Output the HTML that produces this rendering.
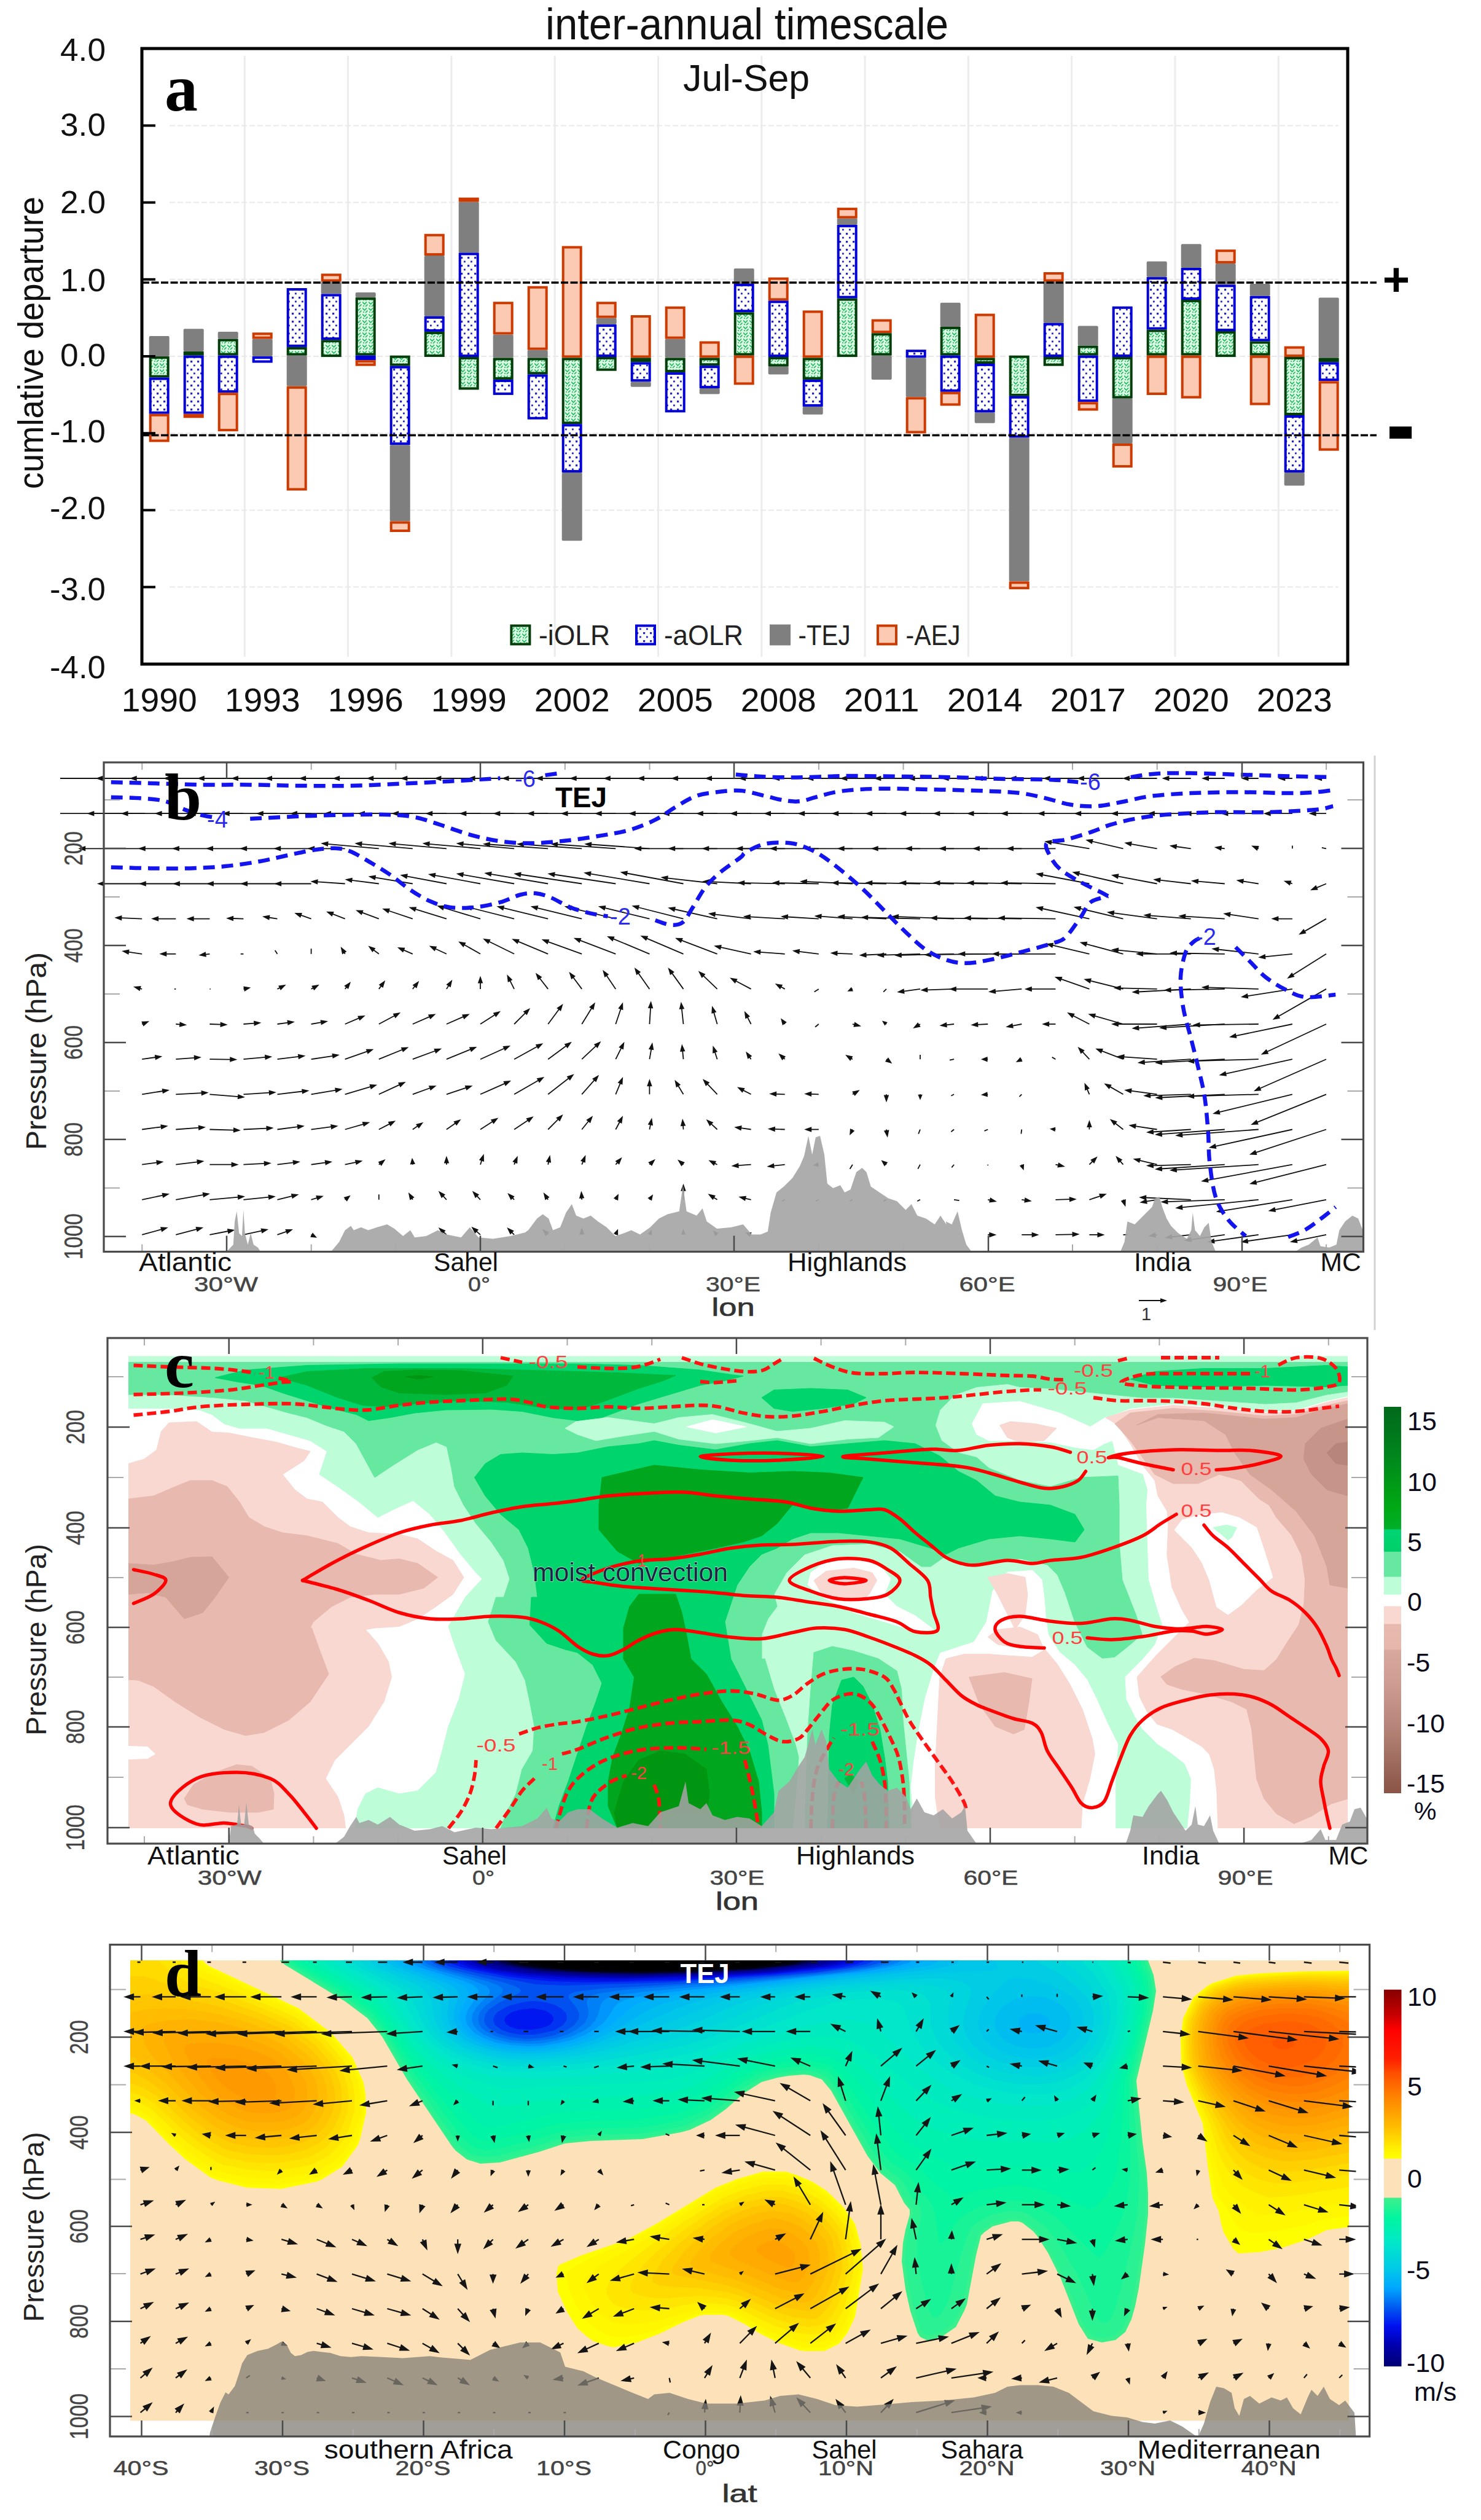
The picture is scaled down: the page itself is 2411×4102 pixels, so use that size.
<!DOCTYPE html>
<html><head><meta charset="utf-8"><title>figure</title>
<style>html,body{margin:0;padding:0;background:#fff}svg{display:block}text{font-family:"Liberation Sans",sans-serif}.pl{font-family:"Liberation Serif",serif;font-weight:bold}.cal{font-family:"Liberation Sans",sans-serif}</style>
</head><body>
<svg width="2411" height="4102" viewBox="0 0 2411 4102">
<defs><pattern id="pg" width="10" height="10" patternUnits="userSpaceOnUse"><rect width="10" height="10" fill="#dcf9e3"/><path d="M0 1.5L3.5 5L7 1.5M5 9L8.5 5.5" stroke="#1dbb5e" stroke-width="1.7" fill="none"/><circle cx="2" cy="8" r="1.1" fill="#1dbb5e"/></pattern>
<pattern id="pb" width="11" height="13" patternUnits="userSpaceOnUse"><rect width="11" height="13" fill="#fff"/><rect x="2" y="2" width="3.2" height="3.2" fill="#2626c8"/><rect x="7" y="8.5" width="2.8" height="2.8" fill="#2626c8"/></pattern>
<linearGradient id="cbc" x1="0" y1="0" x2="0" y2="1"><stop offset="0" stop-color="#006a1a"/><stop offset="0.06" stop-color="#00751c"/><stop offset="0.14" stop-color="#008a1c"/><stop offset="0.2" stop-color="#009a16"/><stop offset="0.26" stop-color="#00a814"/><stop offset="0.316" stop-color="#00b02a"/><stop offset="0.318" stop-color="#00d472"/><stop offset="0.374" stop-color="#00d06a"/><stop offset="0.376" stop-color="#66e8a0"/><stop offset="0.439" stop-color="#66e8a0"/><stop offset="0.441" stop-color="#bdfdd8"/><stop offset="0.485" stop-color="#bdfdd8"/><stop offset="0.487" stop-color="#ffffff"/><stop offset="0.515" stop-color="#ffffff"/><stop offset="0.517" stop-color="#f8d8d1"/><stop offset="0.561" stop-color="#f8d8d1"/><stop offset="0.563" stop-color="#e8b9ae"/><stop offset="0.627" stop-color="#e6b6ab"/><stop offset="0.63" stop-color="#d9a89c"/><stop offset="0.72" stop-color="#cd9b8f"/><stop offset="0.82" stop-color="#b8857a"/><stop offset="0.9" stop-color="#a37064"/><stop offset="1" stop-color="#8a5446"/></linearGradient>
<linearGradient id="cbd" x1="0" y1="0" x2="0" y2="1"><stop offset="0.0000" stop-color="#8a0000"/><stop offset="0.0049" stop-color="#8a0000"/><stop offset="0.0680" stop-color="#c80000"/><stop offset="0.1068" stop-color="#ff0000"/><stop offset="0.1845" stop-color="#ff2000"/><stop offset="0.2233" stop-color="#ff5000"/><stop offset="0.2913" stop-color="#ff8800"/><stop offset="0.3689" stop-color="#ffc000"/><stop offset="0.4223" stop-color="#fff000"/><stop offset="0.4476" stop-color="#ffff00"/><stop offset="0.4490" stop-color="#fde2b9"/><stop offset="0.5510" stop-color="#fde2b9"/><stop offset="0.5534" stop-color="#3df08c"/><stop offset="0.6068" stop-color="#00f5a0"/><stop offset="0.6699" stop-color="#00e8c8"/><stop offset="0.7427" stop-color="#00c8e8"/><stop offset="0.7913" stop-color="#00a8ff"/><stop offset="0.8398" stop-color="#0060f0"/><stop offset="0.8932" stop-color="#0010f0"/><stop offset="0.9417" stop-color="#0000b0"/><stop offset="0.9951" stop-color="#000078"/><stop offset="1.0000" stop-color="#000070"/></linearGradient></defs>
<rect width="2411" height="4102" fill="#fff"/>
<g id="pa"><rect x="396.8" y="91" width="3" height="978" fill="#ececec"/>
<rect x="565.1" y="91" width="3" height="978" fill="#ececec"/>
<rect x="733.4" y="91" width="3" height="978" fill="#ececec"/>
<rect x="901.7" y="91" width="3" height="978" fill="#ececec"/>
<rect x="1070" y="91" width="3" height="978" fill="#ececec"/>
<rect x="1238.3" y="91" width="3" height="978" fill="#ececec"/>
<rect x="1406.6" y="91" width="3" height="978" fill="#ececec"/>
<rect x="1574.9" y="91" width="3" height="978" fill="#ececec"/>
<rect x="1743.2" y="91" width="3" height="978" fill="#ececec"/>
<rect x="1911.5" y="91" width="3" height="978" fill="#ececec"/>
<rect x="2079.8" y="91" width="3" height="978" fill="#ececec"/>
<path d="M276 955.6H2179" stroke="#e9e9e9" stroke-width="2" stroke-dasharray="9 4"/>
<path d="M276 830.4H2179" stroke="#e9e9e9" stroke-width="2" stroke-dasharray="9 4"/>
<path d="M276 705.2H2179" stroke="#e9e9e9" stroke-width="2" stroke-dasharray="9 4"/>
<path d="M276 580H2179" stroke="#e9e9e9" stroke-width="2" stroke-dasharray="9 4"/>
<path d="M276 454.8H2179" stroke="#e9e9e9" stroke-width="2" stroke-dasharray="9 4"/>
<path d="M276 329.6H2179" stroke="#e9e9e9" stroke-width="2" stroke-dasharray="9 4"/>
<path d="M276 204.4H2179" stroke="#e9e9e9" stroke-width="2" stroke-dasharray="9 4"/>
<rect x="242.7" y="547" width="33" height="33.1" rx="2" fill="#7f7f7f"/>
<rect x="244.7" y="582.1" width="29" height="30.5" fill="url(#pg)" stroke="#033d0a" stroke-width="4"/>
<rect x="244.7" y="616.6" width="29" height="55.1" fill="url(#pb)" stroke="#0000d6" stroke-width="4"/>
<rect x="244.7" y="675.7" width="29" height="41.8" fill="#fcc9b3" stroke="#cc3a00" stroke-width="4"/>
<rect x="298.7" y="535.2" width="33" height="36.9" rx="2" fill="#7f7f7f"/>
<rect x="300.7" y="574.1" width="29" height="2.6" fill="url(#pg)" stroke="#033d0a" stroke-width="4"/>
<rect x="300.7" y="580.7" width="29" height="91" fill="url(#pb)" stroke="#0000d6" stroke-width="4"/>
<rect x="300.7" y="675.7" width="29" height="2.6" fill="#fcc9b3" stroke="#cc3a00" stroke-width="4"/>
<rect x="354.7" y="539.9" width="33" height="11.8" rx="2" fill="#7f7f7f"/>
<rect x="356.7" y="553.7" width="29" height="22.9" fill="url(#pg)" stroke="#033d0a" stroke-width="4"/>
<rect x="356.7" y="580.7" width="29" height="56.5" fill="url(#pb)" stroke="#0000d6" stroke-width="4"/>
<rect x="356.7" y="641.2" width="29" height="58.9" fill="#fcc9b3" stroke="#cc3a00" stroke-width="4"/>
<rect x="410.7" y="551.7" width="33" height="28.4" rx="2" fill="#7f7f7f"/>
<rect x="412.7" y="543.3" width="29" height="6.4" fill="#fcc9b3" stroke="#cc3a00" stroke-width="4"/>
<rect x="412.7" y="582.1" width="29" height="6.4" fill="url(#pb)" stroke="#0000d6" stroke-width="4"/>
<rect x="466.7" y="578.7" width="33" height="50.1" rx="2" fill="#7f7f7f"/>
<rect x="468.7" y="471" width="29" height="91.9" fill="url(#pb)" stroke="#0000d6" stroke-width="4"/>
<rect x="468.7" y="567" width="29" height="9.7" fill="url(#pg)" stroke="#033d0a" stroke-width="4"/>
<rect x="468.7" y="630.8" width="29" height="165.7" fill="#fcc9b3" stroke="#cc3a00" stroke-width="4"/>
<rect x="522.7" y="458.6" width="33" height="19.8" rx="2" fill="#7f7f7f"/>
<rect x="524.7" y="447.4" width="29" height="9.2" fill="#fcc9b3" stroke="#cc3a00" stroke-width="4"/>
<rect x="524.7" y="480.5" width="29" height="70.7" fill="url(#pb)" stroke="#0000d6" stroke-width="4"/>
<rect x="524.7" y="555.2" width="29" height="23.9" fill="url(#pg)" stroke="#033d0a" stroke-width="4"/>
<rect x="578.7" y="476.1" width="33" height="8" rx="2" fill="#7f7f7f"/>
<rect x="580.7" y="486.2" width="29" height="90.5" fill="url(#pg)" stroke="#033d0a" stroke-width="4"/>
<rect x="580.7" y="580.7" width="29" height="3.6" fill="url(#pb)" stroke="#0000d6" stroke-width="4"/>
<rect x="580.7" y="588.2" width="29" height="5.5" fill="#fcc9b3" stroke="#cc3a00" stroke-width="4"/>
<rect x="634.7" y="724.2" width="33" height="124.3" rx="2" fill="#7f7f7f"/>
<rect x="636.7" y="580.7" width="29" height="13" fill="url(#pg)" stroke="#033d0a" stroke-width="4"/>
<rect x="636.7" y="597.7" width="29" height="124.5" fill="url(#pb)" stroke="#0000d6" stroke-width="4"/>
<rect x="636.7" y="850.5" width="29" height="13.5" fill="#fcc9b3" stroke="#cc3a00" stroke-width="4"/>
<rect x="690.7" y="416.1" width="33" height="98.8" rx="2" fill="#7f7f7f"/>
<rect x="692.7" y="382.7" width="29" height="31.4" fill="#fcc9b3" stroke="#cc3a00" stroke-width="4"/>
<rect x="692.7" y="516.9" width="29" height="21" fill="url(#pb)" stroke="#0000d6" stroke-width="4"/>
<rect x="692.7" y="541.9" width="29" height="37.1" fill="url(#pg)" stroke="#033d0a" stroke-width="4"/>
<rect x="746.7" y="328.7" width="33" height="82.7" rx="2" fill="#7f7f7f"/>
<rect x="748.7" y="323.6" width="29" height="3.1" fill="#fcc9b3" stroke="#cc3a00" stroke-width="4"/>
<rect x="748.7" y="413.4" width="29" height="165.7" fill="url(#pb)" stroke="#0000d6" stroke-width="4"/>
<rect x="748.7" y="583" width="29" height="49.4" fill="url(#pg)" stroke="#033d0a" stroke-width="4"/>
<rect x="802.7" y="544.7" width="33" height="37.8" rx="2" fill="#7f7f7f"/>
<rect x="804.7" y="493.2" width="29" height="49.4" fill="#fcc9b3" stroke="#cc3a00" stroke-width="4"/>
<rect x="804.7" y="584.5" width="29" height="31.4" fill="url(#pg)" stroke="#033d0a" stroke-width="4"/>
<rect x="804.7" y="619.9" width="29" height="21" fill="url(#pb)" stroke="#0000d6" stroke-width="4"/>
<rect x="858.7" y="569.7" width="33" height="12.8" rx="2" fill="#7f7f7f"/>
<rect x="860.7" y="467.7" width="29" height="100" fill="#fcc9b3" stroke="#cc3a00" stroke-width="4"/>
<rect x="860.7" y="584.5" width="29" height="22.9" fill="url(#pg)" stroke="#033d0a" stroke-width="4"/>
<rect x="860.7" y="611.4" width="29" height="69.3" fill="url(#pb)" stroke="#0000d6" stroke-width="4"/>
<rect x="914.7" y="769.1" width="33" height="111.1" rx="2" fill="#7f7f7f"/>
<rect x="916.7" y="402.5" width="29" height="177.9" fill="#fcc9b3" stroke="#cc3a00" stroke-width="4"/>
<rect x="916.7" y="584.5" width="29" height="103.8" fill="url(#pg)" stroke="#033d0a" stroke-width="4"/>
<rect x="916.7" y="692.2" width="29" height="74.9" fill="url(#pb)" stroke="#0000d6" stroke-width="4"/>
<rect x="970.7" y="517.7" width="33" height="10.4" rx="2" fill="#7f7f7f"/>
<rect x="972.7" y="493.2" width="29" height="22.5" fill="#fcc9b3" stroke="#cc3a00" stroke-width="4"/>
<rect x="972.7" y="530.1" width="29" height="48.9" fill="url(#pb)" stroke="#0000d6" stroke-width="4"/>
<rect x="972.7" y="583" width="29" height="18.7" fill="url(#pg)" stroke="#033d0a" stroke-width="4"/>
<rect x="1026.7" y="621.2" width="33" height="8.5" rx="2" fill="#7f7f7f"/>
<rect x="1028.7" y="515" width="29" height="65.5" fill="#fcc9b3" stroke="#cc3a00" stroke-width="4"/>
<rect x="1028.7" y="584.5" width="29" height="3.1" fill="url(#pg)" stroke="#033d0a" stroke-width="4"/>
<rect x="1028.7" y="591.5" width="29" height="27.7" fill="url(#pb)" stroke="#0000d6" stroke-width="4"/>
<rect x="1082.7" y="551.7" width="33" height="30.7" rx="2" fill="#7f7f7f"/>
<rect x="1084.7" y="500.8" width="29" height="48.9" fill="#fcc9b3" stroke="#cc3a00" stroke-width="4"/>
<rect x="1084.7" y="584.5" width="29" height="19.6" fill="url(#pg)" stroke="#033d0a" stroke-width="4"/>
<rect x="1084.7" y="608.1" width="29" height="61.2" fill="url(#pb)" stroke="#0000d6" stroke-width="4"/>
<rect x="1138.7" y="632.1" width="33" height="9.5" rx="2" fill="#7f7f7f"/>
<rect x="1140.7" y="557.5" width="29" height="22.9" fill="#fcc9b3" stroke="#cc3a00" stroke-width="4"/>
<rect x="1140.7" y="584.5" width="29" height="8.8" fill="url(#pg)" stroke="#033d0a" stroke-width="4"/>
<rect x="1140.7" y="597.2" width="29" height="32.9" fill="url(#pb)" stroke="#0000d6" stroke-width="4"/>
<rect x="1194.7" y="436.9" width="33" height="25" rx="2" fill="#7f7f7f"/>
<rect x="1196.7" y="463.9" width="29" height="42.3" fill="url(#pb)" stroke="#0000d6" stroke-width="4"/>
<rect x="1196.7" y="510.3" width="29" height="66.4" fill="url(#pg)" stroke="#033d0a" stroke-width="4"/>
<rect x="1196.7" y="580.7" width="29" height="43.7" fill="#fcc9b3" stroke="#cc3a00" stroke-width="4"/>
<rect x="1250.7" y="596.6" width="33" height="12.8" rx="2" fill="#7f7f7f"/>
<rect x="1252.7" y="453.6" width="29" height="33.8" fill="#fcc9b3" stroke="#cc3a00" stroke-width="4"/>
<rect x="1252.7" y="491.4" width="29" height="87.7" fill="url(#pb)" stroke="#0000d6" stroke-width="4"/>
<rect x="1252.7" y="583" width="29" height="11.6" fill="url(#pg)" stroke="#033d0a" stroke-width="4"/>
<rect x="1306.7" y="661.9" width="33" height="12.8" rx="2" fill="#7f7f7f"/>
<rect x="1308.7" y="507.4" width="29" height="73" fill="#fcc9b3" stroke="#cc3a00" stroke-width="4"/>
<rect x="1308.7" y="584.5" width="29" height="31.4" fill="url(#pg)" stroke="#033d0a" stroke-width="4"/>
<rect x="1308.7" y="619.9" width="29" height="40" fill="url(#pb)" stroke="#0000d6" stroke-width="4"/>
<rect x="1362.7" y="355.6" width="33" height="10.4" rx="2" fill="#7f7f7f"/>
<rect x="1364.7" y="340.1" width="29" height="13.5" fill="#fcc9b3" stroke="#cc3a00" stroke-width="4"/>
<rect x="1364.7" y="368" width="29" height="115.6" fill="url(#pb)" stroke="#0000d6" stroke-width="4"/>
<rect x="1364.7" y="487.6" width="29" height="91.5" fill="url(#pg)" stroke="#033d0a" stroke-width="4"/>
<rect x="1418.7" y="578.7" width="33" height="39.2" rx="2" fill="#7f7f7f"/>
<rect x="1420.7" y="521.6" width="29" height="18.7" fill="#fcc9b3" stroke="#cc3a00" stroke-width="4"/>
<rect x="1420.7" y="544.3" width="29" height="32.4" fill="url(#pg)" stroke="#033d0a" stroke-width="4"/>
<rect x="1474.7" y="582.5" width="33" height="63.8" rx="2" fill="#7f7f7f"/>
<rect x="1476.7" y="571.2" width="29" height="9.2" fill="url(#pb)" stroke="#0000d6" stroke-width="4"/>
<rect x="1476.7" y="648.3" width="29" height="55.1" fill="#fcc9b3" stroke="#cc3a00" stroke-width="4"/>
<rect x="1530.7" y="492.7" width="33" height="39.2" rx="2" fill="#7f7f7f"/>
<rect x="1532.7" y="533.9" width="29" height="42.8" fill="url(#pg)" stroke="#033d0a" stroke-width="4"/>
<rect x="1532.7" y="580.7" width="29" height="55.1" fill="url(#pb)" stroke="#0000d6" stroke-width="4"/>
<rect x="1532.7" y="639.8" width="29" height="18.7" fill="#fcc9b3" stroke="#cc3a00" stroke-width="4"/>
<rect x="1586.7" y="671.3" width="33" height="17.5" rx="2" fill="#7f7f7f"/>
<rect x="1588.7" y="512.6" width="29" height="67.8" fill="#fcc9b3" stroke="#cc3a00" stroke-width="4"/>
<rect x="1588.7" y="584.5" width="29" height="5.5" fill="url(#pg)" stroke="#033d0a" stroke-width="4"/>
<rect x="1588.7" y="593.9" width="29" height="75.4" fill="url(#pb)" stroke="#0000d6" stroke-width="4"/>
<rect x="1642.7" y="712.4" width="33" height="233.9" rx="2" fill="#7f7f7f"/>
<rect x="1644.7" y="580.7" width="29" height="62.2" fill="url(#pg)" stroke="#033d0a" stroke-width="4"/>
<rect x="1644.7" y="646.8" width="29" height="63.6" fill="url(#pb)" stroke="#0000d6" stroke-width="4"/>
<rect x="1644.7" y="948.4" width="29" height="8.8" fill="#fcc9b3" stroke="#cc3a00" stroke-width="4"/>
<rect x="1698.7" y="458.6" width="33" height="67.1" rx="2" fill="#7f7f7f"/>
<rect x="1700.7" y="445" width="29" height="11.6" fill="#fcc9b3" stroke="#cc3a00" stroke-width="4"/>
<rect x="1700.7" y="527.7" width="29" height="51.3" fill="url(#pb)" stroke="#0000d6" stroke-width="4"/>
<rect x="1700.7" y="583" width="29" height="10.7" fill="url(#pg)" stroke="#033d0a" stroke-width="4"/>
<rect x="1754.7" y="530.5" width="33" height="32.1" rx="2" fill="#7f7f7f"/>
<rect x="1756.7" y="564.6" width="29" height="12.1" fill="url(#pg)" stroke="#033d0a" stroke-width="4"/>
<rect x="1756.7" y="580.7" width="29" height="71.6" fill="url(#pb)" stroke="#0000d6" stroke-width="4"/>
<rect x="1756.7" y="656.3" width="29" height="10.2" fill="#fcc9b3" stroke="#cc3a00" stroke-width="4"/>
<rect x="1810.7" y="648.6" width="33" height="73.3" rx="2" fill="#7f7f7f"/>
<rect x="1812.7" y="500.8" width="29" height="78.2" fill="url(#pb)" stroke="#0000d6" stroke-width="4"/>
<rect x="1812.7" y="583" width="29" height="63.6" fill="url(#pg)" stroke="#033d0a" stroke-width="4"/>
<rect x="1812.7" y="723.9" width="29" height="35.2" fill="#fcc9b3" stroke="#cc3a00" stroke-width="4"/>
<rect x="1866.7" y="425.6" width="33" height="25.5" rx="2" fill="#7f7f7f"/>
<rect x="1868.7" y="453.1" width="29" height="81.5" fill="url(#pb)" stroke="#0000d6" stroke-width="4"/>
<rect x="1868.7" y="538.6" width="29" height="38.1" fill="url(#pg)" stroke="#033d0a" stroke-width="4"/>
<rect x="1868.7" y="580.7" width="29" height="60.3" fill="#fcc9b3" stroke="#cc3a00" stroke-width="4"/>
<rect x="1922.7" y="397.2" width="33" height="38.8" rx="2" fill="#7f7f7f"/>
<rect x="1924.7" y="438" width="29" height="48" fill="url(#pb)" stroke="#0000d6" stroke-width="4"/>
<rect x="1924.7" y="489.9" width="29" height="86.7" fill="url(#pg)" stroke="#033d0a" stroke-width="4"/>
<rect x="1924.7" y="580.7" width="29" height="65.9" fill="#fcc9b3" stroke="#cc3a00" stroke-width="4"/>
<rect x="1978.7" y="428.9" width="33" height="34.5" rx="2" fill="#7f7f7f"/>
<rect x="1980.7" y="408.2" width="29" height="18.7" fill="#fcc9b3" stroke="#cc3a00" stroke-width="4"/>
<rect x="1980.7" y="465.4" width="29" height="71.6" fill="url(#pb)" stroke="#0000d6" stroke-width="4"/>
<rect x="1980.7" y="541" width="29" height="38.1" fill="url(#pg)" stroke="#033d0a" stroke-width="4"/>
<rect x="2034.7" y="461.9" width="33" height="19.8" rx="2" fill="#7f7f7f"/>
<rect x="2036.7" y="483.8" width="29" height="69.7" fill="url(#pb)" stroke="#0000d6" stroke-width="4"/>
<rect x="2036.7" y="557.5" width="29" height="19.2" fill="url(#pg)" stroke="#033d0a" stroke-width="4"/>
<rect x="2036.7" y="580.7" width="29" height="76.8" fill="#fcc9b3" stroke="#cc3a00" stroke-width="4"/>
<rect x="2090.7" y="769.1" width="33" height="21.3" rx="2" fill="#7f7f7f"/>
<rect x="2092.7" y="565.6" width="29" height="13.5" fill="#fcc9b3" stroke="#cc3a00" stroke-width="4"/>
<rect x="2092.7" y="583" width="29" height="91" fill="url(#pg)" stroke="#033d0a" stroke-width="4"/>
<rect x="2092.7" y="678" width="29" height="89.1" fill="url(#pb)" stroke="#0000d6" stroke-width="4"/>
<rect x="2146.7" y="484.6" width="33" height="97.8" rx="2" fill="#7f7f7f"/>
<rect x="2148.7" y="584.5" width="29" height="3.1" fill="url(#pg)" stroke="#033d0a" stroke-width="4"/>
<rect x="2148.7" y="591.5" width="29" height="26.7" fill="url(#pb)" stroke="#0000d6" stroke-width="4"/>
<rect x="2148.7" y="622.3" width="29" height="109.4" fill="#fcc9b3" stroke="#cc3a00" stroke-width="4"/>
<path d="M231 460H2241" stroke="#000" stroke-width="3.4" stroke-dasharray="12 3.5"/>
<path d="M231 708.5H2241" stroke="#000" stroke-width="3.4" stroke-dasharray="12 3.5"/>
<rect x="231" y="79" width="1963" height="1002" fill="none" stroke="#000" stroke-width="5"/>
<path d="M231 955.6H253" stroke="#000" stroke-width="4"/>
<path d="M231 830.4H253" stroke="#000" stroke-width="4"/>
<path d="M231 705.2H253" stroke="#000" stroke-width="4"/>
<path d="M231 580H253" stroke="#000" stroke-width="4"/>
<path d="M231 454.8H253" stroke="#000" stroke-width="4"/>
<path d="M231 329.6H253" stroke="#000" stroke-width="4"/>
<path d="M231 204.4H253" stroke="#000" stroke-width="4"/>
<text x="172" y="98.7" font-size="51" text-anchor="end" textLength="74" lengthAdjust="spacingAndGlyphs" fill="#111">4.0</text>
<text x="172" y="221" font-size="51" text-anchor="end" textLength="74" lengthAdjust="spacingAndGlyphs" fill="#111">3.0</text>
<text x="172" y="347" font-size="51" text-anchor="end" textLength="74" lengthAdjust="spacingAndGlyphs" fill="#111">2.0</text>
<text x="172" y="473.8" font-size="51" text-anchor="end" textLength="74" lengthAdjust="spacingAndGlyphs" fill="#111">1.0</text>
<text x="172" y="596" font-size="51" text-anchor="end" textLength="74" lengthAdjust="spacingAndGlyphs" fill="#111">0.0</text>
<text x="172" y="720" font-size="51" text-anchor="end" textLength="91" lengthAdjust="spacingAndGlyphs" fill="#111">-1.0</text>
<text x="172" y="844.5" font-size="51" text-anchor="end" textLength="91" lengthAdjust="spacingAndGlyphs" fill="#111">-2.0</text>
<text x="172" y="977" font-size="51" text-anchor="end" textLength="91" lengthAdjust="spacingAndGlyphs" fill="#111">-3.0</text>
<text x="172" y="1104" font-size="51" text-anchor="end" textLength="91" lengthAdjust="spacingAndGlyphs" fill="#111">-4.0</text>
<text x="259.2" y="1157.5" font-size="54" text-anchor="middle" textLength="123" lengthAdjust="spacingAndGlyphs" fill="#111">1990</text>
<text x="427.2" y="1157.5" font-size="54" text-anchor="middle" textLength="123" lengthAdjust="spacingAndGlyphs" fill="#111">1993</text>
<text x="595.2" y="1157.5" font-size="54" text-anchor="middle" textLength="123" lengthAdjust="spacingAndGlyphs" fill="#111">1996</text>
<text x="763.2" y="1157.5" font-size="54" text-anchor="middle" textLength="123" lengthAdjust="spacingAndGlyphs" fill="#111">1999</text>
<text x="931.2" y="1157.5" font-size="54" text-anchor="middle" textLength="123" lengthAdjust="spacingAndGlyphs" fill="#111">2002</text>
<text x="1099.2" y="1157.5" font-size="54" text-anchor="middle" textLength="123" lengthAdjust="spacingAndGlyphs" fill="#111">2005</text>
<text x="1267.2" y="1157.5" font-size="54" text-anchor="middle" textLength="123" lengthAdjust="spacingAndGlyphs" fill="#111">2008</text>
<text x="1435.2" y="1157.5" font-size="54" text-anchor="middle" textLength="123" lengthAdjust="spacingAndGlyphs" fill="#111">2011</text>
<text x="1603.2" y="1157.5" font-size="54" text-anchor="middle" textLength="123" lengthAdjust="spacingAndGlyphs" fill="#111">2014</text>
<text x="1771.2" y="1157.5" font-size="54" text-anchor="middle" textLength="123" lengthAdjust="spacingAndGlyphs" fill="#111">2017</text>
<text x="1939.2" y="1157.5" font-size="54" text-anchor="middle" textLength="123" lengthAdjust="spacingAndGlyphs" fill="#111">2020</text>
<text x="2107.2" y="1157.5" font-size="54" text-anchor="middle" textLength="123" lengthAdjust="spacingAndGlyphs" fill="#111">2023</text>
<text x="888" y="64" font-size="72" textLength="656" lengthAdjust="spacingAndGlyphs" fill="#111">inter-annual timescale</text>
<text x="1112" y="148" font-size="62" textLength="206" lengthAdjust="spacingAndGlyphs" fill="#111">Jul-Sep</text>
<text transform="translate(70 796) rotate(-90)" font-size="57" textLength="476" lengthAdjust="spacingAndGlyphs" fill="#111">cumlative departure</text>
<rect x="832.4" y="1018.5" width="30" height="30" fill="url(#pg)" stroke="#033d0a" stroke-width="4"/>
<text x="877" y="1050" font-size="46" textLength="116" lengthAdjust="spacingAndGlyphs" fill="#222">-iOLR</text>
<rect x="1036" y="1018.5" width="30" height="30" fill="url(#pb)" stroke="#0000d6" stroke-width="4"/>
<text x="1081" y="1050" font-size="46" textLength="129" lengthAdjust="spacingAndGlyphs" fill="#222">-aOLR</text>
<rect x="1253" y="1016.5" width="34" height="34" fill="#7f7f7f"/>
<text x="1299.6" y="1050" font-size="46" textLength="85" lengthAdjust="spacingAndGlyphs" fill="#222">-TEJ</text>
<rect x="1429" y="1018.5" width="30" height="30" fill="#fcc9b3" stroke="#cc3a00" stroke-width="4"/>
<text x="1474.6" y="1050" font-size="46" textLength="89" lengthAdjust="spacingAndGlyphs" fill="#222">-AEJ</text>
<text x="2273" y="481" font-size="76" font-weight="bold" text-anchor="middle" fill="#000">+</text>
<text transform="translate(2280 763.5) scale(1 2.5)" font-size="72" font-weight="bold" text-anchor="middle" fill="#000">−</text>
<text x="268" y="180" class="pl" font-size="108" fill="#000">a</text></g>
<g id="panel_b"><path d="M2238 1230V2165" stroke="#d2d2d2" stroke-width="3"/>
<clipPath id="cb"><rect x="98" y="1236" width="2121.5" height="801.5"/></clipPath>
<g clip-path="url(#cb)"><path d="M98 1267H236.2" stroke="#111" stroke-width="1.8"/><path d="M98 1324.2H236.2" stroke="#111" stroke-width="1.8"/><path d="M231.2 1267L166.6 1267" stroke="#111" stroke-width="1.8"/><path d="M155.6 1267L167.6 1262.8L167.6 1271.2Z" fill="#111"/><path d="M286.3 1267L221.7 1267" stroke="#111" stroke-width="1.8"/><path d="M210.7 1267L222.7 1262.8L222.7 1271.2Z" fill="#111"/><path d="M341.4 1267L276.7 1267" stroke="#111" stroke-width="1.8"/><path d="M265.7 1267L277.7 1262.8L277.7 1271.2Z" fill="#111"/><path d="M396.4 1267L331.8 1267" stroke="#111" stroke-width="1.8"/><path d="M320.8 1267L332.8 1262.8L332.8 1271.2Z" fill="#111"/><path d="M451.5 1267L386.9 1267" stroke="#111" stroke-width="1.8"/><path d="M375.9 1267L387.9 1262.8L387.9 1271.2Z" fill="#111"/><path d="M506.6 1267L442 1267" stroke="#111" stroke-width="1.8"/><path d="M431 1267L443 1262.8L443 1271.2Z" fill="#111"/><path d="M561.7 1267L497.1 1267" stroke="#111" stroke-width="1.8"/><path d="M486.1 1267L498.1 1262.8L498.1 1271.2Z" fill="#111"/><path d="M616.8 1267L552.1 1267" stroke="#111" stroke-width="1.8"/><path d="M541.1 1267L553.1 1262.8L553.1 1271.2Z" fill="#111"/><path d="M671.8 1267L607.2 1267" stroke="#111" stroke-width="1.8"/><path d="M596.2 1267L608.2 1262.8L608.2 1271.2Z" fill="#111"/><path d="M726.9 1267L662.3 1267" stroke="#111" stroke-width="1.8"/><path d="M651.3 1267L663.3 1262.8L663.3 1271.2Z" fill="#111"/><path d="M782 1267L717.4 1267" stroke="#111" stroke-width="1.8"/><path d="M706.4 1267L718.4 1262.8L718.4 1271.2Z" fill="#111"/><path d="M837.1 1267L772.5 1267" stroke="#111" stroke-width="1.8"/><path d="M761.5 1267L773.5 1262.8L773.5 1271.2Z" fill="#111"/><path d="M892.2 1267L827.5 1267" stroke="#111" stroke-width="1.8"/><path d="M816.5 1267L828.5 1262.8L828.5 1271.2Z" fill="#111"/><path d="M947.2 1267L882.6 1267" stroke="#111" stroke-width="1.8"/><path d="M871.6 1267L883.6 1262.8L883.6 1271.2Z" fill="#111"/><path d="M1002.3 1267L937.7 1267" stroke="#111" stroke-width="1.8"/><path d="M926.7 1267L938.7 1262.8L938.7 1271.2Z" fill="#111"/><path d="M1057.4 1267L992.8 1267" stroke="#111" stroke-width="1.8"/><path d="M981.8 1267L993.8 1262.8L993.8 1271.2Z" fill="#111"/><path d="M1112.5 1267L1047.9 1267" stroke="#111" stroke-width="1.8"/><path d="M1036.9 1267L1048.9 1262.8L1048.9 1271.2Z" fill="#111"/><path d="M1167.6 1267L1102.9 1267" stroke="#111" stroke-width="1.8"/><path d="M1091.9 1267L1103.9 1262.8L1103.9 1271.2Z" fill="#111"/><path d="M1222.6 1267L1158 1267" stroke="#111" stroke-width="1.8"/><path d="M1147 1267L1159 1262.8L1159 1271.2Z" fill="#111"/><path d="M1277.7 1267L1213.1 1267" stroke="#111" stroke-width="1.8"/><path d="M1202.1 1267L1214.1 1262.8L1214.1 1271.2Z" fill="#111"/><path d="M1332.8 1267L1268.2 1267" stroke="#111" stroke-width="1.8"/><path d="M1257.2 1267L1269.2 1262.8L1269.2 1271.2Z" fill="#111"/><path d="M1387.9 1267L1323.3 1267" stroke="#111" stroke-width="1.8"/><path d="M1312.3 1267L1324.3 1262.8L1324.3 1271.2Z" fill="#111"/><path d="M1443 1267L1378.3 1267" stroke="#111" stroke-width="1.8"/><path d="M1367.3 1267L1379.3 1262.8L1379.3 1271.2Z" fill="#111"/><path d="M1498 1267L1433.4 1267" stroke="#111" stroke-width="1.8"/><path d="M1422.4 1267L1434.4 1262.8L1434.4 1271.2Z" fill="#111"/><path d="M1553.1 1267L1488.5 1267" stroke="#111" stroke-width="1.8"/><path d="M1477.5 1267L1489.5 1262.8L1489.5 1271.2Z" fill="#111"/><path d="M1608.2 1267L1543.6 1267" stroke="#111" stroke-width="1.8"/><path d="M1532.6 1267L1544.6 1262.8L1544.6 1271.2Z" fill="#111"/><path d="M1663.3 1267L1598.7 1267" stroke="#111" stroke-width="1.8"/><path d="M1587.7 1267L1599.7 1262.8L1599.7 1271.2Z" fill="#111"/><path d="M1718.4 1267L1653.7 1267" stroke="#111" stroke-width="1.8"/><path d="M1642.7 1267L1654.7 1262.8L1654.7 1271.2Z" fill="#111"/><path d="M1773.4 1267L1708.8 1267" stroke="#111" stroke-width="1.8"/><path d="M1697.8 1267L1709.8 1262.8L1709.8 1271.2Z" fill="#111"/><path d="M1828.5 1267L1763.9 1267" stroke="#111" stroke-width="1.8"/><path d="M1752.9 1267L1764.9 1262.8L1764.9 1271.2Z" fill="#111"/><path d="M1883.6 1267L1837.9 1267" stroke="#111" stroke-width="1.8"/><path d="M1826.9 1267L1838.9 1262.8L1838.9 1271.2Z" fill="#111"/><path d="M1938.7 1267L1902.4 1267" stroke="#111" stroke-width="1.8"/><path d="M1891.4 1267L1903.4 1262.8L1903.4 1271.2Z" fill="#111"/><path d="M1993.8 1267L1967 1267" stroke="#111" stroke-width="1.8"/><path d="M1956 1267L1968 1262.8L1968 1271.2Z" fill="#111"/><path d="M2048.8 1267L2031.5 1267" stroke="#111" stroke-width="1.8"/><path d="M2020.5 1267L2032.5 1262.8L2032.5 1271.2Z" fill="#111"/><path d="M2103.9 1267L2091.3 1267" stroke="#111" stroke-width="1.8"/><path d="M2080.3 1267L2092.3 1262.8L2092.3 1271.2Z" fill="#111"/><path d="M2159 1267L2151.1 1267" stroke="#111" stroke-width="1.8"/><path d="M2140.1 1267L2152.1 1262.8L2152.1 1271.2Z" fill="#111"/><path d="M231.2 1324.2L152.4 1324.2" stroke="#111" stroke-width="1.8"/><path d="M141.4 1324.2L153.4 1319.9L153.4 1328.4Z" fill="#111"/><path d="M286.3 1324.2L207.5 1324.2" stroke="#111" stroke-width="1.8"/><path d="M196.5 1324.2L208.5 1319.9L208.5 1328.4Z" fill="#111"/><path d="M341.4 1324.2L262.6 1324.2" stroke="#111" stroke-width="1.8"/><path d="M251.6 1324.2L263.6 1319.9L263.6 1328.4Z" fill="#111"/><path d="M396.4 1324.2L317.6 1324.2" stroke="#111" stroke-width="1.8"/><path d="M306.6 1324.2L318.6 1319.9L318.6 1328.4Z" fill="#111"/><path d="M451.5 1324.2L372.7 1324.2" stroke="#111" stroke-width="1.8"/><path d="M361.7 1324.2L373.7 1319.9L373.7 1328.4Z" fill="#111"/><path d="M506.6 1324.2L427.8 1324.2" stroke="#111" stroke-width="1.8"/><path d="M416.8 1324.2L428.8 1319.9L428.8 1328.4Z" fill="#111"/><path d="M561.7 1324.2L482.9 1324.2" stroke="#111" stroke-width="1.8"/><path d="M471.9 1324.2L483.9 1319.9L483.9 1328.4Z" fill="#111"/><path d="M616.8 1324.2L538 1324.2" stroke="#111" stroke-width="1.8"/><path d="M527 1324.2L539 1319.9L539 1328.4Z" fill="#111"/><path d="M671.8 1324.2L593 1324.2" stroke="#111" stroke-width="1.8"/><path d="M582 1324.2L594 1319.9L594 1328.4Z" fill="#111"/><path d="M726.9 1324.2L648.1 1324.2" stroke="#111" stroke-width="1.8"/><path d="M637.1 1324.2L649.1 1319.9L649.1 1328.4Z" fill="#111"/><path d="M782 1324.2L703.2 1324.2" stroke="#111" stroke-width="1.8"/><path d="M692.2 1324.2L704.2 1319.9L704.2 1328.4Z" fill="#111"/><path d="M837.1 1324.2L758.3 1324.2" stroke="#111" stroke-width="1.8"/><path d="M747.3 1324.2L759.3 1319.9L759.3 1328.4Z" fill="#111"/><path d="M892.2 1324.2L813.4 1324.2" stroke="#111" stroke-width="1.8"/><path d="M802.4 1324.2L814.4 1319.9L814.4 1328.4Z" fill="#111"/><path d="M947.2 1324.2L868.4 1324.2" stroke="#111" stroke-width="1.8"/><path d="M857.4 1324.2L869.4 1319.9L869.4 1328.4Z" fill="#111"/><path d="M1002.3 1324.2L923.5 1324.2" stroke="#111" stroke-width="1.8"/><path d="M912.5 1324.2L924.5 1319.9L924.5 1328.4Z" fill="#111"/><path d="M1057.4 1324.2L978.6 1324.2" stroke="#111" stroke-width="1.8"/><path d="M967.6 1324.2L979.6 1319.9L979.6 1328.4Z" fill="#111"/><path d="M1112.5 1324.2L1033.7 1324.2" stroke="#111" stroke-width="1.8"/><path d="M1022.7 1324.2L1034.7 1319.9L1034.7 1328.4Z" fill="#111"/><path d="M1167.6 1324.2L1088.8 1324.2" stroke="#111" stroke-width="1.8"/><path d="M1077.8 1324.2L1089.8 1319.9L1089.8 1328.4Z" fill="#111"/><path d="M1222.6 1324.2L1143.8 1324.2" stroke="#111" stroke-width="1.8"/><path d="M1132.8 1324.2L1144.8 1319.9L1144.8 1328.4Z" fill="#111"/><path d="M1277.7 1324.2L1198.9 1324.2" stroke="#111" stroke-width="1.8"/><path d="M1187.9 1324.2L1199.9 1319.9L1199.9 1328.4Z" fill="#111"/><path d="M1332.8 1324.2L1254 1324.2" stroke="#111" stroke-width="1.8"/><path d="M1243 1324.2L1255 1319.9L1255 1328.4Z" fill="#111"/><path d="M1387.9 1324.2L1309.1 1324.2" stroke="#111" stroke-width="1.8"/><path d="M1298.1 1324.2L1310.1 1319.9L1310.1 1328.4Z" fill="#111"/><path d="M1443 1324.2L1364.2 1324.2" stroke="#111" stroke-width="1.8"/><path d="M1353.2 1324.2L1365.2 1319.9L1365.2 1328.4Z" fill="#111"/><path d="M1498 1324.2L1419.2 1324.2" stroke="#111" stroke-width="1.8"/><path d="M1408.2 1324.2L1420.2 1319.9L1420.2 1328.4Z" fill="#111"/><path d="M1553.1 1324.2L1474.3 1324.2" stroke="#111" stroke-width="1.8"/><path d="M1463.3 1324.2L1475.3 1319.9L1475.3 1328.4Z" fill="#111"/><path d="M1608.2 1324.2L1529.4 1324.2" stroke="#111" stroke-width="1.8"/><path d="M1518.4 1324.2L1530.4 1319.9L1530.4 1328.4Z" fill="#111"/><path d="M1663.3 1324.2L1584.5 1324.2" stroke="#111" stroke-width="1.8"/><path d="M1573.5 1324.2L1585.5 1319.9L1585.5 1328.4Z" fill="#111"/><path d="M1718.4 1324.2L1639.6 1324.2" stroke="#111" stroke-width="1.8"/><path d="M1628.6 1324.2L1640.6 1319.9L1640.6 1328.4Z" fill="#111"/><path d="M1773.4 1324.2L1699.4 1324.2" stroke="#111" stroke-width="1.8"/><path d="M1688.4 1324.2L1700.4 1319.9L1700.4 1328.4Z" fill="#111"/><path d="M1828.5 1324.2L1759.2 1324.2" stroke="#111" stroke-width="1.8"/><path d="M1748.2 1324.2L1760.2 1319.9L1760.2 1328.4Z" fill="#111"/><path d="M1883.6 1324.2L1819 1324.2" stroke="#111" stroke-width="1.8"/><path d="M1808 1324.2L1820 1319.9L1820 1328.4Z" fill="#111"/><path d="M1938.7 1324.2L1878.8 1324.2" stroke="#111" stroke-width="1.8"/><path d="M1867.8 1324.2L1879.8 1319.9L1879.8 1328.4Z" fill="#111"/><path d="M1993.8 1324.2L1938.6 1324.2" stroke="#111" stroke-width="1.8"/><path d="M1927.6 1324.2L1939.6 1319.9L1939.6 1328.4Z" fill="#111"/><path d="M2048.8 1324.2L1998.4 1324.2" stroke="#111" stroke-width="1.8"/><path d="M1987.4 1324.2L1999.4 1319.9L1999.4 1328.4Z" fill="#111"/><path d="M2103.9 1324.2L2067.7 1324.2" stroke="#111" stroke-width="1.8"/><path d="M2056.7 1324.2L2068.7 1319.9L2068.7 1328.4Z" fill="#111"/><path d="M2159 1324.2L2141.6 1324.2" stroke="#111" stroke-width="1.8"/><path d="M2130.6 1324.2L2142.6 1319.9L2142.6 1328.4Z" fill="#111"/><path d="M231.2 1381.3L138.2 1381.3" stroke="#111" stroke-width="1.8"/><path d="M127.2 1381.3L139.2 1377L139.2 1385.5Z" fill="#111"/><path d="M286.3 1381.3L235.8 1381.3" stroke="#111" stroke-width="1.8"/><path d="M224.8 1381.3L236.8 1377L236.8 1385.5Z" fill="#111"/><path d="M341.4 1381.3L290.9 1381.3" stroke="#111" stroke-width="1.8"/><path d="M279.9 1381.3L291.9 1377L291.9 1385.5Z" fill="#111"/><path d="M396.4 1381.3L346 1381.3" stroke="#111" stroke-width="1.8"/><path d="M335 1381.3L347 1377L347 1385.5Z" fill="#111"/><path d="M451.5 1381.3L401.1 1381.3" stroke="#111" stroke-width="1.8"/><path d="M390.1 1381.3L402.1 1377L402.1 1385.5Z" fill="#111"/><path d="M506.6 1381.3L456.2 1381.3" stroke="#111" stroke-width="1.8"/><path d="M445.2 1381.3L457.2 1377L457.2 1385.5Z" fill="#111"/><path d="M561.7 1381.3L511.2 1381.3" stroke="#111" stroke-width="1.8"/><path d="M500.2 1381.3L512.2 1377L512.2 1385.5Z" fill="#111"/><path d="M616.8 1381.3L533.2 1373.8" stroke="#111" stroke-width="1.8"/><path d="M522.2 1372.8L534.6 1369.6L533.8 1378.1Z" fill="#111"/><path d="M671.8 1381.3L588.3 1373.8" stroke="#111" stroke-width="1.8"/><path d="M577.3 1372.8L589.7 1369.6L588.9 1378.1Z" fill="#111"/><path d="M726.9 1381.3L643.4 1373.8" stroke="#111" stroke-width="1.8"/><path d="M632.4 1372.8L644.7 1369.6L644 1378.1Z" fill="#111"/><path d="M782 1381.3L698.4 1373.8" stroke="#111" stroke-width="1.8"/><path d="M687.5 1372.8L699.8 1369.6L699.1 1378.1Z" fill="#111"/><path d="M837.1 1381.3L753.5 1373.8" stroke="#111" stroke-width="1.8"/><path d="M742.6 1372.8L754.9 1369.6L754.1 1378.1Z" fill="#111"/><path d="M892.2 1381.3L796.8 1374.5" stroke="#111" stroke-width="1.8"/><path d="M785.8 1373.7L798.1 1370.4L797.5 1378.8Z" fill="#111"/><path d="M947.2 1381.3L851.9 1374.5" stroke="#111" stroke-width="1.8"/><path d="M840.9 1373.7L853.2 1370.4L852.6 1378.8Z" fill="#111"/><path d="M1002.3 1381.3L907 1374.5" stroke="#111" stroke-width="1.8"/><path d="M896 1373.7L908.3 1370.4L907.7 1378.8Z" fill="#111"/><path d="M1057.4 1381.3L962 1374.5" stroke="#111" stroke-width="1.8"/><path d="M951.1 1373.7L963.3 1370.4L962.7 1378.8Z" fill="#111"/><path d="M1112.5 1381.3L1043.1 1381.3" stroke="#111" stroke-width="1.8"/><path d="M1032.1 1381.3L1044.1 1377L1044.1 1385.5Z" fill="#111"/><path d="M1167.6 1381.3L1098.2 1381.3" stroke="#111" stroke-width="1.8"/><path d="M1087.2 1381.3L1099.2 1377L1099.2 1385.5Z" fill="#111"/><path d="M1222.6 1381.3L1153.3 1381.3" stroke="#111" stroke-width="1.8"/><path d="M1142.3 1381.3L1154.3 1377L1154.3 1385.5Z" fill="#111"/><path d="M1277.7 1381.3L1208.4 1381.3" stroke="#111" stroke-width="1.8"/><path d="M1197.4 1381.3L1209.4 1377L1209.4 1385.5Z" fill="#111"/><path d="M1332.8 1381.3L1263.5 1381.3" stroke="#111" stroke-width="1.8"/><path d="M1252.5 1381.3L1264.5 1377L1264.5 1385.5Z" fill="#111"/><path d="M1387.9 1381.3L1318.5 1381.3" stroke="#111" stroke-width="1.8"/><path d="M1307.5 1381.3L1319.5 1377L1319.5 1385.5Z" fill="#111"/><path d="M1443 1381.3L1373.6 1381.3" stroke="#111" stroke-width="1.8"/><path d="M1362.6 1381.3L1374.6 1377L1374.6 1385.5Z" fill="#111"/><path d="M1498 1381.3L1428.7 1381.3" stroke="#111" stroke-width="1.8"/><path d="M1417.7 1381.3L1429.7 1377L1429.7 1385.5Z" fill="#111"/><path d="M1553.1 1381.3L1483.8 1381.3" stroke="#111" stroke-width="1.8"/><path d="M1472.8 1381.3L1484.8 1377L1484.8 1385.5Z" fill="#111"/><path d="M1608.2 1381.3L1538.9 1381.3" stroke="#111" stroke-width="1.8"/><path d="M1527.9 1381.3L1539.9 1377L1539.9 1385.5Z" fill="#111"/><path d="M1663.3 1381.3L1593.9 1381.3" stroke="#111" stroke-width="1.8"/><path d="M1582.9 1381.3L1594.9 1377L1594.9 1385.5Z" fill="#111"/><path d="M1718.4 1381.3L1649 1381.3" stroke="#111" stroke-width="1.8"/><path d="M1638 1381.3L1650 1377L1650 1385.5Z" fill="#111"/><path d="M1773.4 1381.3L1711 1371.2" stroke="#111" stroke-width="1.8"/><path d="M1700.2 1369.5L1712.7 1367.2L1711.4 1375.6Z" fill="#111"/><path d="M1828.5 1381.3L1777.8 1369.6" stroke="#111" stroke-width="1.8"/><path d="M1767.1 1367.1L1779.7 1365.7L1777.8 1374Z" fill="#111"/><path d="M1883.6 1381.3L1841 1373.8" stroke="#111" stroke-width="1.8"/><path d="M1830.2 1371.8L1842.8 1369.8L1841.3 1378.1Z" fill="#111"/><path d="M1938.7 1381.3L1914.6 1378" stroke="#111" stroke-width="1.8"/><path d="M1903.7 1376.6L1916.2 1374L1915 1382.4Z" fill="#111"/><path d="M1993.8 1381.3L1987.6 1380.5" stroke="#111" stroke-width="1.8"/><path d="M1976.7 1378.9L1989.2 1376.4L1988 1384.8Z" fill="#111"/><path d="M2048.8 1381.3L2047.2 1380.7" stroke="#111" stroke-width="1.8"/><path d="M2037 1376.6L2049.7 1377.1L2046.6 1385Z" fill="#111"/><path d="M2103.9 1381.3L2103.9 1376.6" stroke="#111" stroke-width="1.8"/><path d="M2159 1381.3L2151.9 1379.9" stroke="#111" stroke-width="1.8"/><path d="M231.2 1438.5L168.9 1438.5" stroke="#111" stroke-width="1.8"/><path d="M157.9 1438.5L169.9 1434.2L169.9 1442.7Z" fill="#111"/><path d="M286.3 1438.5L236.8 1438.5" stroke="#111" stroke-width="1.8"/><path d="M225.8 1438.5L237.8 1434.2L237.8 1442.7Z" fill="#111"/><path d="M341.4 1438.5L291.9 1438.5" stroke="#111" stroke-width="1.8"/><path d="M280.9 1438.5L292.9 1434.2L292.9 1442.7Z" fill="#111"/><path d="M396.4 1438.5L346.9 1438.5" stroke="#111" stroke-width="1.8"/><path d="M335.9 1438.5L347.9 1434.2L347.9 1442.7Z" fill="#111"/><path d="M451.5 1438.5L402 1438.5" stroke="#111" stroke-width="1.8"/><path d="M391 1438.5L403 1434.2L403 1442.7Z" fill="#111"/><path d="M506.6 1438.5L457.1 1438.5" stroke="#111" stroke-width="1.8"/><path d="M446.1 1438.5L458.1 1434.2L458.1 1442.7Z" fill="#111"/><path d="M561.7 1438.5L516.4 1435.4" stroke="#111" stroke-width="1.8"/><path d="M505.4 1434.7L517.7 1431.2L517.1 1439.7Z" fill="#111"/><path d="M616.8 1438.5L572.4 1432.8" stroke="#111" stroke-width="1.8"/><path d="M561.5 1431.4L573.9 1428.7L572.8 1437.1Z" fill="#111"/><path d="M671.8 1438.5L610.4 1428.4" stroke="#111" stroke-width="1.8"/><path d="M599.5 1426.6L612.1 1424.4L610.7 1432.8Z" fill="#111"/><path d="M726.9 1438.5L662.1 1426.3" stroke="#111" stroke-width="1.8"/><path d="M651.3 1424.3L663.9 1422.3L662.3 1430.7Z" fill="#111"/><path d="M782 1438.5L707.8 1424.8" stroke="#111" stroke-width="1.8"/><path d="M696.9 1422.9L709.5 1420.8L708 1429.2Z" fill="#111"/><path d="M837.1 1438.5L753.4 1423.8" stroke="#111" stroke-width="1.8"/><path d="M742.6 1421.9L755.1 1419.8L753.6 1428.2Z" fill="#111"/><path d="M892.2 1438.5L799 1422.8" stroke="#111" stroke-width="1.8"/><path d="M788.2 1421L800.7 1418.8L799.3 1427.1Z" fill="#111"/><path d="M947.2 1438.5L847.1 1423.5" stroke="#111" stroke-width="1.8"/><path d="M836.2 1421.9L848.7 1419.5L847.4 1427.9Z" fill="#111"/><path d="M1002.3 1438.5L902.1 1423.5" stroke="#111" stroke-width="1.8"/><path d="M891.3 1421.9L903.8 1419.5L902.5 1427.9Z" fill="#111"/><path d="M1057.4 1438.5L961 1422.3" stroke="#111" stroke-width="1.8"/><path d="M950.1 1420.5L962.7 1418.3L961.3 1426.7Z" fill="#111"/><path d="M1112.5 1438.5L1020.3 1421.5" stroke="#111" stroke-width="1.8"/><path d="M1009.5 1419.5L1022 1417.5L1020.5 1425.9Z" fill="#111"/><path d="M1167.6 1438.5L1086.3 1429.3" stroke="#111" stroke-width="1.8"/><path d="M1075.4 1428.1L1087.8 1425.2L1086.9 1433.6Z" fill="#111"/><path d="M1222.6 1438.5L1154.2 1435.2" stroke="#111" stroke-width="1.8"/><path d="M1143.2 1434.7L1155.4 1431L1155 1439.5Z" fill="#111"/><path d="M1277.7 1438.5L1211.2 1437.2" stroke="#111" stroke-width="1.8"/><path d="M1200.2 1437L1212.3 1433L1212.1 1441.5Z" fill="#111"/><path d="M1332.8 1438.5L1267.7 1437.2" stroke="#111" stroke-width="1.8"/><path d="M1256.7 1437L1268.8 1433L1268.6 1441.5Z" fill="#111"/><path d="M1387.9 1438.5L1312.9 1435.2" stroke="#111" stroke-width="1.8"/><path d="M1301.9 1434.7L1314 1431L1313.7 1439.4Z" fill="#111"/><path d="M1443 1438.5L1364.2 1437.2" stroke="#111" stroke-width="1.8"/><path d="M1353.2 1437L1365.2 1433L1365.1 1441.5Z" fill="#111"/><path d="M1498 1438.5L1419.2 1437.2" stroke="#111" stroke-width="1.8"/><path d="M1408.2 1437L1420.3 1433L1420.2 1441.5Z" fill="#111"/><path d="M1553.1 1438.5L1474.3 1437.2" stroke="#111" stroke-width="1.8"/><path d="M1463.3 1437L1475.4 1433L1475.3 1441.5Z" fill="#111"/><path d="M1608.2 1438.5L1529.4 1437.2" stroke="#111" stroke-width="1.8"/><path d="M1518.4 1437L1530.5 1433L1530.3 1441.5Z" fill="#111"/><path d="M1663.3 1438.5L1584.5 1437.2" stroke="#111" stroke-width="1.8"/><path d="M1573.5 1437L1585.6 1433L1585.4 1441.5Z" fill="#111"/><path d="M1718.4 1438.5L1639.6 1437.2" stroke="#111" stroke-width="1.8"/><path d="M1628.6 1437L1640.6 1433L1640.5 1441.5Z" fill="#111"/><path d="M1773.4 1438.5L1696.8 1424" stroke="#111" stroke-width="1.8"/><path d="M1686 1421.9L1698.6 1420L1697 1428.3Z" fill="#111"/><path d="M1828.5 1438.5L1756.1 1422" stroke="#111" stroke-width="1.8"/><path d="M1745.3 1419.5L1758 1418.1L1756.1 1426.4Z" fill="#111"/><path d="M1883.6 1438.5L1819.7 1426.3" stroke="#111" stroke-width="1.8"/><path d="M1808.9 1424.3L1821.5 1422.3L1819.9 1430.7Z" fill="#111"/><path d="M1938.7 1438.5L1888.2 1432.6" stroke="#111" stroke-width="1.8"/><path d="M1877.2 1431.4L1889.7 1428.5L1888.7 1437Z" fill="#111"/><path d="M1993.8 1438.5L1949.9 1434.7" stroke="#111" stroke-width="1.8"/><path d="M1938.9 1433.7L1951.3 1430.5L1950.5 1439Z" fill="#111"/><path d="M2048.8 1438.5L2023.3 1434.5" stroke="#111" stroke-width="1.8"/><path d="M2012.5 1432.8L2025 1430.4L2023.7 1438.8Z" fill="#111"/><path d="M2103.9 1438.5L2100.2 1437.2" stroke="#111" stroke-width="1.8"/><path d="M2089.7 1433.7L2102.5 1433.5L2099.8 1441.6Z" fill="#111"/><path d="M2159 1438.5L2143.2 1445.1" stroke="#111" stroke-width="1.8"/><path d="M2133 1449.3L2142.4 1440.8L2145.7 1448.6Z" fill="#111"/><path d="M231.2 1495.6L197.3 1494.2" stroke="#111" stroke-width="1.8"/><path d="M186.3 1493.7L198.5 1490L198.1 1498.5Z" fill="#111"/><path d="M286.3 1495.6L257.1 1495.6" stroke="#111" stroke-width="1.8"/><path d="M246.1 1495.6L258.1 1491.3L258.1 1499.8Z" fill="#111"/><path d="M341.4 1495.6L314.6 1495.6" stroke="#111" stroke-width="1.8"/><path d="M303.6 1495.6L315.6 1491.3L315.6 1499.8Z" fill="#111"/><path d="M396.4 1495.6L379.1 1495" stroke="#111" stroke-width="1.8"/><path d="M368.1 1494.7L380.2 1490.8L379.9 1499.3Z" fill="#111"/><path d="M451.5 1495.6L437.8 1493.5" stroke="#111" stroke-width="1.8"/><path d="M426.9 1491.8L439.5 1489.4L438.2 1497.8Z" fill="#111"/><path d="M506.6 1495.6L489.6 1489.7" stroke="#111" stroke-width="1.8"/><path d="M479.2 1486.1L491.9 1486L489.1 1494.1Z" fill="#111"/><path d="M561.7 1495.6L541.2 1487.7" stroke="#111" stroke-width="1.8"/><path d="M531 1483.8L543.7 1484.1L540.6 1492.1Z" fill="#111"/><path d="M616.8 1495.6L589.3 1485.3" stroke="#111" stroke-width="1.8"/><path d="M579 1481.4L591.7 1481.7L588.7 1489.6Z" fill="#111"/><path d="M671.8 1495.6L632.7 1482.5" stroke="#111" stroke-width="1.8"/><path d="M622.2 1479.1L634.9 1478.8L632.3 1486.9Z" fill="#111"/><path d="M726.9 1495.6L676 1479.9" stroke="#111" stroke-width="1.8"/><path d="M665.5 1476.7L678.2 1476.2L675.7 1484.3Z" fill="#111"/><path d="M782 1495.6L721.6 1477.5" stroke="#111" stroke-width="1.8"/><path d="M711.1 1474.3L723.8 1473.7L721.4 1481.9Z" fill="#111"/><path d="M837.1 1495.6L767.4 1478" stroke="#111" stroke-width="1.8"/><path d="M756.7 1475.3L769.4 1474.1L767.3 1482.3Z" fill="#111"/><path d="M892.2 1495.6L819.2 1477.9" stroke="#111" stroke-width="1.8"/><path d="M808.5 1475.3L821.2 1474L819.2 1482.2Z" fill="#111"/><path d="M947.2 1495.6L874.3 1477.9" stroke="#111" stroke-width="1.8"/><path d="M863.6 1475.3L876.3 1474L874.2 1482.2Z" fill="#111"/><path d="M1002.3 1495.6L929.4 1477.9" stroke="#111" stroke-width="1.8"/><path d="M918.7 1475.3L931.3 1474L929.3 1482.2Z" fill="#111"/><path d="M1057.4 1495.6L984.4 1477.9" stroke="#111" stroke-width="1.8"/><path d="M973.8 1475.3L986.4 1474L984.4 1482.2Z" fill="#111"/><path d="M1112.5 1495.6L1039 1477" stroke="#111" stroke-width="1.8"/><path d="M1028.4 1474.3L1041 1473.2L1039 1481.4Z" fill="#111"/><path d="M1167.6 1495.6L1098 1480" stroke="#111" stroke-width="1.8"/><path d="M1087.2 1477.6L1099.9 1476.1L1098 1484.4Z" fill="#111"/><path d="M1222.6 1495.6L1163.6 1488.4" stroke="#111" stroke-width="1.8"/><path d="M1152.7 1487.1L1165.1 1484.3L1164.1 1492.8Z" fill="#111"/><path d="M1277.7 1495.6L1220.7 1492.4" stroke="#111" stroke-width="1.8"/><path d="M1209.7 1491.8L1221.9 1488.2L1221.4 1496.7Z" fill="#111"/><path d="M1332.8 1495.6L1281.9 1492.5" stroke="#111" stroke-width="1.8"/><path d="M1270.9 1491.8L1283.1 1488.3L1282.6 1496.8Z" fill="#111"/><path d="M1387.9 1495.6L1336.5 1491.7" stroke="#111" stroke-width="1.8"/><path d="M1325.5 1490.9L1337.8 1487.5L1337.1 1496Z" fill="#111"/><path d="M1443 1495.6L1374.1 1492.3" stroke="#111" stroke-width="1.8"/><path d="M1363.1 1491.8L1375.3 1488.1L1374.9 1496.6Z" fill="#111"/><path d="M1498 1495.6L1412.2 1493.5" stroke="#111" stroke-width="1.8"/><path d="M1401.2 1493.2L1413.3 1489.3L1413.1 1497.8Z" fill="#111"/><path d="M1553.1 1495.6L1462 1492.2" stroke="#111" stroke-width="1.8"/><path d="M1451 1491.8L1463.2 1488L1462.9 1496.5Z" fill="#111"/><path d="M1608.2 1495.6L1524.7 1494.3" stroke="#111" stroke-width="1.8"/><path d="M1513.7 1494.2L1525.7 1490.1L1525.6 1498.6Z" fill="#111"/><path d="M1663.3 1495.6L1579.8 1494.3" stroke="#111" stroke-width="1.8"/><path d="M1568.8 1494.2L1580.8 1490.1L1580.7 1498.6Z" fill="#111"/><path d="M1718.4 1495.6L1634.8 1494.3" stroke="#111" stroke-width="1.8"/><path d="M1623.8 1494.2L1635.9 1490.1L1635.8 1498.6Z" fill="#111"/><path d="M1773.4 1495.6L1696.8 1479" stroke="#111" stroke-width="1.8"/><path d="M1686 1476.7L1698.6 1475.1L1696.8 1483.4Z" fill="#111"/><path d="M1828.5 1495.6L1758.4 1478.8" stroke="#111" stroke-width="1.8"/><path d="M1747.7 1476.2L1760.4 1474.9L1758.4 1483.2Z" fill="#111"/><path d="M1883.6 1495.6L1812.7 1486.2" stroke="#111" stroke-width="1.8"/><path d="M1801.8 1484.7L1814.3 1482.1L1813.2 1490.5Z" fill="#111"/><path d="M1938.7 1495.6L1872.1 1490.3" stroke="#111" stroke-width="1.8"/><path d="M1861.2 1489.5L1873.5 1486.2L1872.8 1494.6Z" fill="#111"/><path d="M1993.8 1495.6L1929.1 1491.6" stroke="#111" stroke-width="1.8"/><path d="M1918.1 1490.9L1930.4 1487.4L1929.9 1495.9Z" fill="#111"/><path d="M2048.8 1495.6L2002.1 1488.7" stroke="#111" stroke-width="1.8"/><path d="M1991.2 1487.1L2003.7 1484.6L2002.4 1493Z" fill="#111"/><path d="M2103.9 1495.6L2080.4 1495.6" stroke="#111" stroke-width="1.8"/><path d="M2069.4 1495.6L2081.4 1491.3L2081.4 1499.8Z" fill="#111"/><path d="M2159 1495.6L2123.6 1516.1" stroke="#111" stroke-width="1.8"/><path d="M2114.1 1521.6L2122.4 1511.9L2126.6 1519.3Z" fill="#111"/><path d="M231.2 1552.8L209 1549.6" stroke="#111" stroke-width="1.8"/><path d="M198.1 1548L210.6 1545.5L209.4 1553.9Z" fill="#111"/><path d="M286.3 1552.8L270.3 1552.8" stroke="#111" stroke-width="1.8"/><path d="M259.3 1552.8L271.3 1548.5L271.3 1557Z" fill="#111"/><path d="M341.4 1552.8L334.3 1553.7" stroke="#111" stroke-width="1.8"/><path d="M323.4 1555.1L334.7 1549.3L335.9 1557.8Z" fill="#111"/><path d="M396.4 1552.8L391.7 1552.8" stroke="#111" stroke-width="1.8"/><path d="M451.5 1552.8L447.7 1547.1" stroke="#111" stroke-width="1.8"/><path d="M506.6 1552.8L506.6 1544.2" stroke="#111" stroke-width="1.8"/><path d="M561.7 1552.8L560.3 1550.4" stroke="#111" stroke-width="1.8"/><path d="M554.6 1540.9L564.4 1549L557.1 1553.4Z" fill="#111"/><path d="M616.8 1552.8L608 1546.2" stroke="#111" stroke-width="1.8"/><path d="M599.3 1539.5L611.4 1543.4L606.3 1550.1Z" fill="#111"/><path d="M671.8 1552.8L656.9 1546.3" stroke="#111" stroke-width="1.8"/><path d="M646.8 1541.9L659.5 1542.8L656.1 1550.6Z" fill="#111"/><path d="M726.9 1552.8L708.5 1544.2" stroke="#111" stroke-width="1.8"/><path d="M698.6 1539.5L711.2 1540.7L707.6 1548.4Z" fill="#111"/><path d="M782 1552.8L755.7 1537.8" stroke="#111" stroke-width="1.8"/><path d="M746.1 1532.4L758.6 1534.6L754.4 1542Z" fill="#111"/><path d="M837.1 1552.8L795.9 1532.5" stroke="#111" stroke-width="1.8"/><path d="M786 1527.7L798.7 1529.2L794.9 1536.8Z" fill="#111"/><path d="M892.2 1552.8L843.2 1532.4" stroke="#111" stroke-width="1.8"/><path d="M833.1 1528.2L845.8 1528.9L842.5 1536.7Z" fill="#111"/><path d="M947.2 1552.8L891.9 1532.8" stroke="#111" stroke-width="1.8"/><path d="M881.6 1529.1L894.3 1529.2L891.4 1537.2Z" fill="#111"/><path d="M1002.3 1552.8L944.1 1530.7" stroke="#111" stroke-width="1.8"/><path d="M933.8 1526.8L946.5 1527L943.5 1535Z" fill="#111"/><path d="M1057.4 1552.8L998.1 1528.1" stroke="#111" stroke-width="1.8"/><path d="M987.9 1523.9L1000.6 1524.6L997.4 1532.4Z" fill="#111"/><path d="M1112.5 1552.8L1052.7 1527.3" stroke="#111" stroke-width="1.8"/><path d="M1042.5 1523L1055.2 1523.8L1051.9 1531.6Z" fill="#111"/><path d="M1167.6 1552.8L1109.3 1530.7" stroke="#111" stroke-width="1.8"/><path d="M1099 1526.8L1111.8 1527L1108.7 1535Z" fill="#111"/><path d="M1222.6 1552.8L1172.9 1541.9" stroke="#111" stroke-width="1.8"/><path d="M1162.1 1539.5L1174.8 1537.9L1173 1546.2Z" fill="#111"/><path d="M1277.7 1552.8L1237.2 1549.8" stroke="#111" stroke-width="1.8"/><path d="M1226.2 1549L1238.5 1545.6L1237.9 1554.1Z" fill="#111"/><path d="M1332.8 1552.8L1300.7 1548.9" stroke="#111" stroke-width="1.8"/><path d="M1289.8 1547.6L1302.2 1544.8L1301.2 1553.2Z" fill="#111"/><path d="M1387.9 1552.8L1362.5 1551.8" stroke="#111" stroke-width="1.8"/><path d="M1351.5 1551.3L1363.6 1547.6L1363.3 1556Z" fill="#111"/><path d="M1443 1552.8L1409.5 1554.5" stroke="#111" stroke-width="1.8"/><path d="M1398.5 1555.1L1410.3 1550.2L1410.7 1558.7Z" fill="#111"/><path d="M1498 1552.8L1438.1 1554.7" stroke="#111" stroke-width="1.8"/><path d="M1427.2 1555.1L1439 1550.5L1439.3 1559Z" fill="#111"/><path d="M1553.1 1552.8L1466.8 1554.8" stroke="#111" stroke-width="1.8"/><path d="M1455.8 1555.1L1467.7 1550.6L1467.9 1559.1Z" fill="#111"/><path d="M1608.2 1552.8L1515.2 1554" stroke="#111" stroke-width="1.8"/><path d="M1504.2 1554.2L1516.2 1549.8L1516.3 1558.3Z" fill="#111"/><path d="M1663.3 1552.8L1570.3 1552.8" stroke="#111" stroke-width="1.8"/><path d="M1559.3 1552.8L1571.3 1548.5L1571.3 1557Z" fill="#111"/><path d="M1718.4 1552.8L1625.4 1552.8" stroke="#111" stroke-width="1.8"/><path d="M1614.4 1552.8L1626.4 1548.5L1626.4 1557Z" fill="#111"/><path d="M1773.4 1552.8L1713.3 1538.7" stroke="#111" stroke-width="1.8"/><path d="M1702.6 1536.2L1715.2 1534.8L1713.3 1543.1Z" fill="#111"/><path d="M1828.5 1552.8L1768.3 1536.7" stroke="#111" stroke-width="1.8"/><path d="M1757.6 1533.8L1770.3 1532.8L1768.1 1541Z" fill="#111"/><path d="M1883.6 1552.8L1819.9 1546.7" stroke="#111" stroke-width="1.8"/><path d="M1808.9 1545.7L1821.3 1542.6L1820.5 1551Z" fill="#111"/><path d="M1938.7 1552.8L1859.9 1552.8" stroke="#111" stroke-width="1.8"/><path d="M1848.9 1552.8L1860.9 1548.5L1860.9 1557Z" fill="#111"/><path d="M1993.8 1552.8L1915 1551.5" stroke="#111" stroke-width="1.8"/><path d="M1904 1551.3L1916 1547.3L1915.9 1555.8Z" fill="#111"/><path d="M2048.8 1552.8L1983.2 1545.5" stroke="#111" stroke-width="1.8"/><path d="M1972.3 1544.2L1984.7 1541.3L1983.7 1549.8Z" fill="#111"/><path d="M2103.9 1552.8L2059.1 1557.3" stroke="#111" stroke-width="1.8"/><path d="M2048.2 1558.4L2059.7 1553L2060.5 1561.4Z" fill="#111"/><path d="M2159 1552.8L2104.5 1587.1" stroke="#111" stroke-width="1.8"/><path d="M2095.2 1592.9L2103.1 1582.9L2107.6 1590.1Z" fill="#111"/><path d="M231.2 1609.9L227.7 1609" stroke="#111" stroke-width="1.8"/><path d="M217 1606.1L229.7 1605.1L227.5 1613.3Z" fill="#111"/><path d="M286.3 1609.9L283.9 1609.9" stroke="#111" stroke-width="1.8"/><path d="M341.4 1609.9L342.8 1609.9" stroke="#111" stroke-width="1.8"/><path d="M396.4 1609.9L398 1609.6" stroke="#111" stroke-width="1.8"/><path d="M408.3 1607.5L397.9 1613.9L396.2 1605.6Z" fill="#111"/><path d="M451.5 1609.9L455.9 1607.7" stroke="#111" stroke-width="1.8"/><path d="M465.7 1602.8L456.9 1612L453.1 1604.4Z" fill="#111"/><path d="M506.6 1609.9L510.1 1608" stroke="#111" stroke-width="1.8"/><path d="M519.8 1602.8L511.3 1612.2L507.2 1604.7Z" fill="#111"/><path d="M561.7 1609.9L564.3 1606.7" stroke="#111" stroke-width="1.8"/><path d="M571.1 1598.1L567 1610.1L560.3 1604.8Z" fill="#111"/><path d="M616.8 1609.9L620.7 1604.6" stroke="#111" stroke-width="1.8"/><path d="M627.2 1595.7L623.5 1607.9L616.6 1602.9Z" fill="#111"/><path d="M671.8 1609.9L675.4 1605.3" stroke="#111" stroke-width="1.8"/><path d="M682.2 1596.7L678.2 1608.7L671.5 1603.5Z" fill="#111"/><path d="M726.9 1609.9L730.5 1604.1" stroke="#111" stroke-width="1.8"/><path d="M736.4 1594.8L733.6 1607.2L726.4 1602.7Z" fill="#111"/><path d="M782 1609.9L782 1599.6" stroke="#111" stroke-width="1.8"/><path d="M782 1588.6L786.2 1600.6L777.8 1600.6Z" fill="#111"/><path d="M837.1 1609.9L830.2 1596.1" stroke="#111" stroke-width="1.8"/><path d="M825.3 1586.3L834.4 1595.1L826.8 1598.9Z" fill="#111"/><path d="M892.2 1609.9L878.5 1592.2" stroke="#111" stroke-width="1.8"/><path d="M871.8 1583.4L882.5 1590.4L875.8 1595.5Z" fill="#111"/><path d="M947.2 1609.9L933 1590.8" stroke="#111" stroke-width="1.8"/><path d="M926.4 1582L937 1589.1L930.2 1594.2Z" fill="#111"/><path d="M1002.3 1609.9L987.3 1587.8" stroke="#111" stroke-width="1.8"/><path d="M981.1 1578.7L991.3 1586.2L984.3 1591Z" fill="#111"/><path d="M1057.4 1609.9L1039.1 1583.9" stroke="#111" stroke-width="1.8"/><path d="M1032.8 1574.9L1043.2 1582.3L1036.2 1587.2Z" fill="#111"/><path d="M1112.5 1609.9L1093.8 1583.9" stroke="#111" stroke-width="1.8"/><path d="M1087.4 1574.9L1097.9 1582.2L1091 1587.2Z" fill="#111"/><path d="M1167.6 1609.9L1144.8 1588.2" stroke="#111" stroke-width="1.8"/><path d="M1136.8 1580.6L1148.5 1585.8L1142.6 1592Z" fill="#111"/><path d="M1222.6 1609.9L1197.8 1596.7" stroke="#111" stroke-width="1.8"/><path d="M1188.1 1591.5L1200.7 1593.4L1196.7 1600.9Z" fill="#111"/><path d="M1277.7 1609.9L1271.3 1606.3" stroke="#111" stroke-width="1.8"/><path d="M1261.7 1600.9L1274.2 1603.1L1270.1 1610.5Z" fill="#111"/><path d="M1332.8 1609.9L1325.7 1614.6" stroke="#111" stroke-width="1.8"/><path d="M1387.9 1609.9L1386.5 1610.5" stroke="#111" stroke-width="1.8"/><path d="M1379.4 1613.7L1386 1606.8L1388.9 1613.4Z" fill="#111"/><path d="M1443 1609.9L1438.2 1614.6" stroke="#111" stroke-width="1.8"/><path d="M1498 1609.9L1471.1 1613.6" stroke="#111" stroke-width="1.8"/><path d="M1460.2 1615.1L1471.5 1609.3L1472.7 1617.7Z" fill="#111"/><path d="M1553.1 1609.9L1509.3 1611.4" stroke="#111" stroke-width="1.8"/><path d="M1498.3 1611.8L1510.1 1607.1L1510.4 1615.6Z" fill="#111"/><path d="M1608.2 1609.9L1555.9 1609.9" stroke="#111" stroke-width="1.8"/><path d="M1544.9 1609.9L1556.9 1605.7L1556.9 1614.2Z" fill="#111"/><path d="M1663.3 1609.9L1619.9 1613.7" stroke="#111" stroke-width="1.8"/><path d="M1608.9 1614.6L1620.5 1609.4L1621.3 1617.8Z" fill="#111"/><path d="M1718.4 1609.9L1678.8 1609.9" stroke="#111" stroke-width="1.8"/><path d="M1667.8 1609.9L1679.8 1605.7L1679.8 1614.2Z" fill="#111"/><path d="M1773.4 1609.9L1727.1 1593.7" stroke="#111" stroke-width="1.8"/><path d="M1716.7 1590.1L1729.5 1590L1726.7 1598Z" fill="#111"/><path d="M1828.5 1609.9L1774.9 1596.5" stroke="#111" stroke-width="1.8"/><path d="M1764.2 1593.8L1776.9 1592.6L1774.9 1600.9Z" fill="#111"/><path d="M1883.6 1609.9L1823.7 1608.3" stroke="#111" stroke-width="1.8"/><path d="M1812.7 1608L1824.8 1604.1L1824.6 1612.6Z" fill="#111"/><path d="M1938.7 1609.9L1853.3 1614.5" stroke="#111" stroke-width="1.8"/><path d="M1842.3 1615.1L1854 1610.2L1854.5 1618.7Z" fill="#111"/><path d="M1993.8 1609.9L1905.5 1611.6" stroke="#111" stroke-width="1.8"/><path d="M1894.5 1611.8L1906.4 1607.3L1906.6 1615.8Z" fill="#111"/><path d="M2048.8 1609.9L1966.7 1607.4" stroke="#111" stroke-width="1.8"/><path d="M1955.7 1607.1L1967.9 1603.2L1967.6 1611.7Z" fill="#111"/><path d="M2103.9 1609.9L2030.7 1621.4" stroke="#111" stroke-width="1.8"/><path d="M2019.8 1623.1L2031 1617.1L2032.3 1625.5Z" fill="#111"/><path d="M2159 1609.9L2081.1 1654.5" stroke="#111" stroke-width="1.8"/><path d="M2071.6 1660L2079.9 1650.3L2084.1 1657.7Z" fill="#111"/><path d="M231.2 1667L232.8 1666.4" stroke="#111" stroke-width="1.8"/><path d="M243 1662.3L233.5 1670.7L230.3 1662.8Z" fill="#111"/><path d="M286.3 1667L293.3 1667.6" stroke="#111" stroke-width="1.8"/><path d="M304.2 1668.5L291.9 1671.8L292.6 1663.3Z" fill="#111"/><path d="M341.4 1667L359.7 1667.6" stroke="#111" stroke-width="1.8"/><path d="M370.7 1668L358.5 1671.9L358.8 1663.4Z" fill="#111"/><path d="M396.4 1667L414.3 1665.6" stroke="#111" stroke-width="1.8"/><path d="M425.3 1664.7L413.7 1669.9L413 1661.4Z" fill="#111"/><path d="M451.5 1667L469 1664.7" stroke="#111" stroke-width="1.8"/><path d="M479.9 1663.3L468.5 1669.1L467.4 1660.6Z" fill="#111"/><path d="M506.6 1667L523.2 1664.2" stroke="#111" stroke-width="1.8"/><path d="M534 1662.3L522.9 1668.6L521.5 1660.2Z" fill="#111"/><path d="M561.7 1667L584.7 1657.2" stroke="#111" stroke-width="1.8"/><path d="M594.8 1652.9L585.4 1661.5L582.1 1653.7Z" fill="#111"/><path d="M616.8 1667L642.5 1653.3" stroke="#111" stroke-width="1.8"/><path d="M652.2 1648.1L643.6 1657.5L639.6 1650Z" fill="#111"/><path d="M671.8 1667L699.6 1654.9" stroke="#111" stroke-width="1.8"/><path d="M709.6 1650.5L700.4 1659.2L696.9 1651.4Z" fill="#111"/><path d="M726.9 1667L754.6 1654.9" stroke="#111" stroke-width="1.8"/><path d="M764.7 1650.5L755.4 1659.2L752 1651.4Z" fill="#111"/><path d="M782 1667L805.8 1651.7" stroke="#111" stroke-width="1.8"/><path d="M815.1 1645.8L807.3 1655.8L802.7 1648.7Z" fill="#111"/><path d="M837.1 1667L855.3 1648.8" stroke="#111" stroke-width="1.8"/><path d="M863.1 1641.1L857.6 1652.5L851.6 1646.5Z" fill="#111"/><path d="M892.2 1667L910.2 1642.8" stroke="#111" stroke-width="1.8"/><path d="M916.7 1634L913 1646.1L906.2 1641.1Z" fill="#111"/><path d="M947.2 1667L963.2 1641" stroke="#111" stroke-width="1.8"/><path d="M969 1631.6L966.3 1644.1L959.1 1639.6Z" fill="#111"/><path d="M1002.3 1667L1010.7 1642" stroke="#111" stroke-width="1.8"/><path d="M1014.1 1631.6L1014.4 1644.3L1006.3 1641.6Z" fill="#111"/><path d="M1057.4 1667L1059.1 1640.2" stroke="#111" stroke-width="1.8"/><path d="M1059.8 1629.2L1063.3 1641.5L1054.8 1641Z" fill="#111"/><path d="M1112.5 1667L1109.8 1641.6" stroke="#111" stroke-width="1.8"/><path d="M1108.7 1630.7L1114.2 1642.2L1105.7 1643Z" fill="#111"/><path d="M1167.6 1667L1162.1 1647.9" stroke="#111" stroke-width="1.8"/><path d="M1159.1 1637.3L1166.4 1647.6L1158.3 1650Z" fill="#111"/><path d="M1222.6 1667L1216.8 1655.6" stroke="#111" stroke-width="1.8"/><path d="M1211.8 1645.8L1221 1654.5L1213.4 1658.4Z" fill="#111"/><path d="M1277.7 1667L1276.8 1665.8" stroke="#111" stroke-width="1.8"/><path d="M1271.1 1657.6L1280.9 1664.1L1273.9 1669Z" fill="#111"/><path d="M1332.8 1667L1327.1 1671.8" stroke="#111" stroke-width="1.8"/><path d="M1387.9 1667L1391.3 1667.9" stroke="#111" stroke-width="1.8"/><path d="M1402.1 1670.4L1389.4 1671.8L1391.3 1663.5Z" fill="#111"/><path d="M1443 1667L1441.8 1666.1" stroke="#111" stroke-width="1.8"/><path d="M1435.9 1661.4L1444.8 1664L1440.4 1669.5Z" fill="#111"/><path d="M1498 1667L1495.7 1668.5" stroke="#111" stroke-width="1.8"/><path d="M1486.2 1674.1L1494.3 1664.3L1498.7 1671.6Z" fill="#111"/><path d="M1553.1 1667L1540.4 1668.3" stroke="#111" stroke-width="1.8"/><path d="M1529.5 1669.4L1541 1664L1541.9 1672.4Z" fill="#111"/><path d="M1608.2 1667L1591.3 1667.9" stroke="#111" stroke-width="1.8"/><path d="M1580.3 1668.5L1592.1 1663.6L1592.5 1672.1Z" fill="#111"/><path d="M1663.3 1667L1648.1 1669.8" stroke="#111" stroke-width="1.8"/><path d="M1637.3 1671.8L1648.3 1665.4L1649.9 1673.8Z" fill="#111"/><path d="M1718.4 1667L1707.1 1667" stroke="#111" stroke-width="1.8"/><path d="M1696.1 1667L1708.1 1662.8L1708.1 1671.3Z" fill="#111"/><path d="M1773.4 1667L1746.8 1653.2" stroke="#111" stroke-width="1.8"/><path d="M1737.1 1648.1L1749.7 1649.9L1745.7 1657.4Z" fill="#111"/><path d="M1828.5 1667L1781.9 1653.6" stroke="#111" stroke-width="1.8"/><path d="M1771.3 1650.5L1784 1649.8L1781.7 1657.9Z" fill="#111"/><path d="M1883.6 1667L1819.9 1667" stroke="#111" stroke-width="1.8"/><path d="M1808.9 1667L1820.9 1662.8L1820.9 1671.3Z" fill="#111"/><path d="M1938.7 1667L1853.2 1673.3" stroke="#111" stroke-width="1.8"/><path d="M1842.3 1674.1L1853.9 1669L1854.6 1677.5Z" fill="#111"/><path d="M1993.8 1667L1897.9 1672.6" stroke="#111" stroke-width="1.8"/><path d="M1887 1673.2L1898.7 1668.3L1899.2 1676.7Z" fill="#111"/><path d="M2048.8 1667L1952.6 1668.3" stroke="#111" stroke-width="1.8"/><path d="M1941.6 1668.5L1953.5 1664.1L1953.6 1672.6Z" fill="#111"/><path d="M2103.9 1667L2011.7 1686.1" stroke="#111" stroke-width="1.8"/><path d="M2000.9 1688.3L2011.8 1681.7L2013.5 1690.1Z" fill="#111"/><path d="M2159 1667L2062.6 1712" stroke="#111" stroke-width="1.8"/><path d="M2052.7 1716.7L2061.7 1707.7L2065.3 1715.4Z" fill="#111"/><path d="M231.2 1724.2L253.4 1721" stroke="#111" stroke-width="1.8"/><path d="M264.3 1719.5L253 1725.4L251.8 1717Z" fill="#111"/><path d="M286.3 1724.2L316.9 1721.8" stroke="#111" stroke-width="1.8"/><path d="M327.9 1720.9L316.2 1726.1L315.6 1717.6Z" fill="#111"/><path d="M341.4 1724.2L375.3 1724.6" stroke="#111" stroke-width="1.8"/><path d="M386.3 1724.7L374.2 1728.8L374.3 1720.3Z" fill="#111"/><path d="M396.4 1724.2L432.3 1720.9" stroke="#111" stroke-width="1.8"/><path d="M443.2 1719.9L431.7 1725.3L430.9 1716.8Z" fill="#111"/><path d="M451.5 1724.2L486.4 1719.9" stroke="#111" stroke-width="1.8"/><path d="M497.4 1718.5L486 1724.2L484.9 1715.8Z" fill="#111"/><path d="M506.6 1724.2L542 1718.8" stroke="#111" stroke-width="1.8"/><path d="M552.9 1717.1L541.7 1723.1L540.4 1714.7Z" fill="#111"/><path d="M561.7 1724.2L598.1 1711.3" stroke="#111" stroke-width="1.8"/><path d="M608.5 1707.7L598.6 1715.7L595.7 1707.7Z" fill="#111"/><path d="M616.8 1724.2L655.3 1708.5" stroke="#111" stroke-width="1.8"/><path d="M665.4 1704.4L655.9 1712.8L652.7 1704.9Z" fill="#111"/><path d="M671.8 1724.2L708.8 1710.5" stroke="#111" stroke-width="1.8"/><path d="M719.1 1706.7L709.3 1714.9L706.4 1706.9Z" fill="#111"/><path d="M726.9 1724.2L766.4 1708" stroke="#111" stroke-width="1.8"/><path d="M776.5 1703.9L767 1712.4L763.8 1704.5Z" fill="#111"/><path d="M782 1724.2L821.1 1706.5" stroke="#111" stroke-width="1.8"/><path d="M831.1 1702L822 1710.8L818.5 1703.1Z" fill="#111"/><path d="M837.1 1724.2L874.7 1703.5" stroke="#111" stroke-width="1.8"/><path d="M884.3 1698.2L875.9 1707.7L871.8 1700.3Z" fill="#111"/><path d="M892.2 1724.2L922 1702.3" stroke="#111" stroke-width="1.8"/><path d="M930.9 1695.8L923.7 1706.4L918.7 1699.5Z" fill="#111"/><path d="M947.2 1724.2L970.4 1702.4" stroke="#111" stroke-width="1.8"/><path d="M978.4 1694.9L972.6 1706.2L966.8 1700Z" fill="#111"/><path d="M1002.3 1724.2L1011.6 1705.7" stroke="#111" stroke-width="1.8"/><path d="M1016.5 1695.8L1014.9 1708.5L1007.3 1704.7Z" fill="#111"/><path d="M1057.4 1724.2L1060.3 1707.6" stroke="#111" stroke-width="1.8"/><path d="M1062.1 1696.8L1064.3 1709.3L1055.9 1707.9Z" fill="#111"/><path d="M1112.5 1724.2L1111.2 1710.6" stroke="#111" stroke-width="1.8"/><path d="M1110.1 1699.6L1115.5 1711.2L1107 1712Z" fill="#111"/><path d="M1167.6 1724.2L1163.8 1712.5" stroke="#111" stroke-width="1.8"/><path d="M1160.5 1702L1168.2 1712.1L1160.1 1714.7Z" fill="#111"/><path d="M1222.6 1724.2L1220.2 1720.6" stroke="#111" stroke-width="1.8"/><path d="M1214.1 1711.4L1224.3 1719.1L1217.3 1723.8Z" fill="#111"/><path d="M1277.7 1724.2L1275.5 1722.1" stroke="#111" stroke-width="1.8"/><path d="M1267.3 1714.7L1279.1 1719.7L1273.3 1726Z" fill="#111"/><path d="M1387.9 1724.2L1385.5 1722.8" stroke="#111" stroke-width="1.8"/><path d="M1376.1 1717.1L1388.5 1719.6L1384.2 1726.9Z" fill="#111"/><path d="M1443 1724.2L1444.2 1725.2" stroke="#111" stroke-width="1.8"/><path d="M1452.4 1731.3L1440.9 1728L1446 1721.2Z" fill="#111"/><path d="M1498 1724.2L1498 1717.1" stroke="#111" stroke-width="1.8"/><path d="M1553.1 1724.2L1546 1725.6" stroke="#111" stroke-width="1.8"/><path d="M1608.2 1724.2L1606.6 1724.2" stroke="#111" stroke-width="1.8"/><path d="M1596.9 1724.2L1607.6 1720L1607.6 1728.5Z" fill="#111"/><path d="M1663.3 1724.2L1661.9 1724.9" stroke="#111" stroke-width="1.8"/><path d="M1653.8 1728.9L1661 1720.8L1664.6 1728.1Z" fill="#111"/><path d="M1718.4 1724.2L1712.7 1720.9" stroke="#111" stroke-width="1.8"/><path d="M1773.4 1724.2L1762 1711.9" stroke="#111" stroke-width="1.8"/><path d="M1754.5 1703.9L1765.8 1709.8L1759.6 1715.6Z" fill="#111"/><path d="M1828.5 1724.2L1793.4 1710.7" stroke="#111" stroke-width="1.8"/><path d="M1783.2 1706.7L1795.9 1707.1L1792.8 1715Z" fill="#111"/><path d="M1883.6 1724.2L1829.4 1720.3" stroke="#111" stroke-width="1.8"/><path d="M1818.4 1719.5L1830.7 1716.1L1830 1724.6Z" fill="#111"/><path d="M1938.7 1724.2L1862.7 1729.2" stroke="#111" stroke-width="1.8"/><path d="M1851.7 1729.9L1863.4 1724.8L1864 1733.3Z" fill="#111"/><path d="M1993.8 1724.2L1890.9 1729.3" stroke="#111" stroke-width="1.8"/><path d="M1879.9 1729.9L1891.6 1725L1892.1 1733.5Z" fill="#111"/><path d="M2048.8 1724.2L1943.1 1727.2" stroke="#111" stroke-width="1.8"/><path d="M1932.1 1727.5L1944 1722.9L1944.2 1731.4Z" fill="#111"/><path d="M2103.9 1724.2L1995.1 1747.9" stroke="#111" stroke-width="1.8"/><path d="M1984.4 1750.2L1995.2 1743.5L1997 1751.8Z" fill="#111"/><path d="M2159 1724.2L2050.9 1771.8" stroke="#111" stroke-width="1.8"/><path d="M2040.9 1776.2L2050.1 1767.5L2053.5 1775.2Z" fill="#111"/><path d="M231.2 1781.3L265.2 1776" stroke="#111" stroke-width="1.8"/><path d="M276.1 1774.3L264.9 1780.3L263.6 1771.9Z" fill="#111"/><path d="M286.3 1781.3L328.7 1779.1" stroke="#111" stroke-width="1.8"/><path d="M339.7 1778.5L327.9 1783.4L327.5 1774.9Z" fill="#111"/><path d="M341.4 1781.3L388.1 1785.2" stroke="#111" stroke-width="1.8"/><path d="M399 1786.1L386.7 1789.3L387.4 1780.9Z" fill="#111"/><path d="M396.4 1781.3L438.9 1778.7" stroke="#111" stroke-width="1.8"/><path d="M449.8 1778L438.1 1783L437.6 1774.5Z" fill="#111"/><path d="M451.5 1781.3L492.6 1776.5" stroke="#111" stroke-width="1.8"/><path d="M503.5 1775.2L492.1 1780.8L491.1 1772.4Z" fill="#111"/><path d="M506.6 1781.3L546.8 1774.7" stroke="#111" stroke-width="1.8"/><path d="M557.6 1772.8L546.5 1779L545.1 1770.6Z" fill="#111"/><path d="M561.7 1781.3L603.6 1768.9" stroke="#111" stroke-width="1.8"/><path d="M614.1 1765.8L603.8 1773.2L601.4 1765.1Z" fill="#111"/><path d="M616.8 1781.3L650.7 1765.6" stroke="#111" stroke-width="1.8"/><path d="M660.7 1761L651.6 1769.9L648 1762.2Z" fill="#111"/><path d="M671.8 1781.3L700.3 1771" stroke="#111" stroke-width="1.8"/><path d="M710.6 1767.2L700.8 1775.3L697.9 1767.3Z" fill="#111"/><path d="M726.9 1781.3L759 1770.7" stroke="#111" stroke-width="1.8"/><path d="M769.5 1767.2L759.4 1775L756.7 1766.9Z" fill="#111"/><path d="M782 1781.3L822 1763.6" stroke="#111" stroke-width="1.8"/><path d="M832.1 1759.1L822.8 1767.9L819.4 1760.1Z" fill="#111"/><path d="M837.1 1781.3L876.7 1758.5" stroke="#111" stroke-width="1.8"/><path d="M886.2 1753L878 1762.7L873.7 1755.3Z" fill="#111"/><path d="M892.2 1781.3L926 1755" stroke="#111" stroke-width="1.8"/><path d="M934.7 1748.3L927.8 1759L922.6 1752.3Z" fill="#111"/><path d="M947.2 1781.3L967.9 1757.9" stroke="#111" stroke-width="1.8"/><path d="M975.1 1749.7L970.4 1761.5L964 1755.9Z" fill="#111"/><path d="M1002.3 1781.3L1009.9 1763.1" stroke="#111" stroke-width="1.8"/><path d="M1014.1 1753L1013.4 1765.7L1005.6 1762.4Z" fill="#111"/><path d="M1057.4 1781.3L1057.4 1767.3" stroke="#111" stroke-width="1.8"/><path d="M1057.4 1756.3L1061.7 1768.3L1053.2 1768.3Z" fill="#111"/><path d="M1112.5 1781.3L1104 1767.2" stroke="#111" stroke-width="1.8"/><path d="M1098.3 1757.7L1108.1 1765.8L1100.8 1770.2Z" fill="#111"/><path d="M1167.6 1781.3L1151.5 1764.3" stroke="#111" stroke-width="1.8"/><path d="M1143.9 1756.3L1155.3 1762.1L1149.1 1767.9Z" fill="#111"/><path d="M1222.6 1781.3L1209.7 1774.6" stroke="#111" stroke-width="1.8"/><path d="M1200 1769.5L1212.6 1771.3L1208.6 1778.8Z" fill="#111"/><path d="M1277.7 1781.3L1263.2 1780.8" stroke="#111" stroke-width="1.8"/><path d="M1252.2 1780.4L1264.3 1776.6L1264 1785.1Z" fill="#111"/><path d="M1332.8 1781.3L1320.2 1780.8" stroke="#111" stroke-width="1.8"/><path d="M1309.2 1780.4L1321.3 1776.6L1321 1785.1Z" fill="#111"/><path d="M1387.9 1781.3L1390.3 1779.9" stroke="#111" stroke-width="1.8"/><path d="M1399.7 1774.3L1391.6 1784.1L1387.2 1776.8Z" fill="#111"/><path d="M1443 1781.3L1443 1783.6" stroke="#111" stroke-width="1.8"/><path d="M1443 1794.6L1438.7 1782.6L1447.2 1782.6Z" fill="#111"/><path d="M1498 1781.3L1498 1782.8" stroke="#111" stroke-width="1.8"/><path d="M1498 1790.8L1494.4 1781.8L1501.7 1781.8Z" fill="#111"/><path d="M1553.1 1781.3L1548.4 1783.7" stroke="#111" stroke-width="1.8"/><path d="M1608.2 1781.3L1606.6 1781.5" stroke="#111" stroke-width="1.8"/><path d="M1596.9 1782.3L1607.3 1777.2L1608 1785.6Z" fill="#111"/><path d="M1663.3 1781.3L1659.5 1785.1" stroke="#111" stroke-width="1.8"/><path d="M1773.4 1781.3L1769.7 1772.6" stroke="#111" stroke-width="1.8"/><path d="M1765.4 1762.4L1774 1771.8L1766.2 1775.2Z" fill="#111"/><path d="M1828.5 1781.3L1806.9 1768.9" stroke="#111" stroke-width="1.8"/><path d="M1797.3 1763.4L1809.8 1765.7L1805.6 1773.1Z" fill="#111"/><path d="M1883.6 1781.3L1841.1 1775.7" stroke="#111" stroke-width="1.8"/><path d="M1830.2 1774.3L1842.7 1771.6L1841.5 1780.1Z" fill="#111"/><path d="M1938.7 1781.3L1872.2 1783.4" stroke="#111" stroke-width="1.8"/><path d="M1861.2 1783.7L1873 1779.1L1873.3 1787.6Z" fill="#111"/><path d="M1993.8 1781.3L1891.3 1786.5" stroke="#111" stroke-width="1.8"/><path d="M1880.3 1787L1892.1 1782.2L1892.5 1790.7Z" fill="#111"/><path d="M2048.8 1781.3L1943.1 1784.3" stroke="#111" stroke-width="1.8"/><path d="M1932.1 1784.7L1944 1780.1L1944.2 1788.6Z" fill="#111"/><path d="M2103.9 1781.3L1984.6 1810.4" stroke="#111" stroke-width="1.8"/><path d="M1974 1813L1984.6 1806L1986.6 1814.3Z" fill="#111"/><path d="M2159 1781.3L2046.3 1826.9" stroke="#111" stroke-width="1.8"/><path d="M2036.1 1831L2045.7 1822.5L2048.8 1830.4Z" fill="#111"/><path d="M231.2 1838.5L262.8 1834.3" stroke="#111" stroke-width="1.8"/><path d="M273.7 1832.8L262.4 1838.6L261.3 1830.2Z" fill="#111"/><path d="M286.3 1838.5L324 1835.6" stroke="#111" stroke-width="1.8"/><path d="M335 1834.7L323.3 1839.9L322.7 1831.4Z" fill="#111"/><path d="M341.4 1838.5L380.9 1839.6" stroke="#111" stroke-width="1.8"/><path d="M391.9 1839.9L379.8 1843.8L380.1 1835.3Z" fill="#111"/><path d="M396.4 1838.5L434.6 1836.7" stroke="#111" stroke-width="1.8"/><path d="M445.6 1836.1L433.8 1841L433.4 1832.5Z" fill="#111"/><path d="M451.5 1838.5L485 1834.2" stroke="#111" stroke-width="1.8"/><path d="M495.9 1832.8L484.6 1838.6L483.5 1830.1Z" fill="#111"/><path d="M506.6 1838.5L539.6 1834.2" stroke="#111" stroke-width="1.8"/><path d="M550.6 1832.8L539.2 1838.6L538.1 1830.1Z" fill="#111"/><path d="M561.7 1838.5L591.8 1829.8" stroke="#111" stroke-width="1.8"/><path d="M602.3 1826.7L592 1834.1L589.6 1826Z" fill="#111"/><path d="M616.8 1838.5L634.4 1829.4" stroke="#111" stroke-width="1.8"/><path d="M644.2 1824.3L635.5 1833.6L631.6 1826.1Z" fill="#111"/><path d="M671.8 1838.5L680.2 1832.8" stroke="#111" stroke-width="1.8"/><path d="M689.3 1826.7L681.8 1836.9L677 1829.9Z" fill="#111"/><path d="M726.9 1838.5L741.5 1828.3" stroke="#111" stroke-width="1.8"/><path d="M750.5 1822L743.2 1832.3L738.3 1825.4Z" fill="#111"/><path d="M782 1838.5L802.1 1825.6" stroke="#111" stroke-width="1.8"/><path d="M811.3 1819.6L803.5 1829.7L798.9 1822.5Z" fill="#111"/><path d="M837.1 1838.5L859.6 1823.4" stroke="#111" stroke-width="1.8"/><path d="M868.7 1817.2L861.2 1827.5L856.4 1820.4Z" fill="#111"/><path d="M892.2 1838.5L909 1821.7" stroke="#111" stroke-width="1.8"/><path d="M916.7 1813.9L911.3 1825.4L905.2 1819.4Z" fill="#111"/><path d="M947.2 1838.5L958.3 1824.8" stroke="#111" stroke-width="1.8"/><path d="M965.2 1816.3L961 1828.3L954.3 1822.9Z" fill="#111"/><path d="M1002.3 1838.5L1009 1826" stroke="#111" stroke-width="1.8"/><path d="M1014.1 1816.3L1012.3 1828.9L1004.7 1824.9Z" fill="#111"/><path d="M1057.4 1838.5L1059 1830.4" stroke="#111" stroke-width="1.8"/><path d="M1061.2 1819.6L1063 1832.2L1054.7 1830.5Z" fill="#111"/><path d="M1112.5 1838.5L1112 1832" stroke="#111" stroke-width="1.8"/><path d="M1111.1 1821L1116.3 1832.6L1107.8 1833.3Z" fill="#111"/><path d="M1167.6 1838.5L1157.7 1829.4" stroke="#111" stroke-width="1.8"/><path d="M1149.6 1822L1161.3 1827L1155.5 1833.2Z" fill="#111"/><path d="M1222.6 1838.5L1206.1 1836.2" stroke="#111" stroke-width="1.8"/><path d="M1195.2 1834.7L1207.7 1832.1L1206.5 1840.6Z" fill="#111"/><path d="M1277.7 1838.5L1260.8 1837.9" stroke="#111" stroke-width="1.8"/><path d="M1249.8 1837.6L1262 1833.7L1261.7 1842.2Z" fill="#111"/><path d="M1332.8 1838.5L1320.2 1838.5" stroke="#111" stroke-width="1.8"/><path d="M1309.2 1838.5L1321.2 1834.2L1321.2 1842.8Z" fill="#111"/><path d="M1387.9 1838.5L1387.2 1839.9" stroke="#111" stroke-width="1.8"/><path d="M1383.2 1848L1384 1837.1L1391.3 1840.8Z" fill="#111"/><path d="M1443 1838.5L1443.3 1840.8" stroke="#111" stroke-width="1.8"/><path d="M1444.9 1851.7L1438.9 1840.5L1447.4 1839.3Z" fill="#111"/><path d="M1498 1838.5L1495.2 1845.6" stroke="#111" stroke-width="1.8"/><path d="M1553.1 1838.5L1548.4 1842.3" stroke="#111" stroke-width="1.8"/><path d="M1608.2 1838.5L1602.5 1840.9" stroke="#111" stroke-width="1.8"/><path d="M1663.3 1838.5L1662.3 1845.6" stroke="#111" stroke-width="1.8"/><path d="M1718.4 1838.5L1716.9 1838.4" stroke="#111" stroke-width="1.8"/><path d="M1708.9 1837.6L1718.3 1834.8L1717.5 1842.1Z" fill="#111"/><path d="M1773.4 1838.5L1773.4 1833.9" stroke="#111" stroke-width="1.8"/><path d="M1773.4 1822.9L1777.7 1834.9L1769.2 1834.9Z" fill="#111"/><path d="M1828.5 1838.5L1815.4 1828.3" stroke="#111" stroke-width="1.8"/><path d="M1806.8 1821.5L1818.9 1825.5L1813.6 1832.2Z" fill="#111"/><path d="M1883.6 1838.5L1848.2 1833.1" stroke="#111" stroke-width="1.8"/><path d="M1837.3 1831.4L1849.8 1829L1848.5 1837.4Z" fill="#111"/><path d="M1938.7 1838.5L1876.9 1842.5" stroke="#111" stroke-width="1.8"/><path d="M1865.9 1843.2L1877.6 1838.2L1878.2 1846.7Z" fill="#111"/><path d="M1993.8 1838.5L1890.8 1846.2" stroke="#111" stroke-width="1.8"/><path d="M1879.9 1847L1891.5 1841.9L1892.1 1850.4Z" fill="#111"/><path d="M2048.8 1838.5L1924.2 1847.6" stroke="#111" stroke-width="1.8"/><path d="M1913.2 1848.4L1924.9 1843.3L1925.5 1851.8Z" fill="#111"/><path d="M2103.9 1838.5L1978.6 1865.9" stroke="#111" stroke-width="1.8"/><path d="M1967.8 1868.3L1978.6 1861.6L1980.4 1869.9Z" fill="#111"/><path d="M2159 1838.5L2044.2 1876.2" stroke="#111" stroke-width="1.8"/><path d="M2033.8 1879.6L2043.8 1871.8L2046.5 1879.9Z" fill="#111"/><path d="M231.2 1895.7L255.7 1892.4" stroke="#111" stroke-width="1.8"/><path d="M266.6 1890.9L255.3 1896.7L254.2 1888.3Z" fill="#111"/><path d="M286.3 1895.7L321.7 1891.3" stroke="#111" stroke-width="1.8"/><path d="M332.6 1890L321.2 1895.7L320.2 1887.2Z" fill="#111"/><path d="M341.4 1895.7L377.6 1895.7" stroke="#111" stroke-width="1.8"/><path d="M388.6 1895.7L376.6 1899.9L376.6 1891.4Z" fill="#111"/><path d="M396.4 1895.7L430.8 1893.9" stroke="#111" stroke-width="1.8"/><path d="M441.8 1893.3L430 1898.2L429.6 1889.7Z" fill="#111"/><path d="M451.5 1895.7L477.9 1892.3" stroke="#111" stroke-width="1.8"/><path d="M488.9 1890.9L477.5 1896.6L476.4 1888.2Z" fill="#111"/><path d="M506.6 1895.7L530.2 1892.4" stroke="#111" stroke-width="1.8"/><path d="M541.1 1890.9L529.8 1896.8L528.6 1888.3Z" fill="#111"/><path d="M561.7 1895.7L579.7 1891.8" stroke="#111" stroke-width="1.8"/><path d="M590.5 1889.5L579.7 1896.2L577.9 1887.9Z" fill="#111"/><path d="M616.8 1895.7L619 1893.9" stroke="#111" stroke-width="1.8"/><path d="M627.6 1887.1L620.8 1897.9L615.6 1891.2Z" fill="#111"/><path d="M671.8 1895.7L671.7 1894.1" stroke="#111" stroke-width="1.8"/><path d="M670.9 1884.8L676 1894.7L667.6 1895.5Z" fill="#111"/><path d="M726.9 1895.7L726.9 1892.5" stroke="#111" stroke-width="1.8"/><path d="M726.9 1881.5L731.2 1893.5L722.7 1893.5Z" fill="#111"/><path d="M782 1895.7L784.3 1888.6" stroke="#111" stroke-width="1.8"/><path d="M787.7 1878.2L788 1890.9L779.9 1888.3Z" fill="#111"/><path d="M837.1 1895.7L838.7 1891.7" stroke="#111" stroke-width="1.8"/><path d="M842.8 1881.5L842.2 1894.2L834.3 1891Z" fill="#111"/><path d="M892.2 1895.7L893.2 1890.8" stroke="#111" stroke-width="1.8"/><path d="M895.5 1880.1L897.1 1892.7L888.8 1890.9Z" fill="#111"/><path d="M947.2 1895.7L949.4 1890.3" stroke="#111" stroke-width="1.8"/><path d="M953.4 1880.1L952.9 1892.8L945 1889.7Z" fill="#111"/><path d="M1002.3 1895.7L1005.5 1892.1" stroke="#111" stroke-width="1.8"/><path d="M1012.7 1883.8L1008 1895.7L1001.6 1890Z" fill="#111"/><path d="M1057.4 1895.7L1058.9 1894.2" stroke="#111" stroke-width="1.8"/><path d="M1066.9 1886.7L1061.1 1898L1055.2 1891.9Z" fill="#111"/><path d="M1112.5 1895.7L1111.2 1894.6" stroke="#111" stroke-width="1.8"/><path d="M1103 1887.6L1114.8 1892L1109.3 1898.5Z" fill="#111"/><path d="M1167.6 1895.7L1163.2 1893.5" stroke="#111" stroke-width="1.8"/><path d="M1153.4 1888.6L1166 1890.1L1162.2 1897.7Z" fill="#111"/><path d="M1222.6 1895.7L1201.5 1897.2" stroke="#111" stroke-width="1.8"/><path d="M1190.5 1898L1202.2 1892.9L1202.8 1901.4Z" fill="#111"/><path d="M1277.7 1895.7L1259.3 1897.7" stroke="#111" stroke-width="1.8"/><path d="M1248.4 1899L1259.9 1893.4L1260.8 1901.8Z" fill="#111"/><path d="M1332.8 1895.7L1331.3 1895.9" stroke="#111" stroke-width="1.8"/><path d="M1323.3 1897.1L1331.8 1892.1L1332.9 1899.4Z" fill="#111"/><path d="M1387.9 1895.7L1383.6 1902.7" stroke="#111" stroke-width="1.8"/><path d="M1443 1895.7L1441.8 1894.7" stroke="#111" stroke-width="1.8"/><path d="M1434.5 1888.6L1445.3 1892L1439.8 1898.6Z" fill="#111"/><path d="M1498 1895.7L1494.3 1902.7" stroke="#111" stroke-width="1.8"/><path d="M1553.1 1895.7L1549.3 1900.4" stroke="#111" stroke-width="1.8"/><path d="M1608.2 1895.7L1608.2 1897.1" stroke="#111" stroke-width="1.8"/><path d="M1663.3 1895.7L1663.8 1897.1" stroke="#111" stroke-width="1.8"/><path d="M1666.6 1905.1L1659.8 1897.4L1667.1 1894.8Z" fill="#111"/><path d="M1718.4 1895.7L1723.2 1896.7" stroke="#111" stroke-width="1.8"/><path d="M1734 1899L1721.3 1900.6L1723.1 1892.3Z" fill="#111"/><path d="M1773.4 1895.7L1778.9 1890.2" stroke="#111" stroke-width="1.8"/><path d="M1786.7 1882.4L1781.2 1893.9L1775.2 1887.9Z" fill="#111"/><path d="M1828.5 1895.7L1823.4 1889.8" stroke="#111" stroke-width="1.8"/><path d="M1816.2 1881.5L1827.3 1887.8L1820.9 1893.3Z" fill="#111"/><path d="M1883.6 1895.7L1855.1 1888.8" stroke="#111" stroke-width="1.8"/><path d="M1844.4 1886.2L1857 1884.9L1855 1893.1Z" fill="#111"/><path d="M1938.7 1895.7L1876.9 1897.3" stroke="#111" stroke-width="1.8"/><path d="M1865.9 1897.5L1877.8 1893L1878 1901.5Z" fill="#111"/><path d="M1993.8 1895.7L1890.8 1902.5" stroke="#111" stroke-width="1.8"/><path d="M1879.9 1903.2L1891.6 1898.2L1892.1 1906.7Z" fill="#111"/><path d="M2048.8 1895.7L1914.7 1904.4" stroke="#111" stroke-width="1.8"/><path d="M1903.8 1905.1L1915.5 1900.1L1916 1908.6Z" fill="#111"/><path d="M2103.9 1895.7L1965.9 1921.1" stroke="#111" stroke-width="1.8"/><path d="M1955.1 1923.1L1966.1 1916.7L1967.6 1925.1Z" fill="#111"/><path d="M2159 1895.7L2044.4 1924.6" stroke="#111" stroke-width="1.8"/><path d="M2033.8 1927.3L2044.4 1920.3L2046.4 1928.5Z" fill="#111"/><path d="M231.2 1952.8L265.3 1945.6" stroke="#111" stroke-width="1.8"/><path d="M276.1 1943.3L265.2 1950L263.5 1941.7Z" fill="#111"/><path d="M286.3 1952.8L331.2 1944.8" stroke="#111" stroke-width="1.8"/><path d="M342 1942.9L331 1949.2L329.5 1940.8Z" fill="#111"/><path d="M341.4 1952.8L388.1 1948.6" stroke="#111" stroke-width="1.8"/><path d="M399 1947.6L387.4 1952.9L386.7 1944.4Z" fill="#111"/><path d="M396.4 1952.8L438 1948.7" stroke="#111" stroke-width="1.8"/><path d="M448.9 1947.6L437.4 1953L436.5 1944.6Z" fill="#111"/><path d="M451.5 1952.8L475.8 1946.9" stroke="#111" stroke-width="1.8"/><path d="M486.5 1944.3L475.8 1951.3L473.8 1943Z" fill="#111"/><path d="M506.6 1952.8L516.4 1949.8" stroke="#111" stroke-width="1.8"/><path d="M526.9 1946.7L516.7 1954.2L514.2 1946.1Z" fill="#111"/><path d="M561.7 1952.8L562.9 1951.8" stroke="#111" stroke-width="1.8"/><path d="M570.7 1945.7L564.8 1955.8L559.5 1949.1Z" fill="#111"/><path d="M616.8 1952.8L616.8 1944.3" stroke="#111" stroke-width="1.8"/><path d="M671.8 1952.8L670.4 1950.4" stroke="#111" stroke-width="1.8"/><path d="M664.8 1941L674.6 1949.1L667.3 1953.5Z" fill="#111"/><path d="M726.9 1952.8L721.2 1946.7" stroke="#111" stroke-width="1.8"/><path d="M713.7 1938.6L725 1944.5L718.8 1950.3Z" fill="#111"/><path d="M782 1952.8L776.3 1946.7" stroke="#111" stroke-width="1.8"/><path d="M768.8 1938.6L780.1 1944.5L773.8 1950.3Z" fill="#111"/><path d="M837.1 1952.8L834 1949.7" stroke="#111" stroke-width="1.8"/><path d="M826.2 1941.9L837.7 1947.4L831.7 1953.4Z" fill="#111"/><path d="M892.2 1952.8L890.5 1950.3" stroke="#111" stroke-width="1.8"/><path d="M884.6 1941L894.6 1948.8L887.5 1953.4Z" fill="#111"/><path d="M947.2 1952.8L947 1949.6" stroke="#111" stroke-width="1.8"/><path d="M946.3 1938.6L951.3 1950.3L942.9 1950.9Z" fill="#111"/><path d="M1002.3 1952.8L1003 1951.4" stroke="#111" stroke-width="1.8"/><path d="M1007 1943.3L1006.2 1954.2L998.9 1950.5Z" fill="#111"/><path d="M1057.4 1952.8L1058.2 1951.5" stroke="#111" stroke-width="1.8"/><path d="M1063.1 1944.3L1061 1954.6L1054.4 1950.2Z" fill="#111"/><path d="M1112.5 1952.8L1112.5 1937.8" stroke="#111" stroke-width="1.8"/><path d="M1112.5 1926.8L1116.7 1938.8L1108.2 1938.8Z" fill="#111"/><path d="M1167.6 1952.8L1161.8 1949.2" stroke="#111" stroke-width="1.8"/><path d="M1152.4 1943.3L1164.9 1946.1L1160.4 1953.3Z" fill="#111"/><path d="M1222.6 1952.8L1213 1950.6" stroke="#111" stroke-width="1.8"/><path d="M1202.3 1948.1L1215 1946.7L1213 1954.9Z" fill="#111"/><path d="M1277.7 1952.8L1273 1955.2" stroke="#111" stroke-width="1.8"/><path d="M1332.8 1952.8L1328.1 1955.2" stroke="#111" stroke-width="1.8"/><path d="M1387.9 1952.8L1383.2 1955.2" stroke="#111" stroke-width="1.8"/><path d="M1443 1952.8L1438.2 1955.2" stroke="#111" stroke-width="1.8"/><path d="M1498 1952.8L1493.3 1955.2" stroke="#111" stroke-width="1.8"/><path d="M1553.1 1952.8L1561.6 1954.2" stroke="#111" stroke-width="1.8"/><path d="M1608.2 1952.8L1612.1 1953.7" stroke="#111" stroke-width="1.8"/><path d="M1622.9 1956.1L1610.2 1957.6L1612.1 1949.3Z" fill="#111"/><path d="M1663.3 1952.8L1668.9 1953.6" stroke="#111" stroke-width="1.8"/><path d="M1679.8 1955.2L1667.3 1957.7L1668.5 1949.3Z" fill="#111"/><path d="M1718.4 1952.8L1741.9 1952.2" stroke="#111" stroke-width="1.8"/><path d="M1752.9 1951.9L1741 1956.4L1740.7 1947.9Z" fill="#111"/><path d="M1773.4 1952.8L1791.4 1946.8" stroke="#111" stroke-width="1.8"/><path d="M1801.8 1943.3L1791.8 1951.2L1789.1 1943.1Z" fill="#111"/><path d="M1828.5 1952.8L1829 1954.3" stroke="#111" stroke-width="1.8"/><path d="M1832.3 1964.6L1824.7 1954.7L1832.8 1952.1Z" fill="#111"/><path d="M1883.6 1952.8L1866.1 1955.7" stroke="#111" stroke-width="1.8"/><path d="M1855.2 1957.5L1866.4 1951.4L1867.8 1959.7Z" fill="#111"/><path d="M1938.7 1952.8L1865.1 1949.5" stroke="#111" stroke-width="1.8"/><path d="M1854.1 1949L1866.3 1945.3L1865.9 1953.8Z" fill="#111"/><path d="M1993.8 1952.8L1900.3 1956.2" stroke="#111" stroke-width="1.8"/><path d="M1889.3 1956.6L1901.2 1951.9L1901.5 1960.4Z" fill="#111"/><path d="M2048.8 1952.8L1924.2 1965.4" stroke="#111" stroke-width="1.8"/><path d="M1913.2 1966.5L1924.7 1961.1L1925.6 1969.5Z" fill="#111"/><path d="M2103.9 1952.8L1990.5 1970.9" stroke="#111" stroke-width="1.8"/><path d="M1979.6 1972.6L1990.8 1966.6L1992.1 1975Z" fill="#111"/><path d="M2159 1952.8L2075.3 1969.1" stroke="#111" stroke-width="1.8"/><path d="M2064.5 1971.2L2075.4 1964.8L2077.1 1973.1Z" fill="#111"/><path d="M231.2 2009.9L263.1 2001.1" stroke="#111" stroke-width="1.8"/><path d="M273.7 1998.1L263.3 2005.4L261 1997.3Z" fill="#111"/><path d="M286.3 2009.9L320.5 2000.9" stroke="#111" stroke-width="1.8"/><path d="M331.2 1998.1L320.7 2005.3L318.5 1997.1Z" fill="#111"/><path d="M341.4 2009.9L371.7 2004" stroke="#111" stroke-width="1.8"/><path d="M382.5 2001.9L371.5 2008.4L369.9 2000Z" fill="#111"/><path d="M396.4 2009.9L426.3 2003.3" stroke="#111" stroke-width="1.8"/><path d="M437.1 2001L426.3 2007.7L424.4 1999.4Z" fill="#111"/><path d="M451.5 2009.9L466.7 2004.6" stroke="#111" stroke-width="1.8"/><path d="M477 2001L467.1 2009L464.3 2000.9Z" fill="#111"/><path d="M506.6 2009.9L508 2010.6" stroke="#111" stroke-width="1.8"/><path d="M516.1 2014.7L505.2 2013.8L508.9 2006.5Z" fill="#111"/><path d="M726.9 2009.9L721.9 2005.5" stroke="#111" stroke-width="1.8"/><path d="M713.7 1998.1L725.5 2003L719.8 2009.3Z" fill="#111"/><path d="M782 2009.9L775.5 2004.1" stroke="#111" stroke-width="1.8"/><path d="M767.3 1996.7L779.1 2001.6L773.4 2007.9Z" fill="#111"/><path d="M837.1 2009.9L833 2005.9" stroke="#111" stroke-width="1.8"/><path d="M825.3 1998.1L836.8 2003.6L830.7 2009.6Z" fill="#111"/><path d="M892.2 2009.9L890.5 2008.3" stroke="#111" stroke-width="1.8"/><path d="M882.7 2000.5L894.2 2006L888.2 2012Z" fill="#111"/><path d="M947.2 2009.9L947.2 2008.4" stroke="#111" stroke-width="1.8"/><path d="M947.2 1998.1L951.5 2009.4L943 2009.4Z" fill="#111"/><path d="M1002.3 2009.9L1002.9 2008.5" stroke="#111" stroke-width="1.8"/><path d="M1006.1 2000.5L1006.2 2010.9L998.9 2008Z" fill="#111"/><path d="M1057.4 2009.9L1058 2008.6" stroke="#111" stroke-width="1.8"/><path d="M1061.2 2001.4L1060.9 2011L1054.3 2008.1Z" fill="#111"/><path d="M1112.5 2009.9L1112.5 2008.5" stroke="#111" stroke-width="1.8"/><path d="M1112.5 2000.5L1116.1 2009.5L1108.8 2009.5Z" fill="#111"/><path d="M1167.6 2009.9L1166.5 2008.9" stroke="#111" stroke-width="1.8"/><path d="M1160.5 2002.9L1169.9 2006.9L1164.5 2012.3Z" fill="#111"/><path d="M1222.6 2009.9L1221.2 2009.4" stroke="#111" stroke-width="1.8"/><path d="M1213.2 2006.2L1223.6 2006.1L1220.7 2013.4Z" fill="#111"/><path d="M1608.2 2009.9L1611.4 2009.9" stroke="#111" stroke-width="1.8"/><path d="M1622.4 2009.9L1610.4 2014.2L1610.4 2005.7Z" fill="#111"/><path d="M1663.3 2009.9L1680.6 2009.9" stroke="#111" stroke-width="1.8"/><path d="M1691.6 2009.9L1679.6 2014.2L1679.6 2005.7Z" fill="#111"/><path d="M1718.4 2009.9L1746.6 2009.3" stroke="#111" stroke-width="1.8"/><path d="M1757.6 2009L1745.7 2013.5L1745.5 2005Z" fill="#111"/><path d="M1773.4 2009.9L1787.5 2009.9" stroke="#111" stroke-width="1.8"/><path d="M1798.5 2009.9L1786.5 2014.2L1786.5 2005.7Z" fill="#111"/><path d="M1828.5 2009.9L1835.6 2009.9" stroke="#111" stroke-width="1.8"/><path d="M1883.6 2009.9L1880.3 2010.5" stroke="#111" stroke-width="1.8"/><path d="M1869.4 2012.3L1880.6 2006.1L1882 2014.5Z" fill="#111"/><path d="M1938.7 2009.9L1907.1 2013.5" stroke="#111" stroke-width="1.8"/><path d="M1896.1 2014.7L1907.6 2009.1L1908.5 2017.6Z" fill="#111"/><path d="M1993.8 2009.9L1938.5 2017.8" stroke="#111" stroke-width="1.8"/><path d="M1927.6 2019.4L1938.9 2013.5L1940.1 2021.9Z" fill="#111"/><path d="M2048.8 2009.9L1976.1 2020.2" stroke="#111" stroke-width="1.8"/><path d="M1965.2 2021.8L1976.5 2015.9L1977.7 2024.3Z" fill="#111"/><path d="M2103.9 2009.9L2030.7 2020.2" stroke="#111" stroke-width="1.8"/><path d="M2019.8 2021.8L2031.1 2015.9L2032.3 2024.3Z" fill="#111"/><path d="M2159 2009.9L2110.7 2019.6" stroke="#111" stroke-width="1.8"/><path d="M2099.9 2021.8L2110.9 2015.2L2112.5 2023.6Z" fill="#111"/></g>
<polygon points="367.9,2038.4 379.8,2026.1 382.1,1988.3 385.4,1971.7 389.2,2007.2 393.9,2011.9 396.3,1969.4 398.7,2007.2 403.4,2026.1 408.1,2007.2 412.8,2026.1 419.9,2030.8 424.7,2038.4" fill="#a6a6a6" fill-opacity="0.92"/>
<polygon points="538.1,2038.4 552.2,2021.4 561.7,2002.5 571.2,1995.4 575.9,2002.5 587.7,1997.7 599.5,2002.5 613.7,1997.7 630.2,1993 642,2000.1 656.2,2011.9 668,2002.5 675.1,2014.3 694,2011.9 712.9,2002.5 727.1,2009.5 750.7,2014.3 764.9,1997.7 779.1,2014.3 802.7,2016.6 831.1,2011.9 854.7,2006.2 860,2002.5 874.2,1983.6 883.6,1976.5 893.1,1983.6 900.2,2002.5 912,1997.7 921.4,1974.1 930.9,1959.9 938,1978.8 949.8,1983.6 961.6,1978.8 973.4,1988.3 987.6,1997.7 1001.8,2011.9 1016,2007.2 1027.8,2002.5 1041.9,2009.5 1058.5,1997.7 1072.7,1983.6 1086.8,1976.5 1105.7,1971.7 1111.9,1929.2 1117.6,1971.7 1134.1,1978.8 1143.6,1967 1150.6,1988.3 1167.2,2000.1 1190.8,1997.7 1209.7,1993 1223.9,2009.5 1238.1,2009.5 1249.9,2004.8 1254.6,1974.1 1264.1,1941 1275.9,1931.6 1290.1,1917.4 1301.9,1898.5 1309,1881.9 1316,1848.9 1322.2,1879.6 1327.9,1851.2 1335,1848.9 1342,1879.6 1346.8,1926.8 1356.2,1933.9 1368,1929.2 1375.1,1941 1384.6,1936.3 1394,1907.9 1403.5,1900.9 1410.6,1907.9 1417.7,1931.6 1431.8,1941 1446,1950.5 1460.2,1955.2 1474.4,1969.4 1483.8,1959.9 1493.3,1978.8 1507.4,1983.6 1521.6,1993 1531.1,1978.8 1540.5,1993 1540,1988.3 1549.5,1993 1558.9,1971.7 1566,2002.5 1573.1,2026.1 1582.5,2038.4" fill="#a6a6a6" fill-opacity="0.92"/>
<polygon points="1823.6,2038.4 1830.6,2021.4 1835.4,1988.3 1847.2,1993 1859,1981.2 1866.1,1974.1 1875.5,1964.7 1880.3,1950.5 1887.4,1948.1 1892.1,1964.7 1899.2,1983.6 1906.3,1995.4 1918.1,2007.2 1932.2,2016.6 1939.3,2002.5 1941.7,1974.1 1945.5,2002.5 1953.5,2011.9 1960.6,1997.7 1967.7,1990.6 1972.4,2021.4 1979.5,2038.4" fill="#a6a6a6" fill-opacity="0.92"/>
<polygon points="2107.1,2038.4 2118.9,2030.8 2130.7,2026.1 2144.9,2014.3 2149.6,2028.4 2163.8,2030.8 2175.6,2026.1 2180.4,2002.5 2189.8,1988.3 2201.6,1978.8 2211.1,1983.6 2218.6,2002.5 2218.6,2038.4" fill="#a6a6a6" fill-opacity="0.92"/>
<path d="M180.8 1273.3 C191.4 1273.6 220.1 1274.2 244.3 1274.9 C268.5 1275.6 298.6 1277 325.7 1277.4 C352.9 1277.8 380 1277.1 407.2 1277.4 C434.3 1277.6 461.5 1278.7 488.6 1279 C515.7 1279.3 542.9 1279.5 570 1279 C597.2 1278.4 624.3 1277 651.5 1275.7 C678.6 1274.5 705.8 1273.2 732.9 1271.7 C760 1270.2 800.8 1267.6 814.3 1266.8" fill="none" stroke="#1414ee" stroke-width="6.5" stroke-dasharray="19 11"/>
<path d="M887.6 1261.9 L910.4 1258.6" fill="none" stroke="#1414ee" stroke-width="6.5" stroke-dasharray="19 11"/>
<path d="M407.2 1332.7 C420.7 1332.1 461.5 1329.8 488.6 1328.7 C515.7 1327.6 545.6 1326.6 570 1326.2 C594.5 1325.8 617.5 1325.5 635.2 1326.2 C652.8 1326.9 662.3 1327.6 675.9 1330.3 C689.5 1333 701.7 1337.8 716.6 1342.5 C731.5 1347.3 749.2 1354.3 765.5 1358.8 C781.8 1363.3 798 1367.1 814.3 1369.4 C830.6 1371.7 845.5 1372.8 863.2 1372.6 C880.8 1372.5 901.2 1370.6 920.2 1368.6 C939.2 1366.5 959.6 1363.4 977.2 1360.4 C994.8 1357.4 1011.1 1355 1026.1 1350.7 C1041 1346.3 1054.6 1340.5 1066.8 1334.4 C1079 1328.3 1088.5 1320.4 1099.3 1314 C1110.2 1307.6 1121.1 1300.2 1131.9 1296.1 C1142.8 1292 1152.1 1291.1 1164.5 1289.6 C1176.8 1288.1 1192.3 1286.1 1206 1287.1 C1219.7 1288.2 1234.5 1293.3 1246.7 1296 C1258.9 1298.7 1269.7 1302 1279.2 1303.3 C1288.7 1304.7 1295.5 1305.1 1303.6 1304.1 C1311.8 1303.2 1317.2 1300.4 1328.1 1297.6 C1338.9 1294.9 1351.1 1290.2 1368.7 1287.9 C1386.4 1285.6 1406.7 1284.2 1433.8 1283.8 C1460.9 1283.4 1501.6 1284.8 1531.5 1285.4 C1561.3 1286.1 1591.1 1286.9 1612.8 1287.9 C1634.5 1288.8 1646.7 1289.2 1661.7 1291.1 C1676.6 1293 1688.8 1296.1 1702.3 1299.3 C1715.9 1302.4 1729.5 1307.7 1743 1309.8 C1756.6 1312 1770.1 1313 1783.7 1312.3 C1797.3 1311.6 1809.5 1308.5 1824.4 1305.8 C1839.3 1303.1 1854.2 1298.5 1873.2 1296 C1892.2 1293.6 1913.9 1292.2 1938.3 1291.1 C1962.7 1290 1992.5 1289.5 2019.7 1289.5 C2046.8 1289.5 2080.7 1291.1 2101 1291.1 C2121.4 1291.1 2129.5 1290.5 2141.7 1289.5 C2153.9 1288.6 2168.8 1286.1 2174.3 1285.4" fill="none" stroke="#1414ee" stroke-width="6.5" stroke-dasharray="19 11"/>
<path d="M180.8 1297.7 C188.7 1298 213.4 1298.3 228 1299.3 C242.7 1300.4 256.5 1301.1 268.7 1304.2 C280.9 1307.4 291.8 1314.4 301.3 1318.1 C310.8 1321.7 318.3 1324.2 325.7 1326.2 C333.2 1328.3 342.7 1329.6 346.1 1330.3" fill="none" stroke="#1414ee" stroke-width="6.5" stroke-dasharray="19 11"/>
<path d="M1197.9 1260.7 C1204.6 1261.3 1223.5 1263.2 1238.1 1264 C1252.6 1264.8 1269.6 1265.4 1285.3 1265.4 C1301.1 1265.5 1316.8 1264.9 1332.6 1264.5 C1348.3 1264.1 1356.2 1263.2 1379.8 1263.1 C1403.5 1263 1444.4 1263.6 1474.4 1264 C1504.4 1264.4 1536.8 1264.9 1559.9 1265.4 C1583 1266 1587.7 1266.9 1612.8 1267.5 C1637.9 1268.2 1686.7 1268.2 1710.5 1269.2 C1734.2 1270.1 1747.8 1272.6 1755.2 1273.2" fill="none" stroke="#1414ee" stroke-width="6.5" stroke-dasharray="19 11"/>
<path d="M1840.7 1265.1 C1847.4 1264.1 1865.1 1260.5 1881.3 1259.4 C1897.6 1258.3 1915.2 1258.3 1938.3 1258.6 C1961.4 1258.9 1992.5 1260.2 2019.7 1261 C2046.8 1261.8 2075.9 1262.8 2101 1263.5 C2126.1 1264.1 2158.7 1264.8 2170.2 1265.1" fill="none" stroke="#1414ee" stroke-width="6.5" stroke-dasharray="19 11"/>
<path d="M180.8 1411.7 C191.4 1412 222.9 1413.1 244.3 1413.4 C265.7 1413.6 289.1 1413.9 309.4 1413.4 C329.8 1412.8 347.4 1412 366.4 1410.1 C385.5 1408.2 405.8 1405.1 423.5 1402 C441.1 1398.8 457.4 1394.5 472.3 1391.4 C487.2 1388.2 500.8 1385 513 1383.2 C525.2 1381.5 536.1 1380.4 545.6 1380.8 C555.1 1381.2 560.5 1381.9 570 1385.7 C579.5 1389.5 591.7 1397.2 602.6 1403.6 C613.5 1410 624.3 1416.5 635.2 1423.9 C646 1431.4 656.9 1441.2 667.8 1448.4 C678.6 1455.6 689.5 1462.4 700.3 1467.1 C711.2 1471.9 720.7 1475.2 732.9 1476.9 C745.1 1478.5 760 1478.2 773.6 1476.9 C787.2 1475.5 802.1 1472.1 814.3 1468.7 C826.5 1465.3 837.4 1459 846.9 1456.5 C856.4 1454.1 863.2 1453.4 871.3 1454.1 C879.5 1454.8 886.3 1456.8 895.8 1460.6 C905.3 1464.4 917.5 1472.5 928.3 1476.9 C939.2 1481.2 950.7 1484.2 960.9 1486.6 C971.1 1489.1 984.7 1490.7 989.4 1491.5" fill="none" stroke="#1414ee" stroke-width="6.5" stroke-dasharray="19 11"/>
<path d="M1066.8 1498 C1070.8 1499.3 1083.7 1504.8 1091.2 1505.4 C1098.7 1505.9 1105.5 1506.1 1111.6 1501.3 C1117.7 1496.6 1121.7 1486.4 1127.9 1476.9 C1134 1467.4 1140.7 1453.8 1148.2 1444.3 C1155.7 1434.8 1163 1428 1172.6 1419.9 C1182.3 1411.7 1199.1 1400.9 1206 1395.4 C1212.9 1390 1207.4 1390.8 1214.1 1387.1 C1220.9 1383.5 1234.5 1375.8 1246.7 1373.3 C1258.9 1370.9 1275.2 1370.9 1287.4 1372.5 C1299.6 1374.1 1309.1 1377.9 1319.9 1383.1 C1330.8 1388.2 1338.9 1393.2 1352.5 1403.4 C1366 1413.6 1386.4 1430.5 1401.3 1444.1 C1416.2 1457.7 1429.8 1472.6 1442 1484.8 C1454.2 1497 1463.7 1507.2 1474.5 1517.3 C1485.4 1527.5 1496.2 1538.4 1507.1 1545.8 C1517.9 1553.3 1528.8 1558.4 1539.6 1562.1 C1550.5 1565.7 1559.9 1567.8 1572.2 1567.8 C1584.4 1567.8 1597.9 1565.1 1612.8 1562.1 C1627.8 1559.1 1644.7 1554.4 1661.7 1549.9 C1678.6 1545.4 1702.3 1539.3 1714.5 1535.2 C1726.7 1531.2 1727.4 1532.5 1734.9 1525.5 C1742.3 1518.4 1752.5 1502.4 1759.3 1492.9 C1766.1 1483.4 1768.1 1474.2 1775.6 1468.5 C1783 1462.8 1799.3 1460.4 1804 1458.7" fill="none" stroke="#1414ee" stroke-width="6.5" stroke-dasharray="19 11"/>
<path d="M1804 1458.7 C1802 1457.7 1799.3 1456 1791.8 1452.2 C1784.4 1448.4 1770.1 1442.1 1759.3 1436 C1748.4 1429.9 1734.9 1422.4 1726.7 1415.6 C1718.6 1408.8 1714.3 1402.5 1710.5 1395.3 C1706.7 1388.1 1699.9 1377.2 1704 1372.5 C1708 1367.8 1723 1369.8 1734.9 1366.8 C1746.8 1363.8 1763.4 1358.7 1775.6 1354.6 C1787.8 1350.5 1795.9 1346.1 1808.1 1342.4 C1820.3 1338.7 1833.9 1335.3 1848.8 1332.6 C1863.7 1329.9 1875.9 1327.9 1897.6 1326.1 C1919.3 1324.4 1951.9 1322.7 1979 1322.1 C2006.1 1321.4 2033.2 1322.7 2060.4 1322.1 C2087.5 1321.4 2123.4 1319.6 2141.7 1318 C2160 1316.4 2165.5 1313.2 2170.2 1312.3" fill="none" stroke="#1414ee" stroke-width="6.5" stroke-dasharray="19 11"/>
<path d="M1952.9 1527.1 C1951.2 1528.2 1946.2 1529.8 1942.4 1533.6 C1938.6 1537.4 1933.6 1540.4 1930.2 1549.9 C1926.8 1559.4 1922.7 1575.6 1922 1590.6 C1921.4 1605.5 1923.4 1623.1 1926.1 1639.4 C1928.8 1655.7 1934.2 1671.9 1938.3 1688.2 C1942.4 1704.5 1946.7 1720.7 1950.5 1737 C1954.3 1753.3 1958.4 1768.2 1961.1 1785.8 C1963.8 1803.5 1965.4 1825.2 1966.8 1842.8 C1968.1 1860.4 1967.2 1874 1969.2 1891.6 C1971.3 1909.2 1974 1933 1979 1948.6 C1984 1964.2 1991.2 1974.6 1999.3 1985.2 C2007.5 1995.8 2023.1 2007.6 2027.8 2012" fill="none" stroke="#1414ee" stroke-width="6.5" stroke-dasharray="19 11"/>
<path d="M2011.5 1541.7 C2015.6 1545.8 2027.8 1558 2035.9 1566.2 C2044.1 1574.3 2050.9 1583.1 2060.4 1590.6 C2069.8 1598 2082.1 1605.5 2092.9 1610.9 C2103.7 1616.3 2111.9 1621.8 2125.4 1623.1 C2139 1624.5 2166.1 1619.7 2174.3 1619" fill="none" stroke="#1414ee" stroke-width="6.5" stroke-dasharray="19 11"/>
<path d="M2097 2013.7 C2101.7 2011.6 2116 2006.9 2125.4 2001.5 C2134.9 1996 2145.8 1987.2 2153.9 1981.1 C2162.1 1975 2170.9 1967.6 2174.3 1964.8" fill="none" stroke="#1414ee" stroke-width="6.5" stroke-dasharray="19 11"/>
<text x="855" y="1281" font-size="38" fill="#2a2af0" text-anchor="middle">-6</text>
<text x="354" y="1347" font-size="38" fill="#2a2af0" text-anchor="middle">-4</text>
<text x="1010" y="1505" font-size="38" fill="#2a2af0" text-anchor="middle">-2</text>
<text x="1775" y="1286" font-size="38" fill="#2a2af0" text-anchor="middle">-6</text>
<text x="1963" y="1538" font-size="38" fill="#2a2af0" text-anchor="middle">-2</text>
<path d="M231.3 1241v12M231.3 2037.5v-12" stroke="#aaa" stroke-width="2"/>
<path d="M506.7 1241v12M506.7 2037.5v-12" stroke="#aaa" stroke-width="2"/>
<path d="M644.4 1241v12M644.4 2037.5v-12" stroke="#aaa" stroke-width="2"/>
<path d="M919.8 1241v12M919.8 2037.5v-12" stroke="#aaa" stroke-width="2"/>
<path d="M1057.5 1241v12M1057.5 2037.5v-12" stroke="#aaa" stroke-width="2"/>
<path d="M1332.9 1241v12M1332.9 2037.5v-12" stroke="#aaa" stroke-width="2"/>
<path d="M1470.6 1241v12M1470.6 2037.5v-12" stroke="#aaa" stroke-width="2"/>
<path d="M1746 1241v12M1746 2037.5v-12" stroke="#aaa" stroke-width="2"/>
<path d="M1883.7 1241v12M1883.7 2037.5v-12" stroke="#aaa" stroke-width="2"/>
<path d="M2159.1 1241v12M2159.1 2037.5v-12" stroke="#aaa" stroke-width="2"/>
<path d="M369 1241v26M369 2037.5v-26" stroke="#4a4a4a" stroke-width="2.5"/>
<path d="M782 1241v26M782 2037.5v-26" stroke="#4a4a4a" stroke-width="2.5"/>
<path d="M1195 1241v26M1195 2037.5v-26" stroke="#4a4a4a" stroke-width="2.5"/>
<path d="M1609 1241v26M1609 2037.5v-26" stroke="#4a4a4a" stroke-width="2.5"/>
<path d="M2022 1241v26M2022 2037.5v-26" stroke="#4a4a4a" stroke-width="2.5"/>
<path d="M169 1302h26M2219.5 1302h-26" stroke="#aaa" stroke-width="2"/>
<path d="M169 1460h26M2219.5 1460h-26" stroke="#aaa" stroke-width="2"/>
<path d="M169 1617.9h26M2219.5 1617.9h-26" stroke="#aaa" stroke-width="2"/>
<path d="M169 1775.9h26M2219.5 1775.9h-26" stroke="#aaa" stroke-width="2"/>
<path d="M169 1933.8h26M2219.5 1933.8h-26" stroke="#aaa" stroke-width="2"/>
<path d="M169 1381h36M2219.5 1381h-36" stroke="#4a4a4a" stroke-width="2.5"/>
<path d="M169 1539h36M2219.5 1539h-36" stroke="#4a4a4a" stroke-width="2.5"/>
<path d="M169 1696.9h36M2219.5 1696.9h-36" stroke="#4a4a4a" stroke-width="2.5"/>
<path d="M169 1854.8h36M2219.5 1854.8h-36" stroke="#4a4a4a" stroke-width="2.5"/>
<path d="M169 2012.8h36M2219.5 2012.8h-36" stroke="#4a4a4a" stroke-width="2.5"/>
<rect x="169" y="1241" width="2050.5" height="796.5" fill="none" stroke="#4a4a4a" stroke-width="3.2"/>
<text transform="translate(134 1381) rotate(-90)" font-size="43" text-anchor="middle" fill="#444" stroke="#444" stroke-width="0.4" textLength="56" lengthAdjust="spacingAndGlyphs">200</text>
<text transform="translate(134 1539) rotate(-90)" font-size="43" text-anchor="middle" fill="#444" stroke="#444" stroke-width="0.4" textLength="56" lengthAdjust="spacingAndGlyphs">400</text>
<text transform="translate(134 1696.9) rotate(-90)" font-size="43" text-anchor="middle" fill="#444" stroke="#444" stroke-width="0.4" textLength="56" lengthAdjust="spacingAndGlyphs">600</text>
<text transform="translate(134 1854.8) rotate(-90)" font-size="43" text-anchor="middle" fill="#444" stroke="#444" stroke-width="0.4" textLength="56" lengthAdjust="spacingAndGlyphs">800</text>
<text transform="translate(134 2012.8) rotate(-90)" font-size="43" text-anchor="middle" fill="#444" stroke="#444" stroke-width="0.4" textLength="75" lengthAdjust="spacingAndGlyphs">1000</text>
<text transform="translate(75 1711) rotate(-90)" font-size="47" text-anchor="middle" fill="#222" textLength="322" lengthAdjust="spacingAndGlyphs">Pressure (hPa)</text>
<text x="368" y="2101.7" font-size="33" text-anchor="middle" fill="#444" stroke="#444" stroke-width="0.5" textLength="104" lengthAdjust="spacingAndGlyphs">30°W</text>
<text x="780" y="2101.7" font-size="33" text-anchor="middle" fill="#444" stroke="#444" stroke-width="0.5" textLength="36" lengthAdjust="spacingAndGlyphs">0°</text>
<text x="1193.5" y="2101.7" font-size="33" text-anchor="middle" fill="#444" stroke="#444" stroke-width="0.5" textLength="89" lengthAdjust="spacingAndGlyphs">30°E</text>
<text x="1607" y="2101.7" font-size="33" text-anchor="middle" fill="#444" stroke="#444" stroke-width="0.5" textLength="91" lengthAdjust="spacingAndGlyphs">60°E</text>
<text x="2019" y="2101.7" font-size="33" text-anchor="middle" fill="#444" stroke="#444" stroke-width="0.5" textLength="89" lengthAdjust="spacingAndGlyphs">90°E</text>
<text x="1193.6" y="2142" font-size="40" text-anchor="middle" fill="#333" stroke="#333" stroke-width="0.7" textLength="70" lengthAdjust="spacingAndGlyphs">lon</text>
<text x="226" y="2068.6" font-size="43" fill="#111" textLength="151" lengthAdjust="spacingAndGlyphs">Atlantic</text>
<text x="706" y="2068.6" font-size="43" fill="#111" textLength="105" lengthAdjust="spacingAndGlyphs">Sahel</text>
<text x="1282" y="2068.6" font-size="43" fill="#111" textLength="194" lengthAdjust="spacingAndGlyphs">Highlands</text>
<text x="1846" y="2068.6" font-size="43" fill="#111" textLength="93" lengthAdjust="spacingAndGlyphs">India</text>
<text x="2149.6" y="2068.6" font-size="43" fill="#111" textLength="66.2" lengthAdjust="spacingAndGlyphs">MC</text>
<path d="M1854 2117L1890 2117" stroke="#111" stroke-width="1.8"/><path d="M1900 2117L1889 2120.8L1889 2113.2Z" fill="#111"/>
<text x="1866" y="2149" font-size="29" text-anchor="middle" fill="#333">1</text>
<text x="904" y="1314" font-size="46" font-weight="bold" fill="#000" textLength="84" lengthAdjust="spacingAndGlyphs">TEJ</text>
<text x="268" y="1334" class="pl" font-size="108" fill="#000">b</text></g>
<g id="panel_c"><clipPath id="cc"><rect x="209" y="2207.5" width="1985" height="768.5"/></clipPath>
<g clip-path="url(#cc)"><polygon points="209,2207.5 2194,2207.5 2194,2272.5 2160,2280 2110,2295 2060,2297.5 1985,2290 1910,2285 1840,2292.5 1800,2307.5 1810,2345 1820,2385 1860,2400 1867.5,2425 1865.4,2450 1867.4,2510.8 1869.4,2571.6 1883.6,2620.2 1891.7,2644.5 1879.6,2676.9 1859.3,2701.2 1831,2729.6 1833,2766 1847.2,2794.4 1859.3,2814.7 1883.6,2839 1907.9,2855.2 1928.2,2871.4 1938.3,2895.7 1936.3,2936.2 1932.3,2975.9 1816.8,2975.9 1816.8,2895.7 1820.8,2839 1802.6,2802.5 1786.4,2766 1770.2,2733.6 1749.9,2709.3 1725.6,2689.1 1707.4,2660.7 1703.3,2632.3 1701.3,2604 1697.2,2571.6 1681,2555.3 1640,2558 1615,2590 1605,2640 1585,2672 1530,2690 1520,2715 1505,2765 1495,2815 1487,2865 1482,2910 1485,2940 1485,2976 577.5,2976 582.5,2945 595,2920 615,2910 650,2920 680,2915 710,2885 720,2850 730,2810 747.5,2765 757.5,2725 742.5,2685 730,2647.5 757.5,2600 785,2570 775,2560 750,2530 725,2495 700,2465 672.5,2442.5 645,2455 615,2470 585,2445 550,2420 520,2400 532.5,2362.5 505,2345 470,2335 435,2325 390,2325 365,2317.5 345,2302.5 325,2295 275,2292.5 209,2292.5" fill="#bdfdd8" stroke="#bdfdd8" stroke-width="1" stroke-linejoin="round"/><polygon points="1974.8,2486.5 1997.1,2482.4 2013.3,2486.5 2005.2,2502.7 1999.1,2506.7" fill="#bdfdd8" stroke="#bdfdd8" stroke-width="1" stroke-linejoin="round"/><polygon points="209,2217.5 2194,2217.5 2194,2265 2160,2270 2110,2282.5 2060,2285 1985,2280 1910,2275 1860,2275 1810,2270 1760,2265 1710,2260 1660,2257.5 1640,2252.5 1590,2257.5 1555,2270 1530,2295 1522.5,2320 1532.5,2345 1560,2365 1590,2372.5 1610,2390 1660,2410 1710,2420 1760,2405 1820,2402.5 1822,2450 1822,2510.8 1826.9,2571.6 1849.2,2628.3 1859.3,2660.7 1835,2681 1814.7,2697.2 1794.5,2699.2 1770.2,2681 1749.9,2640.4 1733.7,2591.8 1721.6,2563.5 1705.3,2547.2 1660.8,2537.1 1600,2545.2 1590,2550 1560,2545 1540,2532.5 1515,2550 1500,2550 1465,2525 1415,2512.5 1355,2515 1310,2530 1280,2560 1260,2595 1265,2615 1250,2635 1240,2660 1240,2700.5 1245,2700 1260,2750 1280,2800 1295,2840 1300,2860 1297.5,2900 1290,2976 815,2976 825,2950 840,2920 850,2880 867.5,2850 870,2810 862.5,2770 855,2735 840,2705 807.5,2670 795,2640 807.5,2600 820,2600 830,2570 820,2540 800,2510 775,2480 755,2450 740,2420 735,2390 727.5,2355 710,2347.5 680,2360 640,2385 610,2405 595,2377.5 580,2350 560,2330 530,2320 500,2307.5 470,2300 435,2290 400,2280 350,2275 275,2270 209,2270" fill="#66e8a0" stroke="#66e8a0" stroke-width="1" stroke-linejoin="round"/><polygon points="1315,2820 1320,2750 1325,2690 1355,2680 1390,2687.5 1430,2700 1460,2720 1467.5,2750 1470,2800 1475,2850 1480,2900 1482.5,2976 1310,2976" fill="#66e8a0" stroke="#66e8a0" stroke-width="1" stroke-linejoin="round"/><polygon points="920,2325 940,2312.5 990,2307.5 1065,2317.5 1105,2307.5 1160,2302.5 1220,2317.5 1265,2330 1320,2325 1375,2312.5 1440,2315 1455,2322.5 1430,2340 1380,2342.5 1320,2350 1265,2340 1220,2345 1165,2350 1105,2342.5 1065,2330 1015,2337.5 970,2345 940,2335" fill="#bdfdd8" stroke="#bdfdd8" stroke-width="1" stroke-linejoin="round"/><polygon points="350,2242.5 400,2230 500,2222.5 650,2220 940.5,2220 1040,2222.5 1140,2230 1190,2237.5 1210,2240 1180,2247.5 1140,2255 1090,2270 1040,2285 980,2307.5 940,2312.5 900,2307.5 850,2297.5 800,2294 725,2295 675,2300 635,2307.5 600,2312.5 580,2302.5 540,2292.5 500,2280 460,2267.5 425,2255 390,2250" fill="#00d46c" stroke="#00d46c" stroke-width="1" stroke-linejoin="round"/><polygon points="1240,2275 1260,2262.5 1320,2260 1380,2262.5 1410,2275 1390,2285 1340,2292.5 1290,2297.5 1260,2292.5" fill="#00d46c" stroke="#00d46c" stroke-width="1" stroke-linejoin="round"/><polygon points="1840,2245 1880,2232.5 1960,2227.5 2060,2227.5 2160,2222.5 2194,2225 2194,2255 2160,2257.5 2060,2255 1960,2257.5 1880,2255" fill="#00d46c" stroke="#00d46c" stroke-width="1" stroke-linejoin="round"/><polygon points="772.5,2405 790,2382.5 815,2367.5 850,2365 900,2367.5 940.5,2365 990,2355 1040,2350 1065,2345 1105,2352.5 1165,2360 1220,2350 1265,2345 1320,2355 1380,2350 1440,2345 1490,2350 1530,2370 1560,2395 1590,2410 1620,2435 1660,2445 1710,2450 1750,2465 1765,2490 1750,2510 1710,2505 1660,2500 1610,2505 1560,2520 1540,2530 1515,2520 1465,2505 1415,2500 1365,2495 1320,2495 1290,2505 1265,2520 1240,2530 1220,2550 1200,2580 1190,2610 1180,2640 1185,2670 1190,2700.5 1200,2720 1220,2760 1240,2800 1250,2840 1255,2880 1260,2920 1260,2976 900,2976 910,2940 925,2900 940,2855 955,2810 970,2770 980,2740 965,2710 940,2690 920,2685 890,2675 862.5,2645 865,2600 875,2600 870,2560 860,2520 845,2490 815,2465 790,2435" fill="#00d46c" stroke="#00d46c" stroke-width="1" stroke-linejoin="round"/><polygon points="1350,2825 1355,2775 1370,2735 1390,2730 1405,2745 1420,2775 1432.5,2815 1440,2860 1445,2900 1447.5,2976 1347.5,2976" fill="#00d46c" stroke="#00d46c" stroke-width="1" stroke-linejoin="round"/><polygon points="455,2242.5 500,2232.5 600,2227.5 750,2227.5 850,2230 940.5,2232.5 1015,2235 1100,2239 1080,2247.5 1040,2260 980,2282.5 940,2295 875,2290 825,2282.5 750,2280 675,2285 625,2290 590,2287.5 550,2275 500,2255" fill="#00b93c" stroke="#00b93c" stroke-width="1" stroke-linejoin="round"/><polygon points="980,2405 1065,2385 1140,2392.5 1220,2397.5 1290,2395 1350,2397.5 1405,2405 1390,2435 1380,2455 1340,2460 1290,2450 1265,2480 1240,2500 1210,2510 1165,2520 1115,2530 1065,2540 1040,2545 1005,2525 975,2490 975,2450" fill="#00a61e" stroke="#00a61e" stroke-width="1" stroke-linejoin="round"/><polygon points="1040,2595 1100,2595 1110,2625 1117.5,2660 1125,2700.5 1150,2725 1175,2770 1200,2810 1220,2850 1235,2900 1240,2950 1240,2976 1005,2976 990,2940 990,2900 997.5,2860 1012.5,2820 1025,2780 1032.5,2730 1015,2700.5 1015,2650 1025,2615" fill="#00a61e" stroke="#00a61e" stroke-width="1" stroke-linejoin="round"/><polygon points="1375,2895 1385,2887.5 1397.5,2900 1390,2920" fill="#00b93c" stroke="#00b93c" stroke-width="1" stroke-linejoin="round"/><polygon points="605,2242.5 625,2232.5 675,2230 750,2231 835,2240 825,2255 790,2267.5 725,2270 650,2267.5 620,2257.5" fill="#00a61e" stroke="#00a61e" stroke-width="1" stroke-linejoin="round"/><polygon points="1000,2950 1015,2900 1040,2865 1075,2850 1115,2855 1150,2880 1155,2920 1150,2950 1090,2950 1060,2976 1005,2976" fill="#009612" stroke="#009612" stroke-width="1" stroke-linejoin="round"/><polygon points="660,2241 680,2239 705,2241 680,2245" fill="#009612" stroke="#009612" stroke-width="1" stroke-linejoin="round"/><polygon points="1117.5,2322.5 1160,2311 1215,2322.5 1165,2332.5" fill="#ffffff" stroke="#ffffff" stroke-width="1" stroke-linejoin="round"/><polygon points="1582.5,2317.5 1600,2285 1660,2281 1725,2300 1775,2322.5 1801,2306.5 1811,2345 1797.5,2350 1780,2360 1750,2356 1710,2347.5 1660,2345 1610,2345 1590,2335" fill="#ffffff" stroke="#ffffff" stroke-width="1" stroke-linejoin="round"/><polygon points="1320,2560 1340,2545 1390,2535 1430,2545 1450,2570 1440,2595 1460,2615 1490,2630 1520,2652.5 1490,2655 1440,2640 1390,2625 1340,2600 1315,2580" fill="#ffffff" stroke="#ffffff" stroke-width="1" stroke-linejoin="round"/><polygon points="209,2382.5 235,2375 255,2360 262.5,2330 275,2316 320,2314 345,2331 372.5,2332.5 410,2340 450,2347.5 485,2357.5 505,2362.5 495,2377.5 460,2400 480,2425 500,2440 525,2445 550,2470 570,2485 600,2495 650,2497.5 680,2505 710,2525 737.5,2540 755,2567.5 737.5,2595 710,2615 680,2635 650,2647.5 610,2650 595,2652.5 615,2675 632.5,2705 637.5,2730 625,2770 600,2810 570,2840 545,2865 530,2895 550,2925 560,2955 562.5,2976 209,2976" fill="#f8d8d1" stroke="#f8d8d1" stroke-width="1" stroke-linejoin="round"/><polygon points="209,2842.5 240,2843.5 252.5,2855 240,2862.5 209,2863.5" fill="#ffffff" stroke="#ffffff" stroke-width="1" stroke-linejoin="round"/><polygon points="209,2440 250,2435 285,2420 310,2410 345,2410 370,2420 390,2445 405,2470 430,2485 460,2495 500,2500 550,2512.5 580,2530 620,2540 650,2537.5 680,2545 712.5,2567.5 690,2585 650,2595 610,2595 570,2600 540,2615 510,2640 505,2650 507.5,2650 520,2685 535,2725 505,2770 470,2800 430,2820 400,2825 365,2815 325,2795 285,2770 250,2745 225,2735 209,2734" fill="#e8b9ae" stroke="#e8b9ae" stroke-width="1" stroke-linejoin="round"/><polygon points="300,2927.5 315,2905 350,2885 385,2872.5 410,2875 440,2895 446,2920 445,2945 420,2950 375,2950 330,2945 305,2937.5" fill="#e8b9ae" stroke="#e8b9ae" stroke-width="1" stroke-linejoin="round"/><polygon points="209,2545 250,2547.5 280,2542.5 310,2535 345,2534 372.5,2567.5 350,2600 330,2625 300,2635 270,2600 240,2592.5 209,2595" fill="#d6a59a" stroke="#d6a59a" stroke-width="1" stroke-linejoin="round"/><polygon points="1540,2700 1570,2692.5 1610,2692.5 1640,2695 1680.5,2697.5 1701.3,2685 1721.6,2709.3 1741.8,2741.7 1762.1,2782.3 1778.3,2830.9 1782.3,2855.2 1774.2,2895.7 1762.1,2936.2 1760,2975.9 1530,2976 1522.5,2925 1522.5,2875 1525,2825 1527.5,2775 1530,2730" fill="#f8d8d1" stroke="#f8d8d1" stroke-width="1" stroke-linejoin="round"/><polygon points="1624.3,2652.6 1660.8,2648.5 1689.1,2660.7 1697.2,2678.9 1660.8,2683 1624.3,2676.9 1608.1,2664.7" fill="#f8d8d1" stroke="#f8d8d1" stroke-width="1" stroke-linejoin="round"/><polygon points="1608.1,2567.5 1640.5,2561.4 1668.9,2567.5 1672.9,2595.9 1668.9,2628.3 1652.7,2652.6 1640.5,2628.3 1624.3,2595.9" fill="#f8d8d1" stroke="#f8d8d1" stroke-width="1" stroke-linejoin="round"/><polygon points="1577.5,2730 1635,2722.5 1680,2732.5 1675,2770 1667.5,2815 1650,2822.5 1620,2810 1595,2775" fill="#e8b9ae" stroke="#e8b9ae" stroke-width="1" stroke-linejoin="round"/><polygon points="1800,2307.5 1820,2320 1840,2350 1860,2385 1880,2410 1885,2435 1900,2460 1901.9,2482.4 1899.8,2531 1907.9,2583.7 1924.1,2620.2 1936.3,2640.4 1916,2660.7 1883.6,2693.1 1851.2,2729.6 1855.3,2762 1867.4,2786.3 1883.6,2806.6 1907.9,2814.7 1936.3,2830.9 1956.6,2843 1968.7,2855.2 1976.8,2879.5 1980.9,2916 1982.9,2975.9 2194,2976 2194,2275 2160,2282.5 2110,2297.5 2060,2300 1985,2292.5 1910,2287.5 1840,2295" fill="#f8d8d1" stroke="#f8d8d1" stroke-width="1" stroke-linejoin="round"/><polygon points="1912,2490.5 1924.1,2474.3 1952.5,2466.2 1989,2462.2 2017.3,2470.3 2045.7,2486.5 2057.9,2522.9 2072,2567.5 2045.7,2587.8 2021.4,2612.1 1999.1,2628.3 1980.9,2616.1 1968.7,2571.6 1956.6,2543.2 1940.4,2518.9 1924.1,2502.7" fill="#ffffff" stroke="#ffffff" stroke-width="1" stroke-linejoin="round"/><polygon points="1974.8,2486.5 1997.1,2482.4 2013.3,2486.5 2005.2,2502.7 1999.1,2506.7" fill="#bdfdd8" stroke="#bdfdd8" stroke-width="1" stroke-linejoin="round"/><polygon points="1815,2317.5 1840,2345 1880,2400 1910,2415 1950,2415 1985,2400 2020,2410 2050,2440 2066,2450 2078.1,2470.3 2102.4,2498.6 2118.6,2531 2124.7,2571.6 2122.7,2612.1 2114.6,2644.5 2098.4,2668.8 2078.1,2701.2 2057.9,2719.4 2025.4,2717.4 1976.8,2703.2 1944.4,2699.2 1912,2713.4 1889.7,2729.6 1899.8,2741.7 1924.1,2749.8 1964.7,2757.9 2005.2,2770.1 2029.5,2782.3 2037.6,2814.7 2041.7,2855.2 2045.7,2895.7 2057.9,2928.1 2078.1,2952.4 2106.5,2968.6 2134.8,2956.5 2167.3,2936.2 2194,2928.1 2194,2280 2160,2287.5 2110,2302.5 2060,2305 1985,2297.5 1910,2292.5 1840,2300" fill="#e8b9ae" stroke="#e8b9ae" stroke-width="1" stroke-linejoin="round"/><polygon points="1850,2320 1885,2307.5 1960,2312.5 1995,2335 2010,2365 2035,2400 2070,2425 2110,2460 2140,2500 2160,2550 2165,2580 2194,2585 2194,2285 2160,2292.5 2110,2307.5 2060,2310 2010,2305 1960,2300 1885,2302.5" fill="#d6a59a" stroke="#d6a59a" stroke-width="1" stroke-linejoin="round"/><polygon points="2125,2350 2150,2325 2194,2310 2194,2435 2160,2425 2135,2400 2122.5,2375" fill="#c69488" stroke="#c69488" stroke-width="1" stroke-linejoin="round"/><polygon points="2160,2365 2175,2350 2194,2347.5 2194,2385 2175,2382.5" fill="#b8857a" stroke="#b8857a" stroke-width="1" stroke-linejoin="round"/><polygon points="1325,2572.5 1345,2557.5 1390,2552.5 1420,2560 1427.5,2572.5 1415,2595 1405,2605 1355,2605 1335,2590" fill="#f8d8d1" stroke="#f8d8d1" stroke-width="1" stroke-linejoin="round"/><polygon points="1627.5,2320 1645,2314 1685,2317.5 1720,2325 1700,2345 1660,2347.5 1640,2340" fill="#f8d8d1" stroke="#f8d8d1" stroke-width="1" stroke-linejoin="round"/></g>
<g fill="none" stroke="#ff0000" stroke-width="5.5" stroke-linejoin="round" stroke-linecap="round">
<path d="M492.5 2572.5 C500.4 2567.9 523.8 2553.8 540 2545 C556.2 2536.2 571.7 2528.3 590 2520 C608.3 2511.7 631.7 2501.2 650 2495 C668.3 2488.8 683.3 2485.8 700 2482.5 C716.7 2479.2 733.3 2478.3 750 2475 C766.7 2471.7 783.3 2466.2 800 2462.5 C816.7 2458.8 833.3 2455 850 2452.5 C866.7 2450 884.9 2449.2 900 2447.5 C915.1 2445.8 925.5 2444.6 940.5 2442.5 C955.5 2440.4 969.2 2437.1 990 2435 C1010.8 2432.9 1044.2 2431 1065 2430 C1085.8 2429 1098.3 2428.2 1115 2429 C1131.7 2429.8 1147.5 2433.2 1165 2435 C1182.5 2436.8 1200.8 2438.3 1220 2440 C1239.2 2441.7 1263.3 2442.5 1280 2445 C1296.7 2447.5 1305.8 2452.5 1320 2455 C1334.2 2457.5 1349.2 2459.6 1365 2460 C1380.8 2460.4 1402.5 2457.9 1415 2457.5 C1427.5 2457.1 1431.7 2455 1440 2457.5 C1448.3 2460 1456.7 2466.2 1465 2472.5 C1473.3 2478.8 1481.7 2487.9 1490 2495 C1498.3 2502.1 1506.7 2508.3 1515 2515 C1523.3 2521.7 1531.7 2530 1540 2535 C1548.3 2540 1556.7 2542.9 1565 2545 C1573.3 2547.1 1577.5 2548.3 1590 2547.5 C1602.5 2546.7 1624.9 2540.4 1640 2540 C1655.1 2539.6 1668.8 2545 1680.5 2545 C1692.2 2545 1696.8 2541.7 1710 2540 C1723.2 2538.3 1743.3 2538.3 1760 2535 C1776.7 2531.7 1793.3 2525.8 1810 2520 C1826.7 2514.2 1846.7 2506.7 1860 2500 C1873.3 2493.3 1880.8 2485.8 1890 2480 C1899.2 2474.2 1910.8 2467.5 1915 2465"/>
<path d="M1960 2482.5 C1962.5 2485.4 1968.3 2493.8 1975 2500 C1981.7 2506.2 1991.7 2512.5 2000 2520 C2008.3 2527.5 2016.7 2536.7 2025 2545 C2033.3 2553.3 2042.5 2562.5 2050 2570 C2057.5 2577.5 2061.7 2584.2 2070 2590 C2078.3 2595.8 2090.8 2599.2 2100 2605 C2109.2 2610.8 2117.5 2617.5 2125 2625 C2132.5 2632.5 2139.2 2640.8 2145 2650 C2150.8 2659.2 2156.2 2671.6 2160 2680 C2163.8 2688.4 2165 2694.7 2167.5 2700.5 C2170 2706.3 2172.9 2710.5 2175 2715 C2177.1 2719.5 2179.2 2725.4 2180 2727.5"/>
<path d="M492.5 2572.5 C502.1 2575 532.1 2582.1 550 2587.5 C567.9 2592.9 583.3 2598.8 600 2605 C616.7 2611.2 633.3 2620 650 2625 C666.7 2630 683.3 2633.3 700 2635 C716.7 2636.7 733.3 2635.7 750 2635 C766.7 2634.3 783.3 2631.4 800 2631 C816.7 2630.6 836.7 2631 850 2632.5 C863.3 2634 870 2636.2 880 2640 C890 2643.8 899.9 2648.3 910 2655 C920.1 2661.7 931.3 2673.8 940.5 2680 C949.7 2686.2 956.8 2690 965 2692.5 C973.2 2695 981.7 2696.2 990 2695 C998.3 2693.8 1006.7 2689.2 1015 2685 C1023.3 2680.8 1030.8 2674.6 1040 2670 C1049.2 2665.4 1060 2660.4 1070 2657.5 C1080 2654.6 1088.3 2652.5 1100 2652.5 C1111.7 2652.5 1125 2655.4 1140 2657.5 C1155 2659.6 1173.3 2663.3 1190 2665 C1206.7 2666.7 1223.3 2668.8 1240 2667.5 C1256.7 2666.2 1275 2660.4 1290 2657.5 C1305 2654.6 1315.8 2650.8 1330 2650 C1344.2 2649.2 1360.8 2650 1375 2652.5 C1389.2 2655 1401.7 2660.4 1415 2665 C1428.3 2669.6 1442.5 2675 1455 2680 C1467.5 2685 1480 2690 1490 2695 C1500 2700 1506.7 2703.3 1515 2710 C1523.3 2716.7 1531.7 2726.7 1540 2735 C1548.3 2743.3 1556.7 2753.3 1565 2760 C1573.3 2766.7 1581.7 2770.8 1590 2775 C1598.3 2779.2 1605 2781.2 1615 2785 C1625 2788.8 1639.1 2794.2 1650 2797.5 C1660.9 2800.8 1673 2801.2 1680.5 2805 C1688 2808.8 1690.9 2812.5 1695 2820 C1699.1 2827.5 1700 2840 1705 2850 C1710 2860 1718.3 2870 1725 2880 C1731.7 2890 1739.2 2900.8 1745 2910 C1750.8 2919.2 1754.6 2929.6 1760 2935 C1765.4 2940.4 1771.2 2942.9 1777.5 2942.5 C1783.8 2942.1 1792.1 2939.6 1797.5 2932.5 C1802.9 2925.4 1805.4 2912.1 1810 2900 C1814.6 2887.9 1820 2872.5 1825 2860 C1830 2847.5 1834.2 2835 1840 2825 C1845.8 2815 1851.7 2807.5 1860 2800 C1868.3 2792.5 1878.3 2785.4 1890 2780 C1901.7 2774.6 1916.7 2771 1930 2767.5 C1943.3 2764 1956.7 2760.7 1970 2759 C1983.3 2757.3 1998.3 2756.9 2010 2757.5 C2021.7 2758.1 2030 2759.6 2040 2762.5 C2050 2765.4 2060 2769.6 2070 2775 C2080 2780.4 2090 2788.3 2100 2795 C2110 2801.7 2121.7 2809.2 2130 2815 C2138.3 2820.8 2144.6 2824.2 2150 2830 C2155.4 2835.8 2161.7 2842.5 2162.5 2850 C2163.3 2857.5 2157.1 2866.7 2155 2875 C2152.9 2883.3 2150 2890.8 2150 2900 C2150 2909.2 2153.3 2920.8 2155 2930 C2156.7 2939.2 2158.3 2947.3 2160 2955 C2161.7 2962.7 2164.2 2972.5 2165 2976"/>
<path d="M217.5 2555 C222.9 2556.2 241.2 2559.6 250 2562.5 C258.8 2565.4 270 2567.1 270 2572.5 C270 2577.9 258.8 2588.8 250 2595 C241.2 2601.2 222.9 2607.5 217.5 2610"/>
<path d="M515 2976 C511.7 2971.7 502.5 2959.3 495 2950 C487.5 2940.7 479.2 2929.2 470 2920 C460.8 2910.8 454.2 2900.8 440 2895 C425.8 2889.2 405 2885 385 2885 C365 2885 337.9 2886.5 320 2895 C302.1 2903.5 277.5 2923.7 277.5 2936 C277.5 2948.3 305.4 2963.8 320 2969 C334.6 2974.2 351.7 2966.9 365 2967.5 C378.3 2968.1 392.5 2971.1 400 2972.5 C407.5 2973.9 408.3 2975.4 410 2976"/>
<path d="M947.5 2571 C950.8 2567.1 974.6 2557.5 990 2552.5 C1005.4 2547.5 1023.3 2543.5 1040 2541 C1056.7 2538.5 1073.3 2539.3 1090 2537.5 C1106.7 2535.7 1123.3 2532.9 1140 2530 C1156.7 2527.1 1173.3 2522.5 1190 2520 C1206.7 2517.5 1223.3 2516 1240 2515 C1256.7 2514 1269.2 2515 1290 2514 C1310.8 2513 1344.2 2509.7 1365 2509 C1385.8 2508.3 1400.8 2508.2 1415 2510 C1429.2 2511.8 1439.2 2514.2 1450 2520 C1460.8 2525.8 1470 2536.2 1480 2545 C1490 2553.8 1504.2 2563.3 1510 2572.5 C1515.8 2581.7 1513.3 2591.2 1515 2600 C1516.7 2608.8 1518.2 2616 1520 2625 C1521.8 2634 1531 2648.8 1526 2654 C1521 2659.2 1501 2658.3 1490 2656 C1479 2653.7 1472.5 2644.8 1460 2640 C1447.5 2635.2 1430.8 2631.7 1415 2627.5 C1399.2 2623.3 1381.7 2618.3 1365 2615 C1348.3 2611.7 1331.7 2610 1315 2607.5 C1298.3 2605 1281.7 2601.7 1265 2600 C1248.3 2598.3 1231.7 2598.8 1215 2597.5 C1198.3 2596.2 1181.7 2593.9 1165 2592.5 C1148.3 2591.1 1131.7 2590.1 1115 2589 C1098.3 2587.9 1081.7 2587.1 1065 2586 C1048.3 2584.9 1030.8 2584.2 1015 2582.5 C999.2 2580.8 981.2 2577.9 970 2576 C958.8 2574.1 944.2 2574.9 947.5 2571Z"/>
<path d="M1285 2572.5 C1285 2565.8 1306.7 2555.8 1320 2550 C1333.3 2544.2 1349.2 2539.2 1365 2537.5 C1380.8 2535.8 1401.7 2537.1 1415 2540 C1428.3 2542.9 1436.7 2549.6 1445 2555 C1453.3 2560.4 1465 2565.8 1465 2572.5 C1465 2579.2 1454.2 2590 1445 2595 C1435.8 2600 1423.3 2601.2 1410 2602.5 C1396.7 2603.8 1380 2604.6 1365 2602.5 C1350 2600.4 1333.3 2595 1320 2590 C1306.7 2585 1285 2579.2 1285 2572.5Z"/>
<path d="M1350 2572.5 C1350 2570.8 1365 2568 1375 2568 C1385 2568 1410 2570.8 1410 2572.5 C1410 2574.2 1385 2578 1375 2578 C1365 2578 1350 2574.2 1350 2572.5Z"/>
<path d="M1140 2371 C1140 2369.2 1169.2 2367.4 1190 2366.5 C1210.8 2365.6 1240 2364.8 1265 2365.5 C1290 2366.2 1340 2368.6 1340 2370.5 C1340 2372.4 1290 2375.9 1265 2377 C1240 2378.1 1210.8 2378 1190 2377 C1169.2 2376 1140 2372.8 1140 2371Z"/>
<path d="M1742.5 2364 C1737.1 2362.5 1723.8 2357.3 1710 2355 C1696.2 2352.7 1676.7 2350.4 1660 2350 C1643.3 2349.6 1626.7 2350.7 1610 2352.5 C1593.3 2354.3 1575.8 2359.9 1560 2361 C1544.2 2362.1 1535 2358.3 1515 2359 C1495 2359.7 1463.8 2363 1440 2365 C1416.2 2367 1376.7 2369.3 1372.5 2371 C1368.3 2372.7 1395.4 2373.3 1415 2375 C1434.6 2376.7 1465 2378.9 1490 2381 C1515 2383.1 1545 2384.8 1565 2387.5 C1585 2390.2 1594.2 2393.3 1610 2397.5 C1625.8 2401.7 1645 2408.3 1660 2412.5 C1675 2416.7 1688.3 2421.2 1700 2422.5 C1711.7 2423.8 1720.8 2422.1 1730 2420 C1739.2 2417.9 1748.8 2414.2 1755 2410 C1761.2 2405.8 1765.4 2397.5 1767.5 2395"/>
<path d="M1980 2392.5 C1985 2392.1 1998.3 2391.7 2010 2390 C2021.7 2388.3 2037.5 2385.8 2050 2382.5 C2062.5 2379.2 2087.5 2373.6 2085 2370 C2082.5 2366.4 2051.7 2362.5 2035 2361 C2018.3 2359.5 2005.8 2361.2 1985 2361 C1964.2 2360.8 1934.2 2359.3 1910 2360 C1885.8 2360.7 1857.5 2362.9 1840 2365 C1822.5 2367.1 1808.3 2371.2 1805 2372.5 C1801.7 2373.8 1810.8 2370.8 1820 2372.5 C1829.2 2374.2 1845 2379.2 1860 2382.5 C1875 2385.8 1901.7 2390.8 1910 2392.5"/>
<path d="M1770 2666 C1776.7 2666.5 1795 2669.3 1810 2669 C1825 2668.7 1843.3 2666.3 1860 2664 C1876.7 2661.7 1896.7 2656.5 1910 2655 C1923.3 2653.5 1930.8 2654.2 1940 2655 C1949.2 2655.8 1956.7 2660.4 1965 2660 C1973.3 2659.6 1990 2654.6 1990 2652.5 C1990 2650.4 1973.3 2647.9 1965 2647.5 C1956.7 2647.1 1948.3 2649.3 1940 2650 C1931.7 2650.7 1925 2651.9 1915 2651.5 C1905 2651.1 1892.5 2649.8 1880 2647.5 C1867.5 2645.2 1851.7 2639.6 1840 2637.5 C1828.3 2635.4 1823.3 2634.2 1810 2635 C1796.7 2635.8 1776.7 2641.8 1760 2642.5 C1743.3 2643.2 1726.7 2640.9 1710 2639 C1693.3 2637.1 1673.3 2631.2 1660 2631 C1646.7 2630.8 1636.7 2633.9 1630 2637.5 C1623.3 2641.1 1619.2 2646.7 1620 2652.5 C1620.8 2658.3 1628.3 2667.9 1635 2672.5 C1641.7 2677.1 1649.2 2678.3 1660 2680 C1670.8 2681.7 1693.3 2682.1 1700 2682.5"/>
</g><g fill="none" stroke="#ff1212" stroke-width="5.8" stroke-dasharray="15 7">
<path d="M217.5 2222.5 C227.1 2222.9 252.9 2224.2 275 2225 C297.1 2225.8 329.2 2226.2 350 2227.5 C370.8 2228.8 389.2 2231.1 400 2232.5 C410.8 2233.9 412.5 2235.4 415 2236"/>
<path d="M217.5 2270 C231.2 2269.6 273.8 2268.8 300 2267.5 C326.2 2266.2 354.2 2264.6 375 2262.5 C395.8 2260.4 410.8 2257.1 425 2255 C439.2 2252.9 451.8 2251.1 460 2250 C468.2 2248.9 475.2 2249.7 474 2248.5 C472.8 2247.3 456.1 2243.9 452.5 2243"/>
<path d="M217.5 2303.5 C227.1 2302.5 257.1 2299.8 275 2297.5 C292.9 2295.2 304.2 2291.9 325 2290 C345.8 2288.1 375 2286.8 400 2286 C425 2285.2 454.2 2284.3 475 2285 C495.8 2285.7 510.8 2288.5 525 2290 C539.2 2291.5 547.5 2293.2 560 2294 C572.5 2294.8 585 2296.1 600 2295 C615 2293.9 633.3 2289.6 650 2287.5 C666.7 2285.4 683.3 2283.8 700 2282.5 C716.7 2281.2 729.2 2280.8 750 2280 C770.8 2279.2 806.7 2277.1 825 2277.5 C843.3 2277.9 849.2 2280.4 860 2282.5 C870.8 2284.6 876.6 2288.3 890 2290 C903.4 2291.7 923.8 2292.5 940.5 2292.5 C957.2 2292.5 973.4 2290 990 2290 C1006.6 2290 1023.3 2292.5 1040 2292.5 C1056.7 2292.5 1073.3 2290.8 1090 2290 C1106.7 2289.2 1126.7 2287.5 1140 2287.5 C1153.3 2287.5 1158.3 2287.9 1170 2290 C1181.7 2292.1 1196.7 2297.3 1210 2300 C1223.3 2302.7 1236.7 2305.2 1250 2306 C1263.3 2306.8 1275 2306.4 1290 2305 C1305 2303.6 1323.3 2300.4 1340 2297.5 C1356.7 2294.6 1373.3 2290.4 1390 2287.5 C1406.7 2284.6 1423.3 2281.7 1440 2280 C1456.7 2278.3 1473.3 2278.3 1490 2277.5 C1506.7 2276.7 1523.3 2276.2 1540 2275 C1556.7 2273.8 1573.3 2271.7 1590 2270 C1606.7 2268.3 1624.9 2266.2 1640 2265 C1655.1 2263.8 1671.3 2262.9 1680.5 2262.5 C1689.7 2262.1 1692.6 2262.5 1695 2262.5"/>
<path d="M1780 2275 C1786.7 2275.8 1806.7 2279.2 1820 2280 C1833.3 2280.8 1845 2279.8 1860 2280 C1875 2280.2 1893.3 2280.2 1910 2281 C1926.7 2281.8 1943.3 2283.1 1960 2285 C1976.7 2286.9 1993.3 2290.4 2010 2292.5 C2026.7 2294.6 2043.3 2296.7 2060 2297.5 C2076.7 2298.3 2095 2298.3 2110 2297.5 C2125 2296.7 2138.3 2293.9 2150 2292.5 C2161.7 2291.1 2175 2289.6 2180 2289"/>
<path d="M815 2210 L850 2217.5"/>
<path d="M940 2225 C948.3 2225.4 975 2227.3 990 2227.5 C1005 2227.7 1019.2 2227.2 1030 2226 C1040.8 2224.8 1047.5 2222.2 1055 2220 C1062.5 2217.8 1071.7 2213.8 1075 2212.5"/>
<path d="M1110 2210 C1115 2211.7 1129.2 2217.1 1140 2220 C1150.8 2222.9 1163.3 2225.4 1175 2227.5 C1186.7 2229.6 1199.2 2231.9 1210 2232.5 C1220.8 2233.1 1231.7 2233.1 1240 2231 C1248.3 2228.9 1254.2 2223.3 1260 2220 C1265.8 2216.7 1272.5 2212.5 1275 2211"/>
<path d="M1325 2211 C1330 2213.3 1344.2 2221 1355 2225 C1365.8 2229 1375.8 2233.2 1390 2235 C1404.2 2236.8 1423.3 2236.2 1440 2236 C1456.7 2235.8 1469.2 2234 1490 2234 C1510.8 2234 1540 2235.2 1565 2236 C1590 2236.8 1620.8 2238.3 1640 2239 C1659.2 2239.7 1668.8 2239 1680.5 2240 C1692.2 2241 1700.9 2244 1710 2245 C1719.1 2246 1730.8 2245.8 1735 2246"/>
<path d="M1820 2215 L1840 2210"/>
<path d="M1890 2210 L1985 2210"/>
<path d="M1140 2249 C1144.2 2249.2 1155 2250.8 1165 2250.5 C1175 2250.2 1194.2 2248 1200 2247.5"/>
<path d="M2035 2236 C2026.7 2236 2005.8 2236 1985 2236 C1964.2 2236 1930.8 2235.8 1910 2236 C1889.2 2236.2 1874.2 2235.2 1860 2237.5 C1845.8 2239.8 1826.7 2247.1 1825 2250 C1823.3 2252.9 1840 2253.8 1850 2255 C1860 2256.2 1866.7 2256.8 1885 2257.5 C1903.3 2258.2 1935 2258.6 1960 2259 C1985 2259.4 2010 2259.4 2035 2260 C2060 2260.6 2089.2 2262.9 2110 2262.5 C2130.8 2262.1 2148.3 2259.6 2160 2257.5 C2171.7 2255.4 2177.5 2255 2180 2250 C2182.5 2245 2180 2234 2175 2227.5 C2170 2221 2160.8 2213.9 2150 2211 C2139.2 2208.1 2121.7 2208.1 2110 2210 C2098.3 2211.9 2085 2220.4 2080 2222.5"/>
<path d="M730 2976 C733.3 2971.7 744.2 2959.3 750 2950 C755.8 2940.7 761.2 2930 765 2920 C768.8 2910 770.8 2899.2 772.5 2890 C774.2 2880.8 774.6 2869.2 775 2865"/>
<path d="M845 2822.5 C850 2820.8 864.2 2815.2 875 2812.5 C885.8 2809.8 899.1 2807.7 910 2806 C920.9 2804.3 927.2 2804.8 940.5 2802.5 C953.8 2800.2 973.4 2796.2 990 2792.5 C1006.6 2788.8 1023.3 2784.2 1040 2780 C1056.7 2775.8 1073.3 2771.2 1090 2767.5 C1106.7 2763.8 1123.3 2760 1140 2757.5 C1156.7 2755 1175 2752.5 1190 2752.5 C1205 2752.5 1217.5 2755 1230 2757.5 C1242.5 2760 1255 2767.1 1265 2767.5 C1275 2767.9 1281.7 2764.6 1290 2760 C1298.3 2755.4 1306.7 2745.8 1315 2740 C1323.3 2734.2 1330.8 2728.8 1340 2725 C1349.2 2721.2 1359.2 2718.8 1370 2717.5 C1380.8 2716.2 1393.3 2715.4 1405 2717.5 C1416.7 2719.6 1431.7 2724.6 1440 2730 C1448.3 2735.4 1450.8 2743.3 1455 2750 C1459.2 2756.7 1460.8 2761.7 1465 2770 C1469.2 2778.3 1474.2 2790 1480 2800 C1485.8 2810 1492.5 2819.2 1500 2830 C1507.5 2840.8 1516.7 2853.3 1525 2865 C1533.3 2876.7 1542.5 2888.3 1550 2900 C1557.5 2911.7 1566.2 2926.7 1570 2935 C1573.8 2943.3 1572.1 2947.5 1572.5 2950"/>
<path d="M807.5 2976 C811.2 2970.8 822.9 2955.2 830 2945 C837.1 2934.8 843.3 2923.3 850 2915 C856.7 2906.7 866.7 2898.3 870 2895"/>
<path d="M915 2855 C919.2 2853.8 928 2852.1 940.5 2847.5 C953 2842.9 973.4 2833.3 990 2827.5 C1006.6 2821.7 1023.3 2816.2 1040 2812.5 C1056.7 2808.8 1073.3 2806.7 1090 2805 C1106.7 2803.3 1123.3 2803.3 1140 2802.5 C1156.7 2801.7 1176.7 2799.2 1190 2800 C1203.3 2800.8 1210 2803.3 1220 2807.5 C1230 2811.7 1240.8 2820.4 1250 2825 C1259.2 2829.6 1266.7 2834.2 1275 2835 C1283.3 2835.8 1293.3 2833.3 1300 2830 C1306.7 2826.7 1309.2 2821.7 1315 2815 C1320.8 2808.3 1328.3 2797.9 1335 2790 C1341.7 2782.1 1347.5 2772.9 1355 2767.5 C1362.5 2762.1 1372.5 2758.8 1380 2757.5 C1387.5 2756.2 1393.3 2757.1 1400 2760 C1406.7 2762.9 1414.2 2768.3 1420 2775 C1425.8 2781.7 1430 2790.8 1435 2800 C1440 2809.2 1445.4 2820 1450 2830 C1454.6 2840 1459.2 2848.3 1462.5 2860 C1465.8 2871.7 1468.3 2886.7 1470 2900 C1471.7 2913.3 1472.1 2927.3 1472.5 2940 C1472.9 2952.7 1472.5 2970 1472.5 2976"/>
<path d="M905 2976 C906.7 2970 911.7 2950.2 915 2940 C918.3 2929.8 920.8 2922.5 925 2915 C929.2 2907.5 933 2902.1 940.5 2895 C948 2887.9 959.2 2878.8 970 2872.5 C980.8 2866.2 991.7 2861.7 1005 2857.5 C1018.3 2853.3 1033.3 2849.6 1050 2847.5 C1066.7 2845.4 1088.3 2845 1105 2845 C1121.7 2845 1142.5 2847.1 1150 2847.5"/>
<path d="M1212.5 2865 C1213.8 2870 1217.5 2884.2 1220 2895 C1222.5 2905.8 1225 2916.5 1227.5 2930 C1230 2943.5 1233.8 2968.3 1235 2976"/>
<path d="M1320 2976 C1320.4 2967.5 1320.8 2941 1322.5 2925 C1324.2 2909 1325.8 2893.3 1330 2880 C1334.2 2866.7 1342.9 2853.5 1347.5 2845 C1352.1 2836.5 1355.8 2831.7 1357.5 2829"/>
<path d="M1420 2835 C1422.1 2840 1429.2 2854.2 1432.5 2865 C1435.8 2875.8 1438.3 2887.5 1440 2900 C1441.7 2912.5 1442.1 2927.3 1442.5 2940 C1442.9 2952.7 1442.5 2970 1442.5 2976"/>
<path d="M955 2976 C955.8 2970 957.5 2949.3 960 2940 C962.5 2930.7 964.2 2926.7 970 2920 C975.8 2913.3 986.7 2905 995 2900 C1003.3 2895 1015.8 2891.7 1020 2890"/>
<path d="M1065 2905 C1066.2 2909.2 1070.8 2918.2 1072.5 2930 C1074.2 2941.8 1074.6 2968.3 1075 2976"/>
<path d="M1355 2976 C1355.4 2967.5 1355.8 2937.7 1357.5 2925 C1359.2 2912.3 1363.8 2904.2 1365 2900"/>
<path d="M1410 2976 C1409.6 2967.5 1408.8 2937.7 1407.5 2925 C1406.2 2912.3 1403.3 2904.2 1402.5 2900"/>
</g>
<text x="1777.5" y="2381.5" font-size="30" fill="#ff4040" text-anchor="middle" textLength="50" lengthAdjust="spacingAndGlyphs">0.5</text>
<text x="1947.5" y="2400.5" font-size="30" fill="#ff4040" text-anchor="middle" textLength="50" lengthAdjust="spacingAndGlyphs">0.5</text>
<text x="1947.5" y="2468.5" font-size="30" fill="#ff4040" text-anchor="middle" textLength="50" lengthAdjust="spacingAndGlyphs">0.5</text>
<text x="1737.5" y="2675.5" font-size="30" fill="#ff4040" text-anchor="middle" textLength="50" lengthAdjust="spacingAndGlyphs">0.5</text>
<text x="892.5" y="2227" font-size="30" fill="#ff4040" text-anchor="middle" textLength="64" lengthAdjust="spacingAndGlyphs">-0.5</text>
<text x="1780" y="2241" font-size="30" fill="#ff4040" text-anchor="middle" textLength="64" lengthAdjust="spacingAndGlyphs">-0.5</text>
<text x="1737.5" y="2270" font-size="30" fill="#ff4040" text-anchor="middle" textLength="64" lengthAdjust="spacingAndGlyphs">-0.5</text>
<text x="434" y="2244" font-size="30" fill="#ff4040" text-anchor="middle" textLength="26" lengthAdjust="spacingAndGlyphs">-1</text>
<text x="2055" y="2242" font-size="30" fill="#ff4040" text-anchor="middle" textLength="26" lengthAdjust="spacingAndGlyphs">-1</text>
<text x="1045" y="2550" font-size="30" fill="#ff4040" text-anchor="middle" textLength="14" lengthAdjust="spacingAndGlyphs">1</text>
<text x="807.5" y="2851" font-size="30" fill="#ff4040" text-anchor="middle" textLength="64" lengthAdjust="spacingAndGlyphs">-0.5</text>
<text x="895" y="2881" font-size="30" fill="#ff4040" text-anchor="middle" textLength="26" lengthAdjust="spacingAndGlyphs">-1</text>
<text x="1190" y="2854.5" font-size="30" fill="#ff4040" text-anchor="middle" textLength="64" lengthAdjust="spacingAndGlyphs">-1.5</text>
<text x="1400" y="2825" font-size="30" fill="#ff4040" text-anchor="middle" textLength="64" lengthAdjust="spacingAndGlyphs">-1.5</text>
<text x="1040" y="2896" font-size="30" fill="#ff4040" text-anchor="middle" textLength="26" lengthAdjust="spacingAndGlyphs">-2</text>
<text x="1377.5" y="2889.5" font-size="30" fill="#ff4040" text-anchor="middle" textLength="26" lengthAdjust="spacingAndGlyphs">-2</text>
<polygon points="372.5,3001.5 376,2972.5 386,2970 389,2937.5 392.5,2970 397.5,2970 401,2934 405,2970 411,2972.5 415,2985 422.5,2992.5 430,3001.5" fill="#a3a3a3" fill-opacity="0.88"/>
<polygon points="545,3001.5 560,2990 570,2972.5 580,2957.5 585,2967.5 600,2962.5 615,2970 635,2957.5 650,2970 675,2980 700,2977.5 720,2972.5 740,2982.5 775,2975 800,2977.5 850,2972.5 875,2960 890,2942.5 897.5,2960 910,2965 925,2950 940.5,2945 960,2945 980,2960 1005,2975 1030,2967.5 1055,2972.5 1075,2950 1105,2940 1116,2900 1121,2935 1140,2945 1150,2935 1160,2955 1180,2962.5 1200,2957.5 1220,2960 1240,2972.5 1260,2950 1267.5,2915 1285,2900 1300,2875 1310,2860 1322.5,2815 1327.5,2840 1337.5,2815 1345,2835 1350,2880 1365,2900 1380,2910 1390,2895 1400,2880 1410,2867.5 1420,2890 1432.5,2905 1445,2915 1460,2910 1475,2925 1482.5,2945 1492.5,2927.5 1505,2950 1520,2955 1535,2945 1550,2960 1565,2950 1571,2940 1575,2980 1590,3001.5" fill="#a3a3a3" fill-opacity="0.88"/>
<polygon points="1832.5,3001.5 1840,2980 1845,2955 1860,2957.5 1870,2940 1885,2920 1890,2915 1900,2930 1910,2950 1920,2965 1930,2980 1940,2970 1946,2940 1950,2970 1960,2972.5 1970,2955 1975,2980 1985,3001.5" fill="#a3a3a3" fill-opacity="0.88"/>
<polygon points="2115,3001.5 2135,2995 2150,2977.5 2157.5,2995 2175,2995 2185,2970 2197.5,2965 2205,2945 2215,2942.5 2225,2960 2226,3001.5" fill="#a3a3a3" fill-opacity="0.88"/>
<path d="M235 2178v12M235 3001v-12" stroke="#aaa" stroke-width="2"/>
<path d="M510.4 2178v12M510.4 3001v-12" stroke="#aaa" stroke-width="2"/>
<path d="M648.1 2178v12M648.1 3001v-12" stroke="#aaa" stroke-width="2"/>
<path d="M923.5 2178v12M923.5 3001v-12" stroke="#aaa" stroke-width="2"/>
<path d="M1061.2 2178v12M1061.2 3001v-12" stroke="#aaa" stroke-width="2"/>
<path d="M1336.6 2178v12M1336.6 3001v-12" stroke="#aaa" stroke-width="2"/>
<path d="M1474.3 2178v12M1474.3 3001v-12" stroke="#aaa" stroke-width="2"/>
<path d="M1749.7 2178v12M1749.7 3001v-12" stroke="#aaa" stroke-width="2"/>
<path d="M1887.4 2178v12M1887.4 3001v-12" stroke="#aaa" stroke-width="2"/>
<path d="M2162.8 2178v12M2162.8 3001v-12" stroke="#aaa" stroke-width="2"/>
<path d="M372.7 2178v26M372.7 3001v-26" stroke="#4a4a4a" stroke-width="2.5"/>
<path d="M785.8 2178v26M785.8 3001v-26" stroke="#4a4a4a" stroke-width="2.5"/>
<path d="M1198.9 2178v26M1198.9 3001v-26" stroke="#4a4a4a" stroke-width="2.5"/>
<path d="M1612 2178v26M1612 3001v-26" stroke="#4a4a4a" stroke-width="2.5"/>
<path d="M2025.1 2178v26M2025.1 3001v-26" stroke="#4a4a4a" stroke-width="2.5"/>
<path d="M175 2241h26M2226 2241h-26" stroke="#aaa" stroke-width="2"/>
<path d="M175 2405h26M2226 2405h-26" stroke="#aaa" stroke-width="2"/>
<path d="M175 2568h26M2226 2568h-26" stroke="#aaa" stroke-width="2"/>
<path d="M175 2730h26M2226 2730h-26" stroke="#aaa" stroke-width="2"/>
<path d="M175 2893h26M2226 2893h-26" stroke="#aaa" stroke-width="2"/>
<path d="M175 2322.9h36M2226 2322.9h-36" stroke="#4a4a4a" stroke-width="2.5"/>
<path d="M175 2487h36M2226 2487h-36" stroke="#4a4a4a" stroke-width="2.5"/>
<path d="M175 2649h36M2226 2649h-36" stroke="#4a4a4a" stroke-width="2.5"/>
<path d="M175 2811h36M2226 2811h-36" stroke="#4a4a4a" stroke-width="2.5"/>
<path d="M175 2975h36M2226 2975h-36" stroke="#4a4a4a" stroke-width="2.5"/>
<rect x="175" y="2178" width="2051" height="823" fill="none" stroke="#4a4a4a" stroke-width="3.2"/>
<text transform="translate(137 2322.9) rotate(-90)" font-size="43" text-anchor="middle" fill="#444" stroke="#444" stroke-width="0.4" textLength="56" lengthAdjust="spacingAndGlyphs">200</text>
<text transform="translate(137 2487) rotate(-90)" font-size="43" text-anchor="middle" fill="#444" stroke="#444" stroke-width="0.4" textLength="56" lengthAdjust="spacingAndGlyphs">400</text>
<text transform="translate(137 2649) rotate(-90)" font-size="43" text-anchor="middle" fill="#444" stroke="#444" stroke-width="0.4" textLength="56" lengthAdjust="spacingAndGlyphs">600</text>
<text transform="translate(137 2811) rotate(-90)" font-size="43" text-anchor="middle" fill="#444" stroke="#444" stroke-width="0.4" textLength="56" lengthAdjust="spacingAndGlyphs">800</text>
<text transform="translate(137 2975) rotate(-90)" font-size="43" text-anchor="middle" fill="#444" stroke="#444" stroke-width="0.4" textLength="75" lengthAdjust="spacingAndGlyphs">1000</text>
<text transform="translate(75 2669) rotate(-90)" font-size="47" text-anchor="middle" fill="#222" textLength="312" lengthAdjust="spacingAndGlyphs">Pressure (hPa)</text>
<text x="373.7" y="3067.5" font-size="33" text-anchor="middle" fill="#444" stroke="#444" stroke-width="0.5" textLength="104" lengthAdjust="spacingAndGlyphs">30°W</text>
<text x="787" y="3067.5" font-size="33" text-anchor="middle" fill="#444" stroke="#444" stroke-width="0.5" textLength="36" lengthAdjust="spacingAndGlyphs">0°</text>
<text x="1200" y="3067.5" font-size="33" text-anchor="middle" fill="#444" stroke="#444" stroke-width="0.5" textLength="89" lengthAdjust="spacingAndGlyphs">30°E</text>
<text x="1613" y="3067.5" font-size="33" text-anchor="middle" fill="#444" stroke="#444" stroke-width="0.5" textLength="89" lengthAdjust="spacingAndGlyphs">60°E</text>
<text x="2027.5" y="3067.5" font-size="33" text-anchor="middle" fill="#444" stroke="#444" stroke-width="0.5" textLength="90" lengthAdjust="spacingAndGlyphs">90°E</text>
<text x="1200" y="3109" font-size="40" text-anchor="middle" fill="#333" stroke="#333" stroke-width="0.7" textLength="70" lengthAdjust="spacingAndGlyphs">lon</text>
<text x="240" y="3035" font-size="43" fill="#111" textLength="150" lengthAdjust="spacingAndGlyphs">Atlantic</text>
<text x="720" y="3035" font-size="43" fill="#111" textLength="105" lengthAdjust="spacingAndGlyphs">Sahel</text>
<text x="1296" y="3035" font-size="43" fill="#111" textLength="193" lengthAdjust="spacingAndGlyphs">Highlands</text>
<text x="1859" y="3035" font-size="43" fill="#111" textLength="93.5" lengthAdjust="spacingAndGlyphs">India</text>
<text x="2162.5" y="3035" font-size="43" fill="#111" textLength="65" lengthAdjust="spacingAndGlyphs">MC</text>
<text x="867" y="2573.7" font-size="42" fill="#1a2440" stroke="#e8f8ee" stroke-width="0.8" paint-order="stroke" textLength="318" lengthAdjust="spacingAndGlyphs">moist convection</text>
<rect x="2253" y="2290" width="28" height="629" fill="url(#cbc)"/>
<text x="2291" y="2328.2" font-size="43" fill="#0a0a1a">15</text>
<text x="2291" y="2426.5" font-size="43" fill="#0a0a1a">10</text>
<text x="2291" y="2524.5" font-size="43" fill="#0a0a1a">5</text>
<text x="2291" y="2622.1" font-size="43" fill="#0a0a1a">0</text>
<text x="2290" y="2721.1" font-size="43" fill="#0a0a1a">-5</text>
<text x="2290" y="2820.1" font-size="43" fill="#0a0a1a">-10</text>
<text x="2290" y="2918.2" font-size="43" fill="#0a0a1a">-15</text>
<text x="2302" y="2962" font-size="41" fill="#0a0a1a">%</text>
<text x="268" y="2258" class="pl" font-size="108" fill="#000">c</text></g>
<g id="panel_d"><clipPath id="cd"><rect x="212" y="3191" width="1984.5" height="749.6999999999998"/></clipPath>
<g clip-path="url(#cd)"><rect x="212" y="3191" width="1984.5" height="749.6999999999998" fill="#fde2b9"/><path d="M212 3191l119 0l2 4l7 5l146 69l53 40l35 40l18 41l3 19l1 30l-10 44l-4 10l-25 34l-32 20l-9 4l-58 12l-56 -2l-48 -12l-12 -5l-40 -29l-26 -24l-38 -39l-18 -10l-8 -2l0 -249ZM2120 3209l76 -1l0 417l-36 5l-31 15l-42 14l-37 7l-34 2l-8 -7l-16 -27l-4 -14l-4 -21l-10 -21l-8 -53l-8 -68l-26 -63l-9 -33l-1 -40l4 -36l17 -34l22 -18l9 -5l38 -12l42 -4l66 -3ZM1242 3535l38 0l18 6l24 10l22 14l9 8l21 21l18 26l9 33l4 40l-13 78l-12 26l-14 18l-24 12l-32 0l-8 -1l-36 -13l-28 -14l-26 -16l-26 -13l-8 -2l-30 0l-8 1l-28 11l-39 19l-36 14l-39 8l-8 -2l-24 -8l-11 -8l-15 -13l-16 -25l-16 -35l-2 -29l2 -10l2 -4l37 -16l73 -25l50 -27l95 -58l35 -14l42 -12Z" fill="#fffe00"/><path d="M212 3191l113 0l3 6l8 5l148 69l54 40l34 40l17 40l3 20l1 28l-11 44l-4 9l-24 31l-22 14l-18 9l-56 11l-54 -1l-47 -11l-13 -5l-38 -27l-28 -24l-38 -39l-18 -10l-10 -3l0 -246ZM2114 3211l14 -2l68 1l0 397l-42 6l-34 10l-38 8l-32 3l-18 0l-8 -4l-13 -11l-16 -28l-11 -13l-4 -9l-10 -44l-11 -70l-25 -60l-10 -36l-1 -38l4 -34l3 -8l13 -26l22 -18l9 -6l34 -10l20 -3l58 -5l28 0ZM1240 3539l38 -1l16 5l26 10l24 16l8 7l20 20l18 25l8 32l4 34l0 8l-14 76l-12 25l-12 15l-16 8l-8 3l-28 0l-10 -1l-35 -12l-25 -12l-28 -17l-26 -13l-8 -2l-40 0l-71 28l-29 8l-18 3l-20 0l-10 -2l-19 -9l-19 -16l-15 -22l-13 -28l-4 -22l0 -4l4 -5l28 -17l26 -12l38 -15l22 -12l32 -18l92 -57l40 -16l36 -10Z" fill="#fff700"/><path d="M212 3191l102 0l2 8l8 7l60 25l94 42l13 8l43 32l21 24l13 17l16 37l2 20l1 28l-12 40l-4 8l-23 28l-10 7l-28 14l-54 11l-52 -2l-46 -10l-10 -4l-40 -27l-28 -24l-38 -37l-20 -11l-10 -3l0 -238ZM2124 3211l72 0l0 373l-52 8l-42 9l-32 3l-20 1l-8 -3l-10 -6l-31 -25l-9 -14l-9 -20l-11 -36l-9 -46l-27 -61l-10 -34l-1 -37l4 -36l5 -13l12 -21l21 -18l9 -5l34 -10l18 -3l96 -6ZM1250 3545l30 1l30 10l10 5l23 14l19 18l12 14l12 18l8 30l4 38l-8 40l-8 34l-12 22l-13 14l-13 6l-8 3l-24 0l-10 -1l-26 -8l-14 -5l-16 -7l-26 -15l-26 -12l-14 -5l-42 0l-72 20l-42 5l-18 -2l-10 -3l-13 -8l-12 -12l-16 -26l-5 -10l-1 -6l1 -4l5 -6l15 -14l18 -12l38 -21l140 -88l40 -16l34 -10l10 -1Z" fill="#fff100"/><path d="M212 3191l82 0l1 4l6 10l13 10l66 25l92 39l14 8l43 32l19 22l14 18l13 34l2 18l0 26l-9 30l-6 13l-18 21l-10 9l-28 14l-48 9l-14 1l-38 -2l-42 -8l-12 -5l-37 -24l-27 -22l-42 -40l-20 -11l-14 -4l0 -227ZM2126 3213l70 1l0 346l-96 15l-36 2l-18 -7l-26 -13l-17 -18l-13 -20l-8 -20l-14 -46l-28 -60l-10 -31l-2 -11l0 -26l3 -36l3 -8l13 -26l19 -16l10 -6l34 -11l20 -3l96 -6ZM1246 3556l32 0l28 9l28 15l26 23l16 20l4 8l6 24l3 16l1 18l-2 12l-6 30l-9 30l-12 20l-12 12l-15 6l-18 1l-10 -1l-22 -5l-30 -11l-58 -28l-14 -4l-46 -3l-58 11l-30 2l-24 -2l-16 -4l-10 -6l-7 -8l-4 -8l0 -6l5 -12l8 -12l15 -14l30 -24l51 -37l48 -31l32 -19l32 -13l24 -6l14 -3Z" fill="#ffe600"/><path d="M212 3191l46 0l3 4l25 20l14 9l14 6l60 18l82 33l24 12l41 30l19 22l13 16l9 24l4 14l2 14l-2 24l-10 28l-7 12l-21 21l-24 13l-12 3l-32 6l-16 1l-38 -1l-30 -6l-16 -5l-34 -20l-32 -25l-42 -40l-22 -13l-18 -6l0 -214ZM2088 3217l42 -1l66 1l0 322l-60 10l-42 5l-18 0l-26 -6l-20 -10l-20 -17l-14 -20l-10 -20l-12 -32l-24 -45l-13 -33l-5 -22l-1 -24l2 -24l3 -16l13 -26l19 -17l10 -7l32 -10l20 -3l58 -5ZM1242 3567l12 -2l20 1l26 7l10 4l21 12l17 14l12 14l12 16l6 22l2 15l1 19l-1 8l-8 34l-9 24l-10 16l-11 11l-10 4l-16 2l-30 -6l-30 -10l-58 -27l-16 -4l-44 -4l-52 4l-22 0l-24 -5l-9 -3l-4 -4l-1 -6l4 -12l17 -24l23 -23l31 -25l47 -33l28 -17l38 -15l28 -7Z" fill="#ffdb00"/><path d="M212 3217l22 0l12 3l46 17l74 20l52 18l54 23l39 29l22 24l11 14l9 24l3 12l1 14l-2 22l-8 20l-7 12l-14 14l-8 6l-22 11l-16 4l-24 4l-16 0l-32 -1l-34 -6l-12 -5l-33 -19l-29 -23l-32 -31l-14 -12l-20 -12l-22 -8l0 -174ZM2126 3219l70 2l0 300l-64 11l-38 3l-14 0l-26 -6l-22 -11l-20 -17l-15 -20l-16 -34l-25 -43l-15 -35l-4 -14l-1 -10l-1 -20l2 -26l3 -14l12 -24l18 -16l10 -7l32 -10l18 -3l96 -6ZM1246 3577l16 -1l12 1l23 6l11 5l18 10l16 13l11 12l10 14l5 16l3 16l0 26l-9 32l-8 19l-7 11l-13 14l-6 3l-10 1l-26 -3l-32 -10l-58 -26l-14 -4l-46 -7l-54 -3l-18 -3l-7 -4l-1 -6l3 -8l14 -22l21 -22l26 -22l28 -20l28 -17l36 -14l28 -7Z" fill="#ffd000"/><path d="M2122 3223l74 2l0 279l-60 11l-34 3l-14 0l-28 -6l-24 -11l-22 -17l-14 -19l-38 -62l-9 -18l-7 -17l-4 -13l-1 -12l-1 -18l1 -24l3 -14l10 -22l18 -17l10 -6l30 -10l20 -4l58 -4l32 -1ZM212 3248l30 -2l16 1l68 12l34 8l58 19l34 13l22 12l36 28l18 22l10 16l6 22l2 16l-4 22l-12 23l-17 17l-19 10l-16 4l-30 5l-38 -1l-30 -6l-12 -4l-30 -17l-32 -24l-31 -31l-15 -12l-20 -15l-22 -12l-6 -1l0 -125ZM1252 3587l14 0l10 1l20 6l18 9l24 19l11 13l5 8l6 28l0 24l-7 22l-7 18l-9 14l-11 11l-10 2l-32 -5l-22 -6l-60 -26l-20 -5l-78 -16l-6 -2l-4 -2l0 -5l2 -6l18 -24l18 -18l28 -22l22 -14l11 -6l31 -12l28 -6Z" fill="#ffc500"/><path d="M2090 3227l44 -1l62 3l0 259l-58 12l-26 3l-16 0l-30 -6l-24 -9l-18 -13l-18 -19l-34 -48l-14 -25l-6 -14l-6 -22l-2 -22l1 -22l3 -14l10 -22l17 -16l9 -6l28 -10l20 -3l58 -5ZM236 3271l40 -2l36 2l46 8l54 16l32 12l24 12l34 27l17 21l7 13l6 21l1 14l-5 20l-8 16l-6 7l-10 9l-14 7l-16 5l-26 4l-36 -1l-28 -5l-23 -10l-15 -8l-34 -26l-46 -45l-35 -27l-15 -14l-4 -1l0 -69l24 -6ZM1252 3599l20 1l18 4l16 8l23 17l14 18l3 10l3 14l-1 22l-7 20l-7 14l-9 14l-7 6l-6 1l-10 0l-30 -7l-62 -26l-76 -22l-6 -3l-4 -3l0 -4l3 -6l13 -16l21 -20l22 -16l13 -8l20 -8l16 -6l20 -4Z" fill="#ffbc00"/><path d="M2090 3231l42 -1l64 4l0 239l-46 11l-36 4l-32 -2l-28 -8l-24 -14l-18 -17l-30 -36l-10 -16l-11 -20l-9 -24l-3 -28l3 -30l7 -18l5 -8l20 -17l28 -10l22 -4l56 -5ZM270 3289l42 -2l44 5l50 13l32 12l22 11l32 25l15 20l6 10l3 10l2 20l-3 16l-5 10l-8 11l-13 9l-17 6l-22 4l-36 0l-22 -4l-12 -4l-22 -11l-26 -17l-16 -14l-68 -72l-10 -14l-6 -18l-1 -8l2 -6l5 -4l8 -3l24 -5ZM1248 3613l10 -2l8 1l16 4l12 4l10 6l12 9l14 17l5 19l-1 20l-10 24l-9 12l-5 5l-4 1l-8 0l-28 -7l-54 -23l-49 -18l-9 -4l-3 -4l1 -6l11 -14l27 -23l28 -13l26 -8Z" fill="#ffb300"/><path d="M2056 3237l76 -3l64 5l0 220l-44 11l-32 4l-34 -2l-28 -7l-22 -11l-18 -15l-28 -30l-12 -17l-11 -19l-9 -22l-3 -28l2 -28l7 -18l5 -8l17 -15l28 -10l42 -7ZM312 3305l36 1l46 10l36 12l26 13l26 22l16 26l2 10l0 18l-2 9l-5 9l-10 10l-17 7l-22 3l-30 0l-18 -3l-10 -4l-18 -8l-22 -15l-21 -18l-31 -36l-18 -26l-9 -22l0 -6l5 -4l18 -5l22 -3ZM1256 3627l18 2l16 7l15 11l10 12l3 12l-2 18l-7 16l-9 10l-6 0l-12 -2l-33 -12l-48 -22l-10 -6l-3 -4l0 -4l4 -6l17 -14l25 -12l22 -6Z" fill="#ffaa00"/><path d="M2090 3239l56 0l50 5l0 200l-36 10l-24 5l-26 2l-24 -2l-26 -7l-22 -11l-28 -23l-19 -21l-17 -24l-10 -22l-3 -26l0 -26l7 -19l6 -9l14 -12l18 -8l24 -6l26 -3l34 -3ZM326 3325l28 0l36 6l32 10l24 12l23 22l9 20l2 8l0 6l-2 12l-4 8l-8 6l-12 3l-14 2l-30 -1l-12 -3l-14 -6l-28 -17l-16 -14l-15 -18l-15 -22l-8 -16l-2 -8l2 -5l8 -3l16 -2ZM1250 3649l8 -2l10 2l10 5l9 7l5 6l2 6l-1 10l-3 6l-4 2l-4 0l-21 -8l-16 -8l-13 -10l-1 -2l1 -4l6 -4l12 -6Z" fill="#ffa100"/><path d="M2080 3245l52 -2l64 8l0 179l-40 12l-26 5l-32 0l-28 -5l-24 -10l-26 -18l-20 -19l-18 -24l-11 -22l-4 -26l0 -24l10 -22l15 -14l22 -9l20 -5l46 -4ZM342 3351l18 -1l24 2l28 9l16 8l12 10l8 14l2 12l-3 12l-3 3l-6 1l-24 0l-14 -4l-16 -8l-20 -14l-15 -16l-9 -14l-3 -8l1 -4l4 -2Z" fill="#ff9900"/><path d="M2088 3249l48 0l60 9l0 158l-36 12l-26 5l-30 2l-28 -4l-24 -9l-25 -15l-21 -18l-18 -22l-10 -20l-4 -24l0 -22l4 -14l5 -8l11 -10l24 -11l14 -3l24 -4l32 -2Z" fill="#ff9000"/><path d="M2086 3255l50 0l28 4l32 7l0 134l-34 14l-22 5l-28 3l-28 -2l-22 -6l-26 -13l-20 -15l-19 -21l-10 -18l-6 -24l0 -20l4 -12l4 -8l11 -10l24 -10l32 -6l30 -2Z" fill="#ff8700"/><path d="M2090 3261l38 0l14 2l24 5l30 9l0 105l-30 15l-22 8l-26 4l-24 -1l-24 -5l-24 -9l-20 -13l-18 -18l-12 -18l-6 -22l-1 -20l3 -10l4 -6l6 -6l8 -4l20 -8l28 -5l32 -3Z" fill="#ff7d00"/><path d="M2084 3269l42 0l16 2l27 8l27 13l0 69l-4 1l-20 15l-18 9l-20 7l-20 3l-22 -1l-24 -5l-21 -9l-19 -13l-17 -17l-9 -18l-3 -10l-1 -12l1 -8l3 -8l9 -8l19 -10l28 -6l26 -2Z" fill="#ff7300"/><path d="M2058 3281l36 -4l36 3l20 5l17 8l12 10l7 12l1 14l-6 14l-11 13l-15 11l-19 9l-20 5l-18 1l-18 -3l-18 -5l-17 -9l-18 -14l-10 -12l-7 -18l-1 -8l2 -8l9 -10l12 -7l26 -7Z" fill="#ff6900"/><path d="M2058 3294l36 -4l30 3l8 2l12 6l9 8l5 8l1 10l-4 10l-9 10l-11 8l-13 5l-18 5l-12 1l-12 -2l-14 -4l-14 -7l-14 -10l-7 -8l-6 -12l1 -8l6 -9l9 -5l17 -7Z" fill="#ff5f00"/><path d="M2084 3315l8 -1l10 3l5 6l-1 6l-6 5l-10 2l-8 -1l-8 -4l-3 -4l0 -4l13 -8Z" fill="#ff5500"/><path d="M456 3191l1413 0l9 24l4 26l-5 32l-27 114l10 100l7 50l2 34l0 34l-5 48l-10 71l-6 30l-6 21l-10 21l-16 13l-22 4l-23 -6l-15 -24l-29 -74l-21 -42l-18 -28l-6 -7l-18 -14l-6 -2l-12 0l-30 8l-14 10l-5 5l-8 32l-15 80l-4 10l-14 27l-22 15l-18 6l-8 0l-10 -5l-4 -6l-12 -36l-8 -36l-6 -45l2 -30l4 -21l7 -25l0 -8l-9 -11l-15 -29l-24 -20l-21 -28l-59 -106l-15 -18l-20 -7l-10 -1l-24 2l-18 3l-26 7l-30 19l-28 25l-25 18l-34 16l-15 4l-62 11l-84 3l-42 4l-43 14l-63 17l-32 2l-22 -7l-18 -14l-6 -7l-74 -110l-40 -69l-24 -30l-36 -27l-97 -59l-8 -6l-1 -2Z" fill="#3af08d"/><path d="M460 3191l1407 0l1 6l8 18l4 26l-4 30l-27 108l-1 8l9 100l7 52l2 32l-1 30l-5 50l-12 72l-6 30l-6 20l-9 18l-14 12l-19 3l-12 -2l-6 -3l-14 -20l-29 -72l-24 -46l-17 -26l-6 -7l-20 -15l-8 -3l-14 0l-30 8l-16 11l-5 6l-9 32l-16 80l-4 10l-12 23l-8 7l-16 9l-16 4l-9 -3l-5 -8l-10 -31l-8 -35l-7 -46l3 -38l10 -38l-1 -8l-11 -12l-14 -28l-25 -20l-19 -26l-55 -98l-12 -18l-11 -11l-20 -6l-12 -1l-24 2l-16 3l-26 6l-32 21l-28 24l-24 17l-17 9l-26 10l-27 6l-40 6l-84 3l-44 4l-44 15l-60 16l-30 2l-21 -6l-19 -14l-6 -7l-76 -113l-37 -64l-25 -31l-38 -29l-94 -56l-5 -4l-3 -4Z" fill="#2af292"/><path d="M467 3191l1396 0l2 8l8 18l3 22l-4 34l-28 112l6 104l5 50l-1 40l-2 22l-9 48l-19 80l-9 30l-6 14l-5 6l-8 2l-6 -3l-7 -11l-14 -32l-16 -34l-26 -44l-23 -30l-10 -9l-22 -15l-10 -3l-18 -1l-22 4l-14 5l-20 12l-7 7l-6 12l-9 26l-22 80l-12 22l-8 5l-4 0l-2 -1l-4 -7l-6 -19l-8 -32l-7 -36l0 -34l7 -38l-1 -8l-2 -6l-13 -15l-16 -27l-26 -20l-20 -25l-63 -107l-15 -18l-14 -5l-16 -4l-10 0l-38 5l-28 7l-32 19l-30 26l-24 16l-32 15l-14 4l-24 5l-40 6l-82 2l-44 5l-42 13l-62 16l-26 2l-20 -5l-16 -12l-6 -7l-76 -108l-40 -66l-26 -32l-38 -29l-92 -55l-5 -4l0 -2Z" fill="#19f398"/><path d="M477 3191l1380 0l1 8l10 22l2 20l-4 36l-28 108l2 156l-4 34l-6 24l-12 30l-10 20l-12 21l-6 5l-8 -5l-54 -53l-14 -11l-34 -20l-20 -4l-20 0l-32 6l-12 4l-18 9l-10 6l-9 8l-23 34l-4 3l-2 0l-2 -7l-6 -44l-9 -20l-16 -16l-19 -26l-28 -20l-18 -21l-36 -57l-23 -40l-19 -24l-6 -5l-6 -3l-28 -6l-12 0l-36 4l-34 9l-31 19l-30 24l-23 16l-39 16l-27 6l-40 6l-82 2l-44 4l-46 14l-56 14l-24 3l-12 -2l-10 -5l-16 -14l-79 -106l-23 -34l-18 -30l-26 -32l-38 -29l-81 -47l-8 -6l-2 -4Z" fill="#08f49d"/><path d="M488 3191l1361 0l2 10l10 22l3 20l-2 26l-6 26l-25 90l-6 94l-8 60l-5 13l-12 22l-14 14l-6 5l-6 2l-10 -3l-72 -29l-30 -5l-22 0l-40 6l-14 3l-28 9l-8 0l-10 -9l-22 -15l-27 -27l-29 -18l-14 -15l-28 -39l-38 -58l-22 -26l-7 -6l-7 -3l-30 -6l-14 0l-36 5l-36 9l-34 19l-32 24l-22 13l-38 16l-62 10l-82 2l-44 4l-14 2l-40 12l-50 12l-20 2l-10 -1l-10 -5l-8 -7l-82 -100l-26 -35l-20 -31l-26 -33l-36 -27l-72 -42l-12 -8l-2 -4Z" fill="#00f4a5"/><path d="M500 3191l1341 0l3 14l10 22l2 12l0 16l-2 20l-8 36l-11 38l-12 36l-5 34l-10 42l-6 19l-8 19l-9 14l-9 10l-14 10l-12 4l-46 -8l-46 -3l-20 0l-74 5l-14 -5l-42 -23l-24 -12l-14 -10l-33 -38l-43 -58l-28 -28l-16 -8l-32 -5l-14 0l-38 5l-40 10l-36 18l-36 24l-18 10l-40 14l-54 8l-82 2l-46 4l-20 3l-40 10l-46 10l-18 0l-6 -3l-6 -5l-90 -91l-24 -29l-22 -33l-28 -35l-38 -28l-68 -39l-7 -6l-1 -2Z" fill="#00f0ae"/><path d="M514 3191l1317 0l5 16l10 24l2 10l0 16l-3 28l-8 34l-9 29l-14 35l-11 34l-12 24l-17 21l-12 10l-12 6l-16 6l-14 3l-126 -3l-14 -1l-20 -5l-42 -14l-14 -6l-20 -13l-20 -17l-28 -28l-25 -27l-31 -27l-20 -10l-38 -5l-16 1l-26 3l-56 13l-38 17l-48 26l-20 8l-30 8l-48 5l-126 5l-32 3l-46 7l-34 2l-18 -9l-36 -24l-28 -20l-22 -18l-28 -29l-38 -54l-16 -18l-35 -24l-57 -32l-9 -6l-1 -4Z" fill="#00eeb7"/><path d="M528 3191l1291 0l7 20l12 24l1 16l0 14l-5 38l-13 40l-28 58l-13 18l-10 9l-12 8l-24 10l-36 7l-34 0l-38 -3l-30 -5l-38 -10l-26 -10l-26 -13l-22 -15l-52 -44l-32 -23l-24 -11l-16 -3l-50 0l-64 14l-34 10l-84 35l-20 6l-30 6l-40 4l-188 8l-30 1l-12 -2l-26 -8l-26 -10l-24 -12l-22 -14l-14 -11l-20 -20l-38 -55l-13 -15l-26 -18l-62 -34l-8 -6l-1 -4Z" fill="#00eac0"/><path d="M542 3191l1262 0l2 6l21 40l3 18l0 16l-5 32l-11 34l-14 28l-16 22l-14 15l-18 12l-22 8l-26 5l-36 1l-42 -4l-36 -8l-34 -12l-28 -15l-26 -18l-76 -70l-18 -8l-22 -5l-28 2l-52 9l-94 27l-50 19l-38 13l-46 10l-38 4l-116 9l-50 2l-50 -1l-30 -4l-30 -9l-28 -11l-22 -13l-18 -14l-13 -14l-11 -14l-25 -40l-13 -15l-26 -17l-53 -28l-11 -8l-2 -4Z" fill="#00e7c9"/><path d="M557 3191l1229 0l1 4l28 46l4 18l0 22l-4 26l-9 26l-12 21l-14 18l-18 16l-18 10l-20 7l-26 4l-38 0l-38 -6l-36 -10l-32 -16l-16 -10l-15 -12l-24 -26l-15 -24l-11 -32l-5 -8l-6 -5l-8 -3l-24 -3l-24 0l-22 2l-28 5l-24 6l-22 7l-57 23l-95 34l-32 10l-28 7l-54 9l-100 11l-60 4l-56 0l-30 -4l-32 -8l-26 -10l-22 -13l-16 -12l-13 -14l-10 -14l-19 -36l-13 -16l-18 -12l-61 -31l-9 -7l-2 -4Z" fill="#00e1cf"/><path d="M572 3191l1191 0l1 4l18 20l19 28l6 20l1 24l-4 20l-8 22l-10 17l-14 16l-16 12l-18 9l-20 7l-24 3l-34 0l-36 -6l-32 -11l-27 -15l-13 -10l-13 -12l-10 -12l-7 -12l-7 -20l-1 -32l-4 -10l-7 -6l-11 -4l-32 -4l-36 1l-39 3l-42 6l-39 8l-30 10l-54 24l-64 26l-40 12l-36 8l-88 16l-66 8l-50 4l-48 -1l-30 -5l-30 -7l-24 -9l-20 -11l-16 -13l-12 -14l-9 -14l-14 -32l-10 -14l-17 -12l-64 -32l-8 -6l-2 -4Z" fill="#00dad6"/><path d="M588 3191l1144 0l2 4l14 10l13 12l25 30l5 10l3 12l1 22l-5 22l-10 20l-14 17l-18 13l-22 10l-24 5l-26 1l-28 -3l-28 -7l-24 -10l-22 -14l-16 -16l-9 -14l-5 -14l-1 -16l4 -32l-2 -8l-6 -6l-16 -6l-21 -3l-30 -1l-40 2l-94 10l-36 6l-29 6l-38 12l-70 32l-37 14l-44 12l-86 19l-50 9l-40 5l-40 2l-38 -1l-30 -4l-28 -7l-22 -8l-20 -11l-17 -14l-10 -14l-6 -12l-10 -32l-9 -12l-21 -14l-57 -26l-11 -8l-1 -4Z" fill="#00d4dc"/><path d="M602 3191l1086 0l3 4l24 12l19 12l18 15l14 13l7 10l5 12l3 12l0 12l-4 18l-9 16l-14 15l-16 11l-20 8l-22 4l-24 0l-26 -4l-24 -7l-20 -10l-16 -13l-12 -16l-5 -12l-1 -12l2 -14l11 -32l-1 -8l-5 -6l-14 -6l-23 -4l-30 0l-40 1l-115 11l-47 6l-47 8l-35 8l-25 8l-63 28l-38 14l-110 31l-42 9l-40 5l-38 3l-38 -1l-28 -4l-26 -7l-22 -8l-18 -11l-15 -13l-10 -14l-5 -14l-4 -26l-7 -12l-7 -6l-14 -8l-60 -27l-8 -5l-4 -6Z" fill="#00cde3"/><path d="M616 3191l1003 0l6 12l-3 3l-10 2l-102 5l-146 14l-82 10l-61 10l-36 8l-20 6l-88 36l-62 22l-39 12l-30 8l-30 5l-30 3l-30 1l-30 -2l-32 -5l-26 -9l-22 -11l-16 -14l-9 -14l-4 -14l0 -26l-2 -6l-4 -6l-7 -6l-11 -6l-63 -26l-10 -6l-4 -6ZM1650 3219l12 0l14 2l32 9l26 13l11 8l8 8l5 8l5 10l1 8l0 10l-2 10l-4 9l-6 9l-8 8l-14 9l-18 7l-20 4l-20 0l-22 -4l-18 -6l-17 -10l-13 -12l-6 -10l-4 -12l1 -12l4 -12l11 -17l24 -27l8 -7l10 -3Z" fill="#00c6e9"/><path d="M630 3191l2 0l930 0l-2 4l-9 4l-29 6l-244 28l-71 10l-44 8l-32 8l-29 10l-92 42l-43 16l-25 7l-28 5l-26 3l-28 1l-30 -1l-30 -5l-26 -8l-20 -10l-16 -14l-8 -14l-2 -14l4 -26l-1 -6l-4 -6l-8 -6l-12 -6l-65 -25l-11 -7l-1 -4ZM1680 3249l20 2l18 6l14 10l9 12l3 12l-3 14l-9 12l-14 10l-12 5l-14 2l-14 1l-16 -3l-14 -4l-12 -7l-9 -8l-5 -8l-3 -10l1 -10l4 -8l8 -10l10 -7l12 -6l12 -4l14 -1Z" fill="#00bdf0"/><path d="M643 3191l3 0l882 0l-3 4l-11 4l-38 7l-263 31l-55 8l-53 10l-24 6l-21 8l-59 36l-21 10l-21 8l-23 7l-26 5l-26 3l-26 1l-28 -1l-28 -5l-24 -8l-18 -10l-15 -14l-6 -14l0 -14l8 -24l-1 -6l-2 -4l-7 -6l-12 -6l-71 -26l-9 -6l-2 -4ZM1680 3277l14 1l7 3l5 4l2 4l1 6l-4 8l-9 5l-12 2l-12 -1l-10 -6l-4 -8l2 -8l8 -7l12 -3Z" fill="#00b3f7"/><path d="M656 3191l2 0l846 0l-4 4l-12 4l-46 9l-280 31l-58 8l-42 7l-18 5l-14 7l-39 33l-16 10l-18 8l-23 8l-24 5l-26 4l-26 1l-26 -1l-26 -5l-22 -7l-18 -10l-13 -13l-3 -6l-2 -8l3 -14l12 -24l-1 -6l-2 -4l-9 -6l-13 -6l-71 -24l-10 -6l-1 -4Z" fill="#00aafe"/><path d="M668 3191l2 0l814 0l-4 4l-14 4l-58 10l-302 32l-73 10l-15 4l-12 6l-6 6l-10 16l-8 10l-13 10l-18 10l-21 8l-22 5l-24 4l-26 1l-26 -2l-24 -4l-20 -7l-16 -9l-11 -12l-2 -6l-1 -8l4 -12l16 -24l1 -6l-2 -4l-7 -6l-14 -6l-74 -23l-12 -7l-2 -4Z" fill="#0096fb"/><path d="M680 3191l2 0l785 0l-5 4l-18 5l-62 10l-94 10l-238 22l-48 6l-12 4l-8 5l-4 6l-4 16l-5 10l-9 10l-12 8l-18 8l-22 6l-24 5l-26 1l-28 -2l-26 -6l-18 -8l-8 -6l-6 -6l-4 -10l1 -10l7 -12l21 -22l0 -6l-5 -6l-24 -10l-70 -20l-13 -6l-5 -4l0 -2Z" fill="#0080f7"/><path d="M691 3191l3 0l758 0l-5 4l-22 6l-73 11l-134 12l-202 15l-42 6l-12 4l-5 4l-2 6l3 14l-1 10l-5 10l-12 10l-15 8l-21 7l-22 3l-24 2l-26 -2l-24 -6l-18 -9l-6 -5l-4 -6l-2 -10l3 -10l9 -10l27 -20l2 -6l-3 -4l-7 -4l-16 -6l-83 -22l-14 -6l-5 -4l0 -2Z" fill="#006bf2"/><path d="M702 3191l2 0l734 0l-5 4l-22 6l-83 11l-164 14l-183 11l-43 5l-9 3l-4 4l1 4l13 16l4 8l-1 10l-8 10l-12 8l-20 8l-20 4l-24 2l-26 -3l-22 -6l-15 -9l-5 -6l-2 -6l2 -10l6 -8l16 -11l32 -15l4 -4l-2 -4l-8 -4l-18 -6l-97 -24l-16 -6l-5 -4l0 -2Z" fill="#0051f0"/><path d="M716 3191l2 0l703 0l-1 2l-9 4l-31 6l-50 7l-70 6l-172 11l-168 5l-48 -2l-94 -18l-46 -11l-13 -6l-3 -4ZM852 3259l14 -2l14 1l12 2l12 4l9 5l7 6l3 6l-1 8l-6 8l-14 8l-16 4l-18 3l-20 0l-18 -3l-14 -5l-9 -7l-3 -4l-1 -6l2 -6l5 -6l18 -10l24 -6Z" fill="#0034f0"/><path d="M730 3191l2 0l674 0l-1 2l-10 4l-29 6l-108 11l-156 10l-142 3l-66 -2l-64 -7l-76 -15l-18 -6l-6 -4l0 -2ZM848 3271l20 -2l20 4l7 4l4 4l2 4l0 4l-5 6l-7 4l-11 3l-12 2l-24 -1l-12 -4l-6 -4l-3 -6l1 -4l3 -4l9 -6l14 -4Z" fill="#0017f0"/><path d="M742 3191l4 0l646 0l-1 2l-7 3l-26 5l-98 11l-136 9l-134 3l-82 -2l-66 -6l-40 -6l-34 -7l-18 -6l-7 -4l-1 -2Z" fill="#000bdd"/><path d="M755 3191l3 0l620 0l-5 4l-28 6l-87 10l-128 7l-122 3l-86 -2l-72 -5l-40 -6l-30 -6l-18 -5l-6 -4l-1 -2Z" fill="#0005c3"/><path d="M768 3191l2 0l596 0l-6 4l-26 5l-86 10l-114 6l-116 3l-86 -2l-74 -5l-40 -5l-28 -6l-19 -6l-3 -2l0 -2Z" fill="#0000a8"/><path d="M782 3191l4 0l564 0l-6 4l-20 4l-80 9l-108 6l-108 3l-92 -2l-70 -5l-62 -10l-18 -5l-4 -4Z" fill="#00008f"/><path d="M797 3191l3 0l535 0l-6 4l-20 4l-75 8l-98 6l-102 2l-90 -2l-70 -5l-58 -9l-15 -4l-3 -2l-1 -2Z" fill="#000073"/><path d="M812 3191l2 0l507 0l-7 4l-21 4l-65 7l-90 5l-98 2l-84 -2l-72 -4l-54 -8l-14 -4l-4 -2l0 -2Z" fill="#000041"/><path d="M826 3191l2 0l479 0l-8 4l-13 3l-64 7l-88 4l-88 2l-80 -1l-70 -5l-49 -6l-16 -4l-4 -2l-1 -2Z" fill="#000012"/><path d="M842 3191l4 0l444 0l-4 3l-14 3l-60 6l-80 5l-82 1l-76 -1l-66 -4l-52 -7l-12 -4l-2 -2Z" fill="#000009"/><path d="M860 3191l2 0l412 0l-4 2l-16 4l-52 5l-72 4l-76 1l-72 -1l-62 -3l-46 -6l-13 -4l-1 -2Z" fill="#000001"/></g>
<clipPath id="cd2"><rect x="182" y="3168.5" width="2025.5" height="794.5"/></clipPath>
<g clip-path="url(#cd2)"><path d="M228.6 3194L223.6 3194" stroke="#151515" stroke-width="2.3"/><path d="M286 3194L281 3194" stroke="#151515" stroke-width="2.3"/><path d="M343.4 3194L337.4 3194" stroke="#151515" stroke-width="2.3"/><path d="M400.8 3194L394.8 3194" stroke="#151515" stroke-width="2.3"/><path d="M458.2 3194L470.7 3194" stroke="#151515" stroke-width="2.3"/><path d="M515.6 3194L509.6 3194" stroke="#151515" stroke-width="2.3"/><path d="M573 3194L563 3194" stroke="#151515" stroke-width="2.3"/><path d="M630.4 3194L615.4 3194" stroke="#151515" stroke-width="2.3"/><path d="M687.8 3194L671.3 3194" stroke="#151515" stroke-width="2.3"/><path d="M655.3 3194L672.3 3188.2L672.3 3199.8Z" fill="#151515"/><path d="M745.2 3194L722.7 3194" stroke="#151515" stroke-width="2.3"/><path d="M706.7 3194L723.7 3188.2L723.7 3199.8Z" fill="#151515"/><path d="M802.6 3194L791.1 3194" stroke="#151515" stroke-width="2.3"/><path d="M775.1 3194L792.1 3188.2L792.1 3199.8Z" fill="#151515"/><path d="M860 3194L845 3194" stroke="#151515" stroke-width="2.3"/><path d="M917.4 3194L907.4 3194" stroke="#151515" stroke-width="2.3"/><path d="M974.8 3194L967.3 3194" stroke="#151515" stroke-width="2.3"/><path d="M1032.2 3194L1024.7 3194" stroke="#151515" stroke-width="2.3"/><path d="M1089.6 3194L1082.1 3194" stroke="#151515" stroke-width="2.3"/><path d="M1147 3194L1139.5 3194" stroke="#151515" stroke-width="2.3"/><path d="M1204.4 3194L1196.9 3194" stroke="#151515" stroke-width="2.3"/><path d="M1261.8 3194L1271.8 3194" stroke="#151515" stroke-width="2.3"/><path d="M1319.2 3194L1330.2 3194" stroke="#151515" stroke-width="2.3"/><path d="M1376.6 3194L1389.1 3194" stroke="#151515" stroke-width="2.3"/><path d="M1434 3194L1446.5 3194" stroke="#151515" stroke-width="2.3"/><path d="M1491.4 3194L1496.4 3194" stroke="#151515" stroke-width="2.3"/><path d="M1548.8 3194L1552.8 3194" stroke="#151515" stroke-width="2.3"/><path d="M1606.2 3194L1610.2 3194" stroke="#151515" stroke-width="2.3"/><path d="M1663.6 3194L1666.1 3194" stroke="#151515" stroke-width="2.3"/><path d="M1721 3194L1722.5 3194" stroke="#151515" stroke-width="2.3"/><path d="M1778.4 3194L1779.9 3194" stroke="#151515" stroke-width="2.3"/><path d="M1835.8 3194L1840.8 3195" stroke="#151515" stroke-width="2.3"/><path d="M1893.2 3194L1905.7 3195.5" stroke="#151515" stroke-width="2.3"/><path d="M1950.6 3194L1963.1 3195.5" stroke="#151515" stroke-width="2.3"/><path d="M2008 3194L2019 3195.5" stroke="#151515" stroke-width="2.3"/><path d="M2065.4 3194L2076.4 3195.5" stroke="#151515" stroke-width="2.3"/><path d="M2122.8 3194L2135.3 3195.5" stroke="#151515" stroke-width="2.3"/><path d="M2180.2 3194L2195.2 3195.5" stroke="#151515" stroke-width="2.3"/><path d="M228.6 3250.4L217.1 3250.4" stroke="#151515" stroke-width="2.3"/><path d="M201.1 3250.4L218.1 3244.7L218.1 3256.2Z" fill="#151515"/><path d="M286 3250.4L263 3250.4" stroke="#151515" stroke-width="2.3"/><path d="M247 3250.4L264 3244.7L264 3256.2Z" fill="#151515"/><path d="M343.4 3250.4L309.4 3250.4" stroke="#151515" stroke-width="2.3"/><path d="M293.4 3250.4L310.4 3244.7L310.4 3256.2Z" fill="#151515"/><path d="M400.8 3250.4L364.8 3250.4" stroke="#151515" stroke-width="2.3"/><path d="M348.8 3250.4L365.8 3244.7L365.8 3256.2Z" fill="#151515"/><path d="M458.2 3250.4L423.2 3250.4" stroke="#151515" stroke-width="2.3"/><path d="M407.2 3250.4L424.2 3244.7L424.2 3256.2Z" fill="#151515"/><path d="M515.6 3250.4L489.1 3250.4" stroke="#151515" stroke-width="2.3"/><path d="M473.1 3250.4L490.1 3244.7L490.1 3256.2Z" fill="#151515"/><path d="M573 3250.4L547.5 3251" stroke="#151515" stroke-width="2.3"/><path d="M531.5 3251.4L548.4 3245.2L548.6 3256.7Z" fill="#151515"/><path d="M630.4 3250.4L603.4 3251" stroke="#151515" stroke-width="2.3"/><path d="M587.4 3251.4L604.3 3245.3L604.5 3256.8Z" fill="#151515"/><path d="M687.8 3250.4L661.8 3251.3" stroke="#151515" stroke-width="2.3"/><path d="M645.8 3251.9L662.6 3245.5L663 3257Z" fill="#151515"/><path d="M745.2 3250.4L720.2 3251" stroke="#151515" stroke-width="2.3"/><path d="M704.2 3251.4L721.1 3245.2L721.3 3256.7Z" fill="#151515"/><path d="M802.6 3250.4L776.1 3250.4" stroke="#151515" stroke-width="2.3"/><path d="M760.1 3250.4L777.1 3244.7L777.1 3256.2Z" fill="#151515"/><path d="M860 3250.4L832 3250.4" stroke="#151515" stroke-width="2.3"/><path d="M816 3250.4L833 3244.7L833 3256.2Z" fill="#151515"/><path d="M917.4 3250.4L887.9 3250.4" stroke="#151515" stroke-width="2.3"/><path d="M871.9 3250.4L888.9 3244.7L888.9 3256.2Z" fill="#151515"/><path d="M974.8 3250.4L948.8 3250.4" stroke="#151515" stroke-width="2.3"/><path d="M932.8 3250.4L949.8 3244.7L949.8 3256.2Z" fill="#151515"/><path d="M1032.2 3250.4L1007.2 3250.4" stroke="#151515" stroke-width="2.3"/><path d="M991.2 3250.4L1008.2 3244.7L1008.2 3256.2Z" fill="#151515"/><path d="M1089.6 3250.4L1063.1 3250.4" stroke="#151515" stroke-width="2.3"/><path d="M1047.1 3250.4L1064.1 3244.7L1064.1 3256.2Z" fill="#151515"/><path d="M1147 3250.4L1121.5 3250.4" stroke="#151515" stroke-width="2.3"/><path d="M1105.5 3250.4L1122.5 3244.7L1122.5 3256.2Z" fill="#151515"/><path d="M1204.4 3250.4L1187.4 3250.4" stroke="#151515" stroke-width="2.3"/><path d="M1171.4 3250.4L1188.4 3244.7L1188.4 3256.2Z" fill="#151515"/><path d="M1261.8 3250.4L1253.3 3250.4" stroke="#151515" stroke-width="2.3"/><path d="M1237.3 3250.4L1254.3 3244.7L1254.3 3256.2Z" fill="#151515"/><path d="M1319.2 3250.4L1309.2 3250.4" stroke="#151515" stroke-width="2.3"/><path d="M1293.2 3250.4L1310.2 3244.7L1310.2 3256.2Z" fill="#151515"/><path d="M1376.6 3250.4L1369.9 3249.2" stroke="#151515" stroke-width="2.3"/><path d="M1354.1 3246.4L1371.8 3243.7L1369.8 3255Z" fill="#151515"/><path d="M1434 3250.4L1430.4 3248.3" stroke="#151515" stroke-width="2.3"/><path d="M1416.5 3240.4L1434.1 3243.8L1428.4 3253.8Z" fill="#151515"/><path d="M1491.4 3250.4L1490.3 3249.3" stroke="#151515" stroke-width="2.3"/><path d="M1483.9 3242.9L1493.8 3247.3L1488.3 3252.8Z" fill="#151515"/><path d="M1548.8 3250.4L1549.4 3249.1" stroke="#151515" stroke-width="2.3"/><path d="M1552.3 3242.9L1551.7 3251.3L1546.2 3248.7Z" fill="#151515"/><path d="M1606.2 3250.4L1609.7 3254.4" stroke="#151515" stroke-width="2.3"/><path d="M1663.6 3250.4L1663.6 3246.4" stroke="#151515" stroke-width="2.3"/><path d="M1721 3250.4L1721 3245.4" stroke="#151515" stroke-width="2.3"/><path d="M1778.4 3250.4L1780.3 3250.2" stroke="#151515" stroke-width="2.3"/><path d="M1795.9 3248.9L1779.8 3256.1L1778.8 3244.6Z" fill="#151515"/><path d="M1835.8 3250.4L1854.8 3251.2" stroke="#151515" stroke-width="2.3"/><path d="M1870.8 3251.9L1853.6 3256.9L1854.1 3245.4Z" fill="#151515"/><path d="M1893.2 3250.4L1924.8 3253.1" stroke="#151515" stroke-width="2.3"/><path d="M1940.7 3254.4L1923.3 3258.7L1924.2 3247.2Z" fill="#151515"/><path d="M1950.6 3250.4L1992.2 3254" stroke="#151515" stroke-width="2.3"/><path d="M2008.1 3255.4L1990.7 3259.7L1991.7 3248.2Z" fill="#151515"/><path d="M2008 3250.4L2054.6 3254.1" stroke="#151515" stroke-width="2.3"/><path d="M2070.5 3255.4L2053.1 3259.8L2054 3248.3Z" fill="#151515"/><path d="M2065.4 3250.4L2111.9 3253.4" stroke="#151515" stroke-width="2.3"/><path d="M2127.9 3254.4L2110.6 3259.1L2111.3 3247.6Z" fill="#151515"/><path d="M2122.8 3250.4L2174.3 3252.3" stroke="#151515" stroke-width="2.3"/><path d="M2190.3 3252.9L2173.1 3258L2173.5 3246.5Z" fill="#151515"/><path d="M2180.2 3250.4L2219.2 3250.4" stroke="#151515" stroke-width="2.3"/><path d="M2235.2 3250.4L2218.2 3256.2L2218.2 3244.7Z" fill="#151515"/><path d="M228.6 3306.8L217.1 3306.8" stroke="#151515" stroke-width="2.3"/><path d="M201.1 3306.8L218.1 3301.1L218.1 3312.6Z" fill="#151515"/><path d="M286 3306.8L233 3308" stroke="#151515" stroke-width="2.3"/><path d="M217 3308.3L233.9 3302.2L234.1 3313.7Z" fill="#151515"/><path d="M343.4 3306.8L263.9 3308.9" stroke="#151515" stroke-width="2.3"/><path d="M247.9 3309.3L264.7 3303.1L265 3314.6Z" fill="#151515"/><path d="M400.8 3306.8L304.8 3309.4" stroke="#151515" stroke-width="2.3"/><path d="M288.8 3309.8L305.6 3303.6L305.9 3315.1Z" fill="#151515"/><path d="M458.2 3306.8L350.7 3310.3" stroke="#151515" stroke-width="2.3"/><path d="M334.7 3310.8L351.5 3304.5L351.9 3316Z" fill="#151515"/><path d="M515.6 3306.8L401.6 3310.3" stroke="#151515" stroke-width="2.3"/><path d="M385.6 3310.8L402.4 3304.5L402.8 3316Z" fill="#151515"/><path d="M573 3306.8L462.5 3310.3" stroke="#151515" stroke-width="2.3"/><path d="M446.5 3310.8L463.3 3304.5L463.7 3316Z" fill="#151515"/><path d="M630.4 3306.8L538.4 3310.2" stroke="#151515" stroke-width="2.3"/><path d="M522.4 3310.8L539.2 3304.4L539.6 3315.9Z" fill="#151515"/><path d="M687.8 3306.8L644.3 3309.7" stroke="#151515" stroke-width="2.3"/><path d="M628.3 3310.8L644.9 3303.9L645.6 3315.4Z" fill="#151515"/><path d="M745.2 3306.8L742.6 3307" stroke="#151515" stroke-width="2.3"/><path d="M726.7 3308.3L743.2 3301.2L744.1 3312.7Z" fill="#151515"/><path d="M802.6 3306.8L798.6 3306.8" stroke="#151515" stroke-width="2.3"/><path d="M860 3306.8L852.5 3306.8" stroke="#151515" stroke-width="2.3"/><path d="M917.4 3306.8L911.4 3306.8" stroke="#151515" stroke-width="2.3"/><path d="M974.8 3306.8L967.3 3306.8" stroke="#151515" stroke-width="2.3"/><path d="M1032.2 3306.8L1017.2 3306.8" stroke="#151515" stroke-width="2.3"/><path d="M1001.2 3306.8L1018.2 3301.1L1018.2 3312.6Z" fill="#151515"/><path d="M1089.6 3306.8L1038.1 3306.8" stroke="#151515" stroke-width="2.3"/><path d="M1022.1 3306.8L1039.1 3301.1L1039.1 3312.6Z" fill="#151515"/><path d="M1147 3306.8L1076.5 3305.6" stroke="#151515" stroke-width="2.3"/><path d="M1060.5 3305.3L1077.6 3299.8L1077.4 3311.3Z" fill="#151515"/><path d="M1204.4 3306.8L1142.4 3304.8" stroke="#151515" stroke-width="2.3"/><path d="M1126.4 3304.3L1143.6 3299.1L1143.2 3310.6Z" fill="#151515"/><path d="M1261.8 3306.8L1223.3 3306.8" stroke="#151515" stroke-width="2.3"/><path d="M1207.3 3306.8L1224.3 3301.1L1224.3 3312.6Z" fill="#151515"/><path d="M1319.2 3306.8L1295.2 3306.8" stroke="#151515" stroke-width="2.3"/><path d="M1279.2 3306.8L1296.2 3301.1L1296.2 3312.6Z" fill="#151515"/><path d="M1376.6 3306.8L1365.9 3301.5" stroke="#151515" stroke-width="2.3"/><path d="M1351.6 3294.3L1369.4 3296.8L1364.2 3307Z" fill="#151515"/><path d="M1434 3306.8L1432.3 3300.7" stroke="#151515" stroke-width="2.3"/><path d="M1428 3285.3L1438.1 3300.1L1427 3303.2Z" fill="#151515"/><path d="M1491.4 3306.8L1495.9 3299.1" stroke="#151515" stroke-width="2.3"/><path d="M1503.9 3285.3L1500.3 3302.9L1490.4 3297.1Z" fill="#151515"/><path d="M1548.8 3306.8L1550.3 3305.7" stroke="#151515" stroke-width="2.3"/><path d="M1562.3 3296.3L1553 3310.8L1545.9 3301.7Z" fill="#151515"/><path d="M1606.2 3306.8L1609.7 3303.3" stroke="#151515" stroke-width="2.3"/><path d="M1663.6 3306.8L1659.3 3305.9" stroke="#151515" stroke-width="2.3"/><path d="M1643.6 3302.8L1661.4 3300.5L1659.1 3311.8Z" fill="#151515"/><path d="M1721 3306.8L1700.4 3301.1" stroke="#151515" stroke-width="2.3"/><path d="M1685 3296.8L1702.9 3295.8L1699.8 3306.9Z" fill="#151515"/><path d="M1778.4 3306.8L1767.8 3303.7" stroke="#151515" stroke-width="2.3"/><path d="M1752.4 3299.3L1770.3 3298.5L1767.1 3309.5Z" fill="#151515"/><path d="M1835.8 3306.8L1839.8 3305.8" stroke="#151515" stroke-width="2.3"/><path d="M1893.2 3306.8L1922.3 3310" stroke="#151515" stroke-width="2.3"/><path d="M1938.2 3311.8L1920.7 3315.6L1921.9 3304.2Z" fill="#151515"/><path d="M1950.6 3306.8L2017.2 3315.7" stroke="#151515" stroke-width="2.3"/><path d="M2033.1 3317.8L2015.5 3321.3L2017 3309.9Z" fill="#151515"/><path d="M2008 3306.8L2097.1 3318.7" stroke="#151515" stroke-width="2.3"/><path d="M2113 3320.8L2095.4 3324.3L2096.9 3312.9Z" fill="#151515"/><path d="M2065.4 3306.8L2164.5 3317.6" stroke="#151515" stroke-width="2.3"/><path d="M2180.4 3319.3L2162.9 3323.2L2164.1 3311.7Z" fill="#151515"/><path d="M2122.8 3306.8L2221.8 3312" stroke="#151515" stroke-width="2.3"/><path d="M2237.8 3312.8L2220.5 3317.7L2221.1 3306.2Z" fill="#151515"/><path d="M2180.2 3306.8L2264.2 3308.9" stroke="#151515" stroke-width="2.3"/><path d="M2280.2 3309.3L2263.1 3314.6L2263.3 3303.1Z" fill="#151515"/><path d="M228.6 3363.2L217.1 3363.2" stroke="#151515" stroke-width="2.3"/><path d="M201.1 3363.2L218.1 3357.4L218.1 3368.9Z" fill="#151515"/><path d="M286 3363.2L243 3363.2" stroke="#151515" stroke-width="2.3"/><path d="M227 3363.2L244 3357.4L244 3368.9Z" fill="#151515"/><path d="M343.4 3363.2L278.9 3364" stroke="#151515" stroke-width="2.3"/><path d="M262.9 3364.2L279.8 3358.2L280 3369.7Z" fill="#151515"/><path d="M400.8 3363.2L319.8 3364.9" stroke="#151515" stroke-width="2.3"/><path d="M303.8 3365.2L320.7 3359.1L320.9 3370.6Z" fill="#151515"/><path d="M458.2 3363.2L365.7 3365.8" stroke="#151515" stroke-width="2.3"/><path d="M349.7 3366.2L366.5 3360L366.9 3371.5Z" fill="#151515"/><path d="M515.6 3363.2L416.6 3366.6" stroke="#151515" stroke-width="2.3"/><path d="M400.6 3367.2L417.4 3360.9L417.8 3372.4Z" fill="#151515"/><path d="M573 3363.2L482.5 3368.3" stroke="#151515" stroke-width="2.3"/><path d="M466.5 3369.2L483.1 3362.5L483.8 3374Z" fill="#151515"/><path d="M630.4 3363.2L568.3 3369.2" stroke="#151515" stroke-width="2.3"/><path d="M552.4 3370.7L568.8 3363.3L569.9 3374.8Z" fill="#151515"/><path d="M687.8 3363.2L661.6 3366.9" stroke="#151515" stroke-width="2.3"/><path d="M645.8 3369.2L661.8 3361.1L663.4 3372.5Z" fill="#151515"/><path d="M745.2 3363.2L743.7 3362.8" stroke="#151515" stroke-width="2.3"/><path d="M735.2 3360.7L745.6 3359.4L743.8 3366.8Z" fill="#151515"/><path d="M802.6 3363.2L810.1 3365.7" stroke="#151515" stroke-width="2.3"/><path d="M860 3363.2L861.5 3363.6" stroke="#151515" stroke-width="2.3"/><path d="M870 3365.7L859.6 3367L861.4 3359.6Z" fill="#151515"/><path d="M917.4 3363.2L922.4 3364.7" stroke="#151515" stroke-width="2.3"/><path d="M974.8 3363.2L967.3 3365.7" stroke="#151515" stroke-width="2.3"/><path d="M1032.2 3363.2L1019.6 3364.3" stroke="#151515" stroke-width="2.3"/><path d="M1003.7 3365.7L1020.1 3358.5L1021.1 3369.9Z" fill="#151515"/><path d="M1089.6 3363.2L1058.1 3364.2" stroke="#151515" stroke-width="2.3"/><path d="M1042.1 3364.7L1058.9 3358.4L1059.3 3369.9Z" fill="#151515"/><path d="M1147 3363.2L1094 3360.1" stroke="#151515" stroke-width="2.3"/><path d="M1078 3359.2L1095.3 3354.4L1094.6 3365.9Z" fill="#151515"/><path d="M1204.4 3363.2L1142.3 3355.2" stroke="#151515" stroke-width="2.3"/><path d="M1126.4 3353.2L1144 3349.7L1142.5 3361.1Z" fill="#151515"/><path d="M1261.8 3363.2L1215.5 3353.9" stroke="#151515" stroke-width="2.3"/><path d="M1199.8 3350.7L1217.6 3348.4L1215.3 3359.7Z" fill="#151515"/><path d="M1319.2 3363.2L1301.4 3355.5" stroke="#151515" stroke-width="2.3"/><path d="M1286.7 3349.2L1304.6 3350.6L1300 3361.2Z" fill="#151515"/><path d="M1376.6 3363.2L1381.2 3352.8" stroke="#151515" stroke-width="2.3"/><path d="M1387.6 3338.2L1386 3356.1L1375.5 3351.4Z" fill="#151515"/><path d="M1434 3363.2L1456.9 3343.6" stroke="#151515" stroke-width="2.3"/><path d="M1469 3333.2L1459.8 3348.6L1452.4 3339.9Z" fill="#151515"/><path d="M1491.4 3363.2L1511.5 3346.8" stroke="#151515" stroke-width="2.3"/><path d="M1523.9 3336.7L1514.4 3351.9L1507.1 3343Z" fill="#151515"/><path d="M1548.8 3363.2L1550.5 3362.1" stroke="#151515" stroke-width="2.3"/><path d="M1563.8 3353.2L1552.8 3367.4L1546.5 3357.8Z" fill="#151515"/><path d="M1606.2 3363.2L1610.2 3365.2" stroke="#151515" stroke-width="2.3"/><path d="M1663.6 3363.2L1659.3 3362.3" stroke="#151515" stroke-width="2.3"/><path d="M1643.6 3359.2L1661.4 3356.9L1659.1 3368.2Z" fill="#151515"/><path d="M1721 3363.2L1705.4 3358.7" stroke="#151515" stroke-width="2.3"/><path d="M1690 3354.2L1707.9 3353.4L1704.7 3364.5Z" fill="#151515"/><path d="M1778.4 3363.2L1776.7 3362.5" stroke="#151515" stroke-width="2.3"/><path d="M1763.4 3357.2L1779.8 3357.6L1775.5 3368.2Z" fill="#151515"/><path d="M1835.8 3363.2L1834.1 3363.6" stroke="#151515" stroke-width="2.3"/><path d="M1821.8 3366.7L1833.8 3358.2L1836.4 3368.5Z" fill="#151515"/><path d="M1893.2 3363.2L1924.7 3364.9" stroke="#151515" stroke-width="2.3"/><path d="M1940.7 3365.7L1923.4 3370.5L1924 3359.1Z" fill="#151515"/><path d="M1950.6 3363.2L2007.2 3369.1" stroke="#151515" stroke-width="2.3"/><path d="M2023.1 3370.7L2005.6 3374.7L2006.8 3363.2Z" fill="#151515"/><path d="M2008 3363.2L2077.3 3376.2" stroke="#151515" stroke-width="2.3"/><path d="M2093 3379.2L2075.2 3381.7L2077.4 3370.4Z" fill="#151515"/><path d="M2065.4 3363.2L2144.6 3376.5" stroke="#151515" stroke-width="2.3"/><path d="M2160.4 3379.2L2142.7 3382L2144.6 3370.7Z" fill="#151515"/><path d="M2122.8 3363.2L2201.9 3371.5" stroke="#151515" stroke-width="2.3"/><path d="M2217.8 3373.2L2200.3 3377.1L2201.5 3365.7Z" fill="#151515"/><path d="M2180.2 3363.2L2249.2 3366.4" stroke="#151515" stroke-width="2.3"/><path d="M2265.2 3367.2L2247.9 3372.1L2248.5 3360.7Z" fill="#151515"/><path d="M228.6 3419.6L227.1 3419.6" stroke="#151515" stroke-width="2.3"/><path d="M218.6 3419.6L228.1 3415.9L228.1 3423.3Z" fill="#151515"/><path d="M286 3419.6L273 3419.6" stroke="#151515" stroke-width="2.3"/><path d="M257 3419.6L274 3413.8L274 3425.3Z" fill="#151515"/><path d="M343.4 3419.6L311.4 3419.6" stroke="#151515" stroke-width="2.3"/><path d="M295.4 3419.6L312.4 3413.8L312.4 3425.3Z" fill="#151515"/><path d="M400.8 3419.6L354.8 3420.7" stroke="#151515" stroke-width="2.3"/><path d="M338.8 3421.1L355.7 3414.9L355.9 3426.4Z" fill="#151515"/><path d="M458.2 3419.6L398.2 3421.6" stroke="#151515" stroke-width="2.3"/><path d="M382.2 3422.1L399 3415.8L399.4 3427.3Z" fill="#151515"/><path d="M515.6 3419.6L454.1 3422.8" stroke="#151515" stroke-width="2.3"/><path d="M438.1 3423.6L454.8 3417L455.4 3428.5Z" fill="#151515"/><path d="M573 3419.6L524.9 3424.1" stroke="#151515" stroke-width="2.3"/><path d="M509 3425.6L525.4 3418.3L526.5 3429.7Z" fill="#151515"/><path d="M630.4 3419.6L600.7 3424.5" stroke="#151515" stroke-width="2.3"/><path d="M584.9 3427.1L600.7 3418.7L602.6 3430Z" fill="#151515"/><path d="M687.8 3419.6L680.6 3422.5" stroke="#151515" stroke-width="2.3"/><path d="M665.8 3428.6L679.4 3416.8L683.7 3427.5Z" fill="#151515"/><path d="M745.2 3419.6L744.1 3420.7" stroke="#151515" stroke-width="2.3"/><path d="M737.7 3427.1L742.1 3417.2L747.6 3422.7Z" fill="#151515"/><path d="M802.6 3419.6L802.6 3427.1" stroke="#151515" stroke-width="2.3"/><path d="M860 3419.6L860 3427.1" stroke="#151515" stroke-width="2.3"/><path d="M917.4 3419.6L916.6 3420.8" stroke="#151515" stroke-width="2.3"/><path d="M912.4 3427.1L914.4 3418.1L919.9 3421.8Z" fill="#151515"/><path d="M974.8 3419.6L973.3 3419.9" stroke="#151515" stroke-width="2.3"/><path d="M963.8 3422.1L973.3 3415.7L975.2 3423.8Z" fill="#151515"/><path d="M1032.2 3419.6L1029.6 3419.8" stroke="#151515" stroke-width="2.3"/><path d="M1013.7 3421.1L1030.2 3414L1031.1 3425.5Z" fill="#151515"/><path d="M1089.6 3419.6L1078.1 3419.6" stroke="#151515" stroke-width="2.3"/><path d="M1062.1 3419.6L1079.1 3413.8L1079.1 3425.3Z" fill="#151515"/><path d="M1147 3419.6L1119 3418.3" stroke="#151515" stroke-width="2.3"/><path d="M1103 3417.6L1120.2 3412.6L1119.7 3424.1Z" fill="#151515"/><path d="M1204.4 3419.6L1157.4 3416.2" stroke="#151515" stroke-width="2.3"/><path d="M1141.4 3415.1L1158.8 3410.6L1157.9 3422Z" fill="#151515"/><path d="M1261.8 3419.6L1210.4 3408.5" stroke="#151515" stroke-width="2.3"/><path d="M1194.8 3405.1L1212.6 3403.1L1210.2 3414.3Z" fill="#151515"/><path d="M1319.2 3419.6L1283 3398.6" stroke="#151515" stroke-width="2.3"/><path d="M1269.2 3390.6L1286.8 3394.2L1281 3404.1Z" fill="#151515"/><path d="M1376.6 3419.6L1368.9 3394.9" stroke="#151515" stroke-width="2.3"/><path d="M1364.1 3379.6L1374.7 3394.1L1363.7 3397.5Z" fill="#151515"/><path d="M1434 3419.6L1443.4 3394.6" stroke="#151515" stroke-width="2.3"/><path d="M1449 3379.6L1448.4 3397.5L1437.6 3393.5Z" fill="#151515"/><path d="M1491.4 3419.6L1505.3 3405.1" stroke="#151515" stroke-width="2.3"/><path d="M1516.4 3393.6L1508.8 3409.8L1500.5 3401.9Z" fill="#151515"/><path d="M1548.8 3419.6L1552.8 3417.1" stroke="#151515" stroke-width="2.3"/><path d="M1566.3 3408.6L1555 3422.5L1548.8 3412.8Z" fill="#151515"/><path d="M1606.2 3419.6L1607.5 3419" stroke="#151515" stroke-width="2.3"/><path d="M1614.7 3415.6L1608.1 3422.5L1605.1 3416.3Z" fill="#151515"/><path d="M1663.6 3419.6L1668.6 3413.6" stroke="#151515" stroke-width="2.3"/><path d="M1721 3419.6L1720.3 3418.3" stroke="#151515" stroke-width="2.3"/><path d="M1716 3410.6L1724.1 3417.3L1717.4 3421Z" fill="#151515"/><path d="M1778.4 3419.6L1779.3 3418.3" stroke="#151515" stroke-width="2.3"/><path d="M1784.9 3409.6L1782.4 3421.5L1775 3416.7Z" fill="#151515"/><path d="M1835.8 3419.6L1842.5 3418.4" stroke="#151515" stroke-width="2.3"/><path d="M1858.3 3415.6L1842.6 3424.2L1840.6 3412.9Z" fill="#151515"/><path d="M1893.2 3419.6L1912.2 3421" stroke="#151515" stroke-width="2.3"/><path d="M1928.2 3422.1L1910.8 3426.6L1911.7 3415.2Z" fill="#151515"/><path d="M1950.6 3419.6L1980 3426.1" stroke="#151515" stroke-width="2.3"/><path d="M1995.6 3429.6L1977.8 3431.5L1980.3 3420.3Z" fill="#151515"/><path d="M2008 3419.6L2045.3 3432" stroke="#151515" stroke-width="2.3"/><path d="M2060.5 3437.1L2042.6 3437.2L2046.2 3426.3Z" fill="#151515"/><path d="M2065.4 3419.6L2115.1 3434.9" stroke="#151515" stroke-width="2.3"/><path d="M2130.4 3439.6L2112.5 3440.1L2115.8 3429.1Z" fill="#151515"/><path d="M2122.8 3419.6L2186.9 3427.6" stroke="#151515" stroke-width="2.3"/><path d="M2202.8 3429.6L2185.2 3433.2L2186.6 3421.8Z" fill="#151515"/><path d="M2180.2 3419.6L2239.2 3422.7" stroke="#151515" stroke-width="2.3"/><path d="M2255.2 3423.6L2237.9 3428.4L2238.5 3417Z" fill="#151515"/><path d="M286 3476L284.7 3475.3" stroke="#151515" stroke-width="2.3"/><path d="M278.5 3472L287.1 3473L284.1 3478.6Z" fill="#151515"/><path d="M343.4 3476L341.7 3475.7" stroke="#151515" stroke-width="2.3"/><path d="M328.4 3473.5L343.6 3470.3L341.7 3481.4Z" fill="#151515"/><path d="M400.8 3476L382.3 3476" stroke="#151515" stroke-width="2.3"/><path d="M366.3 3476L383.3 3470.2L383.3 3481.8Z" fill="#151515"/><path d="M458.2 3476L430.6 3478.5" stroke="#151515" stroke-width="2.3"/><path d="M414.7 3480L431.1 3472.7L432.2 3484.2Z" fill="#151515"/><path d="M515.6 3476L486.5 3479.2" stroke="#151515" stroke-width="2.3"/><path d="M470.6 3481L486.9 3473.4L488.1 3484.8Z" fill="#151515"/><path d="M573 3476L549.8 3479.6" stroke="#151515" stroke-width="2.3"/><path d="M534 3482L549.9 3473.7L551.7 3485.1Z" fill="#151515"/><path d="M630.4 3476L617.5 3480.6" stroke="#151515" stroke-width="2.3"/><path d="M602.4 3486L616.5 3474.9L620.3 3485.7Z" fill="#151515"/><path d="M687.8 3476L685.1 3478.3" stroke="#151515" stroke-width="2.3"/><path d="M672.8 3488.5L682.2 3473.2L689.5 3482Z" fill="#151515"/><path d="M745.2 3476L745.2 3477.5" stroke="#151515" stroke-width="2.3"/><path d="M745.2 3486L741.5 3476.5L748.9 3476.5Z" fill="#151515"/><path d="M802.6 3476L802.9 3477.6" stroke="#151515" stroke-width="2.3"/><path d="M805.1 3488.5L798.1 3477.5L807.3 3475.7Z" fill="#151515"/><path d="M860 3476L860.2 3477.5" stroke="#151515" stroke-width="2.3"/><path d="M861.5 3487L856 3477.1L864.1 3476Z" fill="#151515"/><path d="M917.4 3476L917.1 3477.6" stroke="#151515" stroke-width="2.3"/><path d="M914.9 3488.5L912.7 3475.7L921.9 3477.5Z" fill="#151515"/><path d="M974.8 3476L975.6 3474.8" stroke="#151515" stroke-width="2.3"/><path d="M979.8 3468.5L977.8 3477.5L972.3 3473.8Z" fill="#151515"/><path d="M1089.6 3476L1083.6 3473.5" stroke="#151515" stroke-width="2.3"/><path d="M1147 3476L1145.3 3476" stroke="#151515" stroke-width="2.3"/><path d="M1133 3476L1146.3 3470.8L1146.3 3481.2Z" fill="#151515"/><path d="M1204.4 3476L1179.9 3476" stroke="#151515" stroke-width="2.3"/><path d="M1163.9 3476L1180.9 3470.2L1180.9 3481.8Z" fill="#151515"/><path d="M1261.8 3476L1212.2 3462.7" stroke="#151515" stroke-width="2.3"/><path d="M1196.8 3458.5L1214.7 3457.4L1211.7 3468.5Z" fill="#151515"/><path d="M1319.2 3476L1271.1 3444.7" stroke="#151515" stroke-width="2.3"/><path d="M1257.7 3436L1275.1 3440.4L1268.8 3450.1Z" fill="#151515"/><path d="M1376.6 3476L1348.4 3436.5" stroke="#151515" stroke-width="2.3"/><path d="M1339.1 3423.5L1353.7 3434L1344.3 3440.7Z" fill="#151515"/><path d="M1434 3476L1430.7 3444.4" stroke="#151515" stroke-width="2.3"/><path d="M1429 3428.5L1436.5 3444.8L1425.1 3446Z" fill="#151515"/><path d="M1491.4 3476L1505.4 3458.5" stroke="#151515" stroke-width="2.3"/><path d="M1515.4 3446L1509.3 3462.9L1500.3 3455.7Z" fill="#151515"/><path d="M1548.8 3476L1570.2 3468.7" stroke="#151515" stroke-width="2.3"/><path d="M1585.3 3463.5L1571.1 3474.4L1567.4 3463.6Z" fill="#151515"/><path d="M1606.2 3476L1624.3 3473.9" stroke="#151515" stroke-width="2.3"/><path d="M1640.2 3472L1624 3479.7L1622.6 3468.3Z" fill="#151515"/><path d="M1663.6 3476L1665.3 3475.7" stroke="#151515" stroke-width="2.3"/><path d="M1678.6 3473.5L1665.3 3481.4L1663.4 3470.3Z" fill="#151515"/><path d="M1721 3476L1722.6 3475.5" stroke="#151515" stroke-width="2.3"/><path d="M1733.5 3472L1723.1 3480.4L1720.1 3471.2Z" fill="#151515"/><path d="M1778.4 3476L1780 3475.5" stroke="#151515" stroke-width="2.3"/><path d="M1790.9 3472L1780.5 3480.4L1777.5 3471.2Z" fill="#151515"/><path d="M1835.8 3476L1837.5 3475.7" stroke="#151515" stroke-width="2.3"/><path d="M1850.8 3473.5L1837.5 3481.4L1835.6 3470.3Z" fill="#151515"/><path d="M1893.2 3476L1894.9 3476.3" stroke="#151515" stroke-width="2.3"/><path d="M1908.2 3478.5L1893 3481.7L1894.9 3470.6Z" fill="#151515"/><path d="M1950.6 3476L1952.3 3477.1" stroke="#151515" stroke-width="2.3"/><path d="M1965.6 3486L1948.3 3481.4L1954.6 3471.8Z" fill="#151515"/><path d="M2008 3476L2022 3484.9" stroke="#151515" stroke-width="2.3"/><path d="M2035.5 3493.5L2018.1 3489.2L2024.2 3479.5Z" fill="#151515"/><path d="M2065.4 3476L2098.2 3489.8" stroke="#151515" stroke-width="2.3"/><path d="M2112.9 3496L2095 3494.7L2099.5 3484.1Z" fill="#151515"/><path d="M2122.8 3476L2169.7 3486.5" stroke="#151515" stroke-width="2.3"/><path d="M2185.3 3490L2167.5 3491.9L2170 3480.7Z" fill="#151515"/><path d="M2180.2 3476L2224.3 3479.7" stroke="#151515" stroke-width="2.3"/><path d="M2240.2 3481L2222.8 3485.3L2223.7 3473.9Z" fill="#151515"/><path d="M228.6 3532.4L230.3 3531.8" stroke="#151515" stroke-width="2.3"/><path d="M243.6 3527.4L231.2 3537.6L227.5 3526.7Z" fill="#151515"/><path d="M286 3532.4L286.9 3531.2" stroke="#151515" stroke-width="2.3"/><path d="M292 3524.9L289.1 3534.2L283.5 3529.8Z" fill="#151515"/><path d="M343.4 3532.4L343.4 3527.4" stroke="#151515" stroke-width="2.3"/><path d="M458.2 3532.4L457.1 3533.5" stroke="#151515" stroke-width="2.3"/><path d="M450.7 3539.9L455.1 3530L460.6 3535.5Z" fill="#151515"/><path d="M515.6 3532.4L514.1 3533.3" stroke="#151515" stroke-width="2.3"/><path d="M503.1 3539.9L512.2 3528.2L517.7 3537.4Z" fill="#151515"/><path d="M573 3532.4L571.4 3533.2" stroke="#151515" stroke-width="2.3"/><path d="M558 3539.9L569.7 3527.6L574.8 3537.9Z" fill="#151515"/><path d="M630.4 3532.4L626.4 3534.9" stroke="#151515" stroke-width="2.3"/><path d="M612.9 3543.4L624.2 3529.5L630.4 3539.2Z" fill="#151515"/><path d="M687.8 3532.4L682.8 3536.4" stroke="#151515" stroke-width="2.3"/><path d="M670.3 3546.4L680 3531.3L687.2 3540.3Z" fill="#151515"/><path d="M745.2 3532.4L744 3533.9" stroke="#151515" stroke-width="2.3"/><path d="M734.2 3546.4L740.1 3529.5L749.2 3536.7Z" fill="#151515"/><path d="M802.6 3532.4L802 3533.8" stroke="#151515" stroke-width="2.3"/><path d="M798.6 3542.4L798.7 3531.4L806.1 3534.4Z" fill="#151515"/><path d="M860 3532.4L860 3534" stroke="#151515" stroke-width="2.3"/><path d="M860 3543.4L855.9 3533L864.1 3533Z" fill="#151515"/><path d="M917.4 3532.4L916.7 3533.7" stroke="#151515" stroke-width="2.3"/><path d="M912.4 3541.4L913.8 3531L920.5 3534.7Z" fill="#151515"/><path d="M974.8 3532.4L975.8 3533.6" stroke="#151515" stroke-width="2.3"/><path d="M982.3 3540.9L972 3535.6L978.3 3530.1Z" fill="#151515"/><path d="M1147 3532.4L1139.5 3533.9" stroke="#151515" stroke-width="2.3"/><path d="M1204.4 3532.4L1190.2 3534.5" stroke="#151515" stroke-width="2.3"/><path d="M1174.4 3536.9L1190.4 3528.7L1192.1 3540.1Z" fill="#151515"/><path d="M1261.8 3532.4L1227.2 3522.7" stroke="#151515" stroke-width="2.3"/><path d="M1211.8 3518.4L1229.7 3517.4L1226.6 3528.5Z" fill="#151515"/><path d="M1319.2 3532.4L1275.2 3497.4" stroke="#151515" stroke-width="2.3"/><path d="M1262.7 3487.4L1279.6 3493.5L1272.4 3502.5Z" fill="#151515"/><path d="M1376.6 3532.4L1344.1 3480.9" stroke="#151515" stroke-width="2.3"/><path d="M1335.6 3467.4L1349.5 3478.7L1339.8 3484.8Z" fill="#151515"/><path d="M1434 3532.4L1428.5 3488.3" stroke="#151515" stroke-width="2.3"/><path d="M1426.5 3472.4L1434.3 3488.6L1422.9 3490Z" fill="#151515"/><path d="M1491.4 3532.4L1507.1 3510.4" stroke="#151515" stroke-width="2.3"/><path d="M1516.4 3497.4L1511.2 3514.6L1501.8 3507.9Z" fill="#151515"/><path d="M1548.8 3532.4L1573.7 3523.7" stroke="#151515" stroke-width="2.3"/><path d="M1588.8 3518.4L1574.7 3529.4L1570.9 3518.6Z" fill="#151515"/><path d="M1606.2 3532.4L1630.2 3530.9" stroke="#151515" stroke-width="2.3"/><path d="M1646.2 3529.9L1629.6 3536.7L1628.9 3525.2Z" fill="#151515"/><path d="M1663.6 3532.4L1680.1 3532.4" stroke="#151515" stroke-width="2.3"/><path d="M1696.1 3532.4L1679.1 3538.2L1679.1 3526.7Z" fill="#151515"/><path d="M1721 3532.4L1725 3532.1" stroke="#151515" stroke-width="2.3"/><path d="M1741 3530.9L1724.5 3537.9L1723.6 3526.4Z" fill="#151515"/><path d="M1778.4 3532.4L1783.4 3528.4" stroke="#151515" stroke-width="2.3"/><path d="M1835.8 3532.4L1834.3 3532.2" stroke="#151515" stroke-width="2.3"/><path d="M1825.8 3530.9L1835.9 3528.6L1834.7 3536Z" fill="#151515"/><path d="M1893.2 3532.4L1891.6 3532.9" stroke="#151515" stroke-width="2.3"/><path d="M1880.7 3536.4L1891.1 3528L1894.1 3537.2Z" fill="#151515"/><path d="M1950.6 3532.4L1950.2 3533.9" stroke="#151515" stroke-width="2.3"/><path d="M1948.1 3542.4L1946.8 3532L1954.2 3533.8Z" fill="#151515"/><path d="M2008 3532.4L2012.1 3536.7" stroke="#151515" stroke-width="2.3"/><path d="M2023 3548.4L2007.2 3539.9L2015.6 3532.1Z" fill="#151515"/><path d="M2065.4 3532.4L2088.4 3543.1" stroke="#151515" stroke-width="2.3"/><path d="M2102.9 3549.9L2085.1 3547.9L2089.9 3537.5Z" fill="#151515"/><path d="M2122.8 3532.4L2159.7 3541.2" stroke="#151515" stroke-width="2.3"/><path d="M2175.3 3544.9L2157.4 3546.6L2160.1 3535.4Z" fill="#151515"/><path d="M2180.2 3532.4L2214.3 3535.1" stroke="#151515" stroke-width="2.3"/><path d="M2230.2 3536.4L2212.8 3540.8L2213.7 3529.3Z" fill="#151515"/><path d="M228.6 3588.8L235.4 3586.7" stroke="#151515" stroke-width="2.3"/><path d="M250.6 3581.8L236.1 3592.4L232.7 3581.5Z" fill="#151515"/><path d="M286 3588.8L288.5 3587.6" stroke="#151515" stroke-width="2.3"/><path d="M303 3580.8L290.1 3593.2L285.2 3582.8Z" fill="#151515"/><path d="M343.4 3588.8L344.6 3588" stroke="#151515" stroke-width="2.3"/><path d="M350.4 3583.8L345.6 3591.1L341.9 3586Z" fill="#151515"/><path d="M400.8 3588.8L402.3 3588.8" stroke="#151515" stroke-width="2.3"/><path d="M410.8 3588.8L401.3 3592.5L401.3 3585.1Z" fill="#151515"/><path d="M458.2 3588.8L459.6 3589.6" stroke="#151515" stroke-width="2.3"/><path d="M468.2 3594.8L456.5 3592.8L460.9 3585.4Z" fill="#151515"/><path d="M515.6 3588.8L517 3589.6" stroke="#151515" stroke-width="2.3"/><path d="M525.6 3594.8L513.9 3592.8L518.3 3585.4Z" fill="#151515"/><path d="M573 3588.8L573.6 3590.2" stroke="#151515" stroke-width="2.3"/><path d="M577 3597.8L569.9 3590.7L576.5 3587.8Z" fill="#151515"/><path d="M630.4 3588.8L629.9 3590.3" stroke="#151515" stroke-width="2.3"/><path d="M626.4 3600.8L625.8 3587.9L634.6 3590.9Z" fill="#151515"/><path d="M687.8 3588.8L687.2 3590.4" stroke="#151515" stroke-width="2.3"/><path d="M682.8 3602.8L682.4 3587.7L692.7 3591.3Z" fill="#151515"/><path d="M745.2 3588.8L743.6 3590.7" stroke="#151515" stroke-width="2.3"/><path d="M733.2 3602.8L739.9 3586.2L748.6 3593.6Z" fill="#151515"/><path d="M802.6 3588.8L799.7 3591.3" stroke="#151515" stroke-width="2.3"/><path d="M787.6 3601.8L796.7 3586.3L804.2 3595Z" fill="#151515"/><path d="M860 3588.8L856.1 3591.6" stroke="#151515" stroke-width="2.3"/><path d="M843 3600.8L853.6 3586.3L860.2 3595.7Z" fill="#151515"/><path d="M917.4 3588.8L915.7 3589.9" stroke="#151515" stroke-width="2.3"/><path d="M902.4 3598.8L913.4 3584.6L919.7 3594.2Z" fill="#151515"/><path d="M974.8 3588.8L973.8 3590" stroke="#151515" stroke-width="2.3"/><path d="M967.3 3597.8L971.1 3586.5L977.8 3592Z" fill="#151515"/><path d="M1032.2 3588.8L1027.2 3590.3" stroke="#151515" stroke-width="2.3"/><path d="M1089.6 3588.8L1083.6 3586.3" stroke="#151515" stroke-width="2.3"/><path d="M1147 3588.8L1143 3588.8" stroke="#151515" stroke-width="2.3"/><path d="M1204.4 3588.8L1205.6 3588" stroke="#151515" stroke-width="2.3"/><path d="M1211.9 3583.8L1206.6 3591.3L1202.9 3585.8Z" fill="#151515"/><path d="M1261.8 3588.8L1258.7 3587.3" stroke="#151515" stroke-width="2.3"/><path d="M1244.3 3580.3L1262.1 3582.6L1257.1 3592.9Z" fill="#151515"/><path d="M1319.2 3588.8L1299.9 3556.5" stroke="#151515" stroke-width="2.3"/><path d="M1291.7 3542.8L1305.4 3554.4L1295.5 3560.3Z" fill="#151515"/><path d="M1376.6 3588.8L1356.9 3532.9" stroke="#151515" stroke-width="2.3"/><path d="M1351.6 3517.8L1362.7 3531.9L1351.8 3535.7Z" fill="#151515"/><path d="M1434 3588.8L1424.5 3538.5" stroke="#151515" stroke-width="2.3"/><path d="M1421.5 3522.8L1430.3 3538.4L1419 3540.6Z" fill="#151515"/><path d="M1491.4 3588.8L1493.7 3567.7" stroke="#151515" stroke-width="2.3"/><path d="M1495.4 3551.8L1499.3 3569.3L1487.9 3568.1Z" fill="#151515"/><path d="M1548.8 3588.8L1555.1 3585" stroke="#151515" stroke-width="2.3"/><path d="M1568.8 3576.8L1557.2 3590.5L1551.3 3580.6Z" fill="#151515"/><path d="M1606.2 3588.8L1622.8 3587" stroke="#151515" stroke-width="2.3"/><path d="M1638.7 3585.3L1622.4 3592.8L1621.2 3581.4Z" fill="#151515"/><path d="M1663.6 3588.8L1685.1 3588.8" stroke="#151515" stroke-width="2.3"/><path d="M1701.1 3588.8L1684.1 3594.6L1684.1 3583.1Z" fill="#151515"/><path d="M1721 3588.8L1727.6 3589.5" stroke="#151515" stroke-width="2.3"/><path d="M1743.5 3591.3L1726 3595.1L1727.2 3583.7Z" fill="#151515"/><path d="M1835.8 3588.8L1829.2 3589.5" stroke="#151515" stroke-width="2.3"/><path d="M1813.3 3591.3L1829.6 3583.7L1830.8 3595.1Z" fill="#151515"/><path d="M1893.2 3588.8L1886.6 3589.5" stroke="#151515" stroke-width="2.3"/><path d="M1870.7 3591.3L1887 3583.7L1888.2 3595.1Z" fill="#151515"/><path d="M1950.6 3588.8L1949.5 3589.9" stroke="#151515" stroke-width="2.3"/><path d="M1943.1 3596.3L1947.5 3586.4L1953 3591.9Z" fill="#151515"/><path d="M2008 3588.8L2010.3 3591.5" stroke="#151515" stroke-width="2.3"/><path d="M2020.5 3603.8L2005.2 3594.4L2014 3587.1Z" fill="#151515"/><path d="M2065.4 3588.8L2079.4 3597.7" stroke="#151515" stroke-width="2.3"/><path d="M2092.9 3606.3L2075.5 3602L2081.6 3592.3Z" fill="#151515"/><path d="M2122.8 3588.8L2147.5 3596.5" stroke="#151515" stroke-width="2.3"/><path d="M2162.8 3601.3L2144.9 3601.7L2148.3 3590.7Z" fill="#151515"/><path d="M2180.2 3588.8L2199.3 3591" stroke="#151515" stroke-width="2.3"/><path d="M2215.2 3592.8L2197.7 3596.6L2199 3585.2Z" fill="#151515"/><path d="M228.6 3645.2L237.4 3642.3" stroke="#151515" stroke-width="2.3"/><path d="M252.6 3637.2L238.3 3648L234.7 3637.1Z" fill="#151515"/><path d="M286 3645.2L291.4 3642.8" stroke="#151515" stroke-width="2.3"/><path d="M306 3636.2L292.9 3648.4L288.1 3637.9Z" fill="#151515"/><path d="M343.4 3645.2L342 3645.9" stroke="#151515" stroke-width="2.3"/><path d="M333.4 3650.2L341.1 3641.8L344.7 3649.1Z" fill="#151515"/><path d="M400.8 3645.2L402.4 3645.5" stroke="#151515" stroke-width="2.3"/><path d="M412.8 3647.2L400.7 3649.7L402.1 3640.9Z" fill="#151515"/><path d="M458.2 3645.2L469.9 3648.7" stroke="#151515" stroke-width="2.3"/><path d="M485.2 3653.2L467.3 3653.9L470.5 3642.9Z" fill="#151515"/><path d="M515.6 3645.2L532.8 3652.2" stroke="#151515" stroke-width="2.3"/><path d="M547.6 3658.2L529.7 3657.1L534 3646.5Z" fill="#151515"/><path d="M573 3645.2L583.4 3649.8" stroke="#151515" stroke-width="2.3"/><path d="M598 3656.2L580.1 3654.6L584.8 3644.1Z" fill="#151515"/><path d="M630.4 3645.2L634.7 3647.9" stroke="#151515" stroke-width="2.3"/><path d="M648.4 3656.2L630.9 3652.2L636.9 3642.4Z" fill="#151515"/><path d="M687.8 3645.2L689.3 3648.6" stroke="#151515" stroke-width="2.3"/><path d="M695.8 3663.2L683.6 3650L694.2 3645.3Z" fill="#151515"/><path d="M745.2 3645.2L745.2 3653.2" stroke="#151515" stroke-width="2.3"/><path d="M745.2 3669.2L739.5 3652.2L751 3652.2Z" fill="#151515"/><path d="M802.6 3645.2L797.9 3649.9" stroke="#151515" stroke-width="2.3"/><path d="M786.6 3661.2L794.6 3645.1L802.7 3653.2Z" fill="#151515"/><path d="M860 3645.2L852 3650.9" stroke="#151515" stroke-width="2.3"/><path d="M839 3660.2L849.5 3645.6L856.2 3655Z" fill="#151515"/><path d="M917.4 3645.2L910.3 3649.3" stroke="#151515" stroke-width="2.3"/><path d="M896.4 3657.2L908.3 3643.8L914 3653.8Z" fill="#151515"/><path d="M974.8 3645.2L968.4 3649.2" stroke="#151515" stroke-width="2.3"/><path d="M954.8 3657.7L966.2 3643.8L972.3 3653.6Z" fill="#151515"/><path d="M1032.2 3645.2L1018.5 3647.5" stroke="#151515" stroke-width="2.3"/><path d="M1002.7 3650.2L1018.5 3641.7L1020.4 3653Z" fill="#151515"/><path d="M1089.6 3645.2L1073.4 3642.7" stroke="#151515" stroke-width="2.3"/><path d="M1057.6 3640.2L1075.3 3637.1L1073.5 3648.5Z" fill="#151515"/><path d="M1147 3645.2L1143.4 3644.7" stroke="#151515" stroke-width="2.3"/><path d="M1127.5 3642.7L1145.1 3639.2L1143.6 3650.6Z" fill="#151515"/><path d="M1261.8 3645.2L1265.8 3643" stroke="#151515" stroke-width="2.3"/><path d="M1279.8 3635.2L1267.7 3648.5L1262.1 3638.4Z" fill="#151515"/><path d="M1319.2 3645.2L1333.4 3614.7" stroke="#151515" stroke-width="2.3"/><path d="M1340.2 3600.2L1338.2 3618L1327.8 3613.2Z" fill="#151515"/><path d="M1376.6 3645.2L1382.9 3598.6" stroke="#151515" stroke-width="2.3"/><path d="M1385.1 3582.7L1388.5 3600.3L1377.1 3598.8Z" fill="#151515"/><path d="M1434 3645.2L1434 3603.7" stroke="#151515" stroke-width="2.3"/><path d="M1434 3587.7L1439.7 3604.7L1428.2 3604.7Z" fill="#151515"/><path d="M1491.4 3645.2L1487.3 3625.8" stroke="#151515" stroke-width="2.3"/><path d="M1483.9 3610.2L1493.1 3625.6L1481.8 3628Z" fill="#151515"/><path d="M1548.8 3645.2L1548.9 3643.5" stroke="#151515" stroke-width="2.3"/><path d="M1549.8 3630.2L1554.4 3644.8L1543.3 3644.1Z" fill="#151515"/><path d="M1606.2 3645.2L1617.5 3641.6" stroke="#151515" stroke-width="2.3"/><path d="M1632.7 3636.7L1618.3 3647.4L1614.8 3636.4Z" fill="#151515"/><path d="M1663.6 3645.2L1692.6 3645.2" stroke="#151515" stroke-width="2.3"/><path d="M1708.6 3645.2L1691.6 3650.9L1691.6 3639.4Z" fill="#151515"/><path d="M1721 3645.2L1737.8 3648.3" stroke="#151515" stroke-width="2.3"/><path d="M1753.5 3651.2L1735.7 3653.8L1737.8 3642.5Z" fill="#151515"/><path d="M1778.4 3645.2L1778.9 3646.8" stroke="#151515" stroke-width="2.3"/><path d="M1782.4 3658.7L1773.6 3647.4L1783.6 3644.4Z" fill="#151515"/><path d="M1835.8 3645.2L1830.7 3645.8" stroke="#151515" stroke-width="2.3"/><path d="M1814.8 3647.7L1831 3640L1832.4 3651.4Z" fill="#151515"/><path d="M1893.2 3645.2L1889.2 3645.2" stroke="#151515" stroke-width="2.3"/><path d="M1873.2 3645.2L1890.2 3639.4L1890.2 3650.9Z" fill="#151515"/><path d="M1950.6 3645.2L1948.1 3645.2" stroke="#151515" stroke-width="2.3"/><path d="M2008 3645.2L2009.3 3646.3" stroke="#151515" stroke-width="2.3"/><path d="M2019 3654.2L2005.2 3649.7L2011.9 3641.6Z" fill="#151515"/><path d="M2065.4 3645.2L2074.9 3651.9" stroke="#151515" stroke-width="2.3"/><path d="M2087.9 3661.2L2070.7 3656L2077.4 3646.7Z" fill="#151515"/><path d="M2122.8 3645.2L2137.6 3650.1" stroke="#151515" stroke-width="2.3"/><path d="M2152.8 3655.2L2134.9 3655.3L2138.5 3644.4Z" fill="#151515"/><path d="M2180.2 3645.2L2191.7 3645.2" stroke="#151515" stroke-width="2.3"/><path d="M2207.7 3645.2L2190.7 3650.9L2190.7 3639.4Z" fill="#151515"/><path d="M228.6 3701.6L238.5 3698" stroke="#151515" stroke-width="2.3"/><path d="M253.6 3692.6L239.6 3703.8L235.7 3692.9Z" fill="#151515"/><path d="M286 3701.6L293.2 3698.7" stroke="#151515" stroke-width="2.3"/><path d="M308 3692.6L294.4 3704.4L290.1 3693.7Z" fill="#151515"/><path d="M343.4 3701.6L342 3702.3" stroke="#151515" stroke-width="2.3"/><path d="M333.4 3706.6L341.1 3698.2L344.7 3705.5Z" fill="#151515"/><path d="M400.8 3701.6L402.5 3700.9" stroke="#151515" stroke-width="2.3"/><path d="M415.8 3695.6L403.7 3706.6L399.4 3696Z" fill="#151515"/><path d="M458.2 3701.6L467.6 3703.9" stroke="#151515" stroke-width="2.3"/><path d="M483.2 3707.6L465.3 3709.2L468 3698Z" fill="#151515"/><path d="M515.6 3701.6L534.7 3708.9" stroke="#151515" stroke-width="2.3"/><path d="M549.6 3714.6L531.7 3713.9L535.8 3703.2Z" fill="#151515"/><path d="M573 3701.6L596.7 3708.9" stroke="#151515" stroke-width="2.3"/><path d="M612 3713.6L594.1 3714.1L597.4 3703.1Z" fill="#151515"/><path d="M630.4 3701.6L654.1 3708.9" stroke="#151515" stroke-width="2.3"/><path d="M669.4 3713.6L651.5 3714.1L654.8 3703.1Z" fill="#151515"/><path d="M687.8 3701.6L707.1 3713.3" stroke="#151515" stroke-width="2.3"/><path d="M720.8 3721.6L703.3 3717.7L709.2 3707.9Z" fill="#151515"/><path d="M745.2 3701.6L752.8 3714" stroke="#151515" stroke-width="2.3"/><path d="M761.2 3727.6L747.4 3716.1L757.2 3710.1Z" fill="#151515"/><path d="M802.6 3701.6L802.6 3703.4" stroke="#151515" stroke-width="2.3"/><path d="M802.6 3717.6L796.9 3702.4L808.4 3702.4Z" fill="#151515"/><path d="M860 3701.6L857.1 3705.2" stroke="#151515" stroke-width="2.3"/><path d="M847 3717.6L853.3 3700.8L862.2 3708Z" fill="#151515"/><path d="M917.4 3701.6L915.8 3702.3" stroke="#151515" stroke-width="2.3"/><path d="M904.4 3707.6L914.5 3697.1L919 3706.7Z" fill="#151515"/><path d="M974.8 3701.6L967.6 3707" stroke="#151515" stroke-width="2.3"/><path d="M954.8 3716.6L964.9 3701.8L971.9 3711Z" fill="#151515"/><path d="M1032.2 3701.6L1008.1 3708.3" stroke="#151515" stroke-width="2.3"/><path d="M992.7 3712.6L1007.5 3702.5L1010.6 3713.6Z" fill="#151515"/><path d="M1089.6 3701.6L1053.6 3699.9" stroke="#151515" stroke-width="2.3"/><path d="M1037.6 3699.1L1054.9 3694.2L1054.3 3705.7Z" fill="#151515"/><path d="M1147 3701.6L1125.6 3696.7" stroke="#151515" stroke-width="2.3"/><path d="M1110 3693.1L1127.9 3691.3L1125.3 3702.5Z" fill="#151515"/><path d="M1204.4 3701.6L1205.5 3700.7" stroke="#151515" stroke-width="2.3"/><path d="M1210.9 3696.6L1206.6 3703.8L1202.9 3698.9Z" fill="#151515"/><path d="M1261.8 3701.6L1304.3 3690.6" stroke="#151515" stroke-width="2.3"/><path d="M1319.8 3686.6L1304.8 3696.4L1301.9 3685.3Z" fill="#151515"/><path d="M1319.2 3701.6L1388.3 3667.7" stroke="#151515" stroke-width="2.3"/><path d="M1402.7 3660.6L1390 3673.3L1384.9 3662.9Z" fill="#151515"/><path d="M1376.6 3701.6L1430.5 3654.6" stroke="#151515" stroke-width="2.3"/><path d="M1442.6 3644.1L1433.6 3659.6L1426 3650.9Z" fill="#151515"/><path d="M1434 3701.6L1453.1 3668" stroke="#151515" stroke-width="2.3"/><path d="M1461 3654.1L1457.6 3671.7L1447.6 3666Z" fill="#151515"/><path d="M1491.4 3701.6L1490.3 3690" stroke="#151515" stroke-width="2.3"/><path d="M1488.9 3674.1L1496.2 3690.5L1484.7 3691.6Z" fill="#151515"/><path d="M1548.8 3701.6L1548.8 3699.7" stroke="#151515" stroke-width="2.3"/><path d="M1548.8 3684.1L1554.5 3700.7L1543 3700.7Z" fill="#151515"/><path d="M1606.2 3701.6L1617.3 3693.5" stroke="#151515" stroke-width="2.3"/><path d="M1630.2 3684.1L1619.9 3698.8L1613.1 3689.5Z" fill="#151515"/><path d="M1663.6 3701.6L1690.2 3698.5" stroke="#151515" stroke-width="2.3"/><path d="M1706.1 3696.6L1689.9 3704.3L1688.5 3692.9Z" fill="#151515"/><path d="M1721 3701.6L1737.6 3709.6" stroke="#151515" stroke-width="2.3"/><path d="M1752 3716.6L1734.2 3714.4L1739.2 3704Z" fill="#151515"/><path d="M1778.4 3701.6L1778.9 3705.7" stroke="#151515" stroke-width="2.3"/><path d="M1780.9 3721.6L1773.1 3705.4L1784.5 3704Z" fill="#151515"/><path d="M1835.8 3701.6L1834.5 3702.7" stroke="#151515" stroke-width="2.3"/><path d="M1824.8 3710.6L1831.9 3698L1838.6 3706.1Z" fill="#151515"/><path d="M1893.2 3701.6L1894.7 3701.7" stroke="#151515" stroke-width="2.3"/><path d="M1903.2 3702.6L1893.3 3705.3L1894.1 3698Z" fill="#151515"/><path d="M2008 3701.6L2006.5 3700.7" stroke="#151515" stroke-width="2.3"/><path d="M1995.5 3694.1L2010.1 3696.6L2004.6 3705.8Z" fill="#151515"/><path d="M2065.4 3701.6L2068.2 3704.7" stroke="#151515" stroke-width="2.3"/><path d="M2078.9 3716.6L2063.3 3707.8L2071.8 3700.1Z" fill="#151515"/><path d="M2122.8 3701.6L2127.9 3703.7" stroke="#151515" stroke-width="2.3"/><path d="M2142.8 3709.6L2124.9 3708.6L2129.2 3697.9Z" fill="#151515"/><path d="M2180.2 3701.6L2189.2 3701.6" stroke="#151515" stroke-width="2.3"/><path d="M2205.2 3701.6L2188.2 3707.3L2188.2 3695.8Z" fill="#151515"/><path d="M228.6 3758L236.3 3754.2" stroke="#151515" stroke-width="2.3"/><path d="M250.6 3747L238 3759.7L232.8 3749.5Z" fill="#151515"/><path d="M286 3758L293.4 3754.6" stroke="#151515" stroke-width="2.3"/><path d="M308 3748L294.9 3760.3L290.1 3749.8Z" fill="#151515"/><path d="M343.4 3758L342 3758.7" stroke="#151515" stroke-width="2.3"/><path d="M333.4 3763L341.1 3754.6L344.7 3761.9Z" fill="#151515"/><path d="M400.8 3758L402.4 3757.3" stroke="#151515" stroke-width="2.3"/><path d="M413.8 3752L403.7 3762.5L399.2 3752.9Z" fill="#151515"/><path d="M458.2 3758L459.9 3758.5" stroke="#151515" stroke-width="2.3"/><path d="M473.2 3762L457.5 3763.7L460.4 3752.7Z" fill="#151515"/><path d="M515.6 3758L530.6 3763.5" stroke="#151515" stroke-width="2.3"/><path d="M545.6 3769L527.7 3768.5L531.6 3757.7Z" fill="#151515"/><path d="M573 3758L594.7 3764.4" stroke="#151515" stroke-width="2.3"/><path d="M610 3769L592.1 3769.7L595.3 3758.6Z" fill="#151515"/><path d="M630.4 3758L654 3764.7" stroke="#151515" stroke-width="2.3"/><path d="M669.4 3769L651.5 3769.9L654.6 3758.9Z" fill="#151515"/><path d="M687.8 3758L702.3 3767.3" stroke="#151515" stroke-width="2.3"/><path d="M715.8 3776L698.4 3771.6L704.6 3762Z" fill="#151515"/><path d="M745.2 3758L754.4 3768.2" stroke="#151515" stroke-width="2.3"/><path d="M765.2 3780L749.5 3771.3L758 3763.6Z" fill="#151515"/><path d="M802.6 3758L803 3759.8" stroke="#151515" stroke-width="2.3"/><path d="M806.6 3774L797.2 3760.2L808.4 3757.4Z" fill="#151515"/><path d="M860 3758L859.4 3759.5" stroke="#151515" stroke-width="2.3"/><path d="M855 3770L855.3 3756.8L864.2 3760.4Z" fill="#151515"/><path d="M917.4 3758L915.9 3758.9" stroke="#151515" stroke-width="2.3"/><path d="M904.4 3766L913.8 3753.6L919.7 3763.2Z" fill="#151515"/><path d="M974.8 3758L961 3766.3" stroke="#151515" stroke-width="2.3"/><path d="M947.3 3774.5L958.9 3760.8L964.8 3770.7Z" fill="#151515"/><path d="M1032.2 3758L1012.7 3765.4" stroke="#151515" stroke-width="2.3"/><path d="M997.7 3771L1011.6 3759.6L1015.6 3770.4Z" fill="#151515"/><path d="M1089.6 3758L1073.6 3756.7" stroke="#151515" stroke-width="2.3"/><path d="M1057.6 3755.5L1075 3751.1L1074.1 3762.6Z" fill="#151515"/><path d="M1147 3758L1145.7 3756.8" stroke="#151515" stroke-width="2.3"/><path d="M1135 3747L1150.3 3753.2L1142.5 3761.7Z" fill="#151515"/><path d="M1204.4 3758L1210.4 3752.6" stroke="#151515" stroke-width="2.3"/><path d="M1222.4 3742L1213.5 3757.6L1205.9 3749Z" fill="#151515"/><path d="M1261.8 3758L1295.6 3740.4" stroke="#151515" stroke-width="2.3"/><path d="M1309.8 3733L1297.4 3746L1292.1 3735.8Z" fill="#151515"/><path d="M1319.2 3758L1368.8 3729.9" stroke="#151515" stroke-width="2.3"/><path d="M1382.7 3722L1370.7 3735.4L1365.1 3725.4Z" fill="#151515"/><path d="M1376.6 3758L1418.3 3726.6" stroke="#151515" stroke-width="2.3"/><path d="M1431.1 3717L1421 3731.8L1414.1 3722.6Z" fill="#151515"/><path d="M1434 3758L1456.6 3739.6" stroke="#151515" stroke-width="2.3"/><path d="M1469 3729.5L1459.4 3744.7L1452.2 3735.8Z" fill="#151515"/><path d="M1491.4 3758L1502.5 3750.7" stroke="#151515" stroke-width="2.3"/><path d="M1515.9 3742L1504.8 3756.1L1498.5 3746.5Z" fill="#151515"/><path d="M1548.8 3758L1559.3 3750.4" stroke="#151515" stroke-width="2.3"/><path d="M1572.3 3741L1561.9 3755.6L1555.2 3746.3Z" fill="#151515"/><path d="M1606.2 3758L1616.7 3749.5" stroke="#151515" stroke-width="2.3"/><path d="M1629.2 3739.5L1619.6 3754.6L1612.3 3745.7Z" fill="#151515"/><path d="M1663.6 3758L1665.3 3757.3" stroke="#151515" stroke-width="2.3"/><path d="M1678.6 3751.5L1666.6 3763L1662.1 3752.4Z" fill="#151515"/><path d="M1721 3758L1721.8 3759.6" stroke="#151515" stroke-width="2.3"/><path d="M1728.5 3773L1716.2 3761.3L1726.5 3756.2Z" fill="#151515"/><path d="M1778.4 3758L1778.4 3762" stroke="#151515" stroke-width="2.3"/><path d="M1778.4 3778L1772.6 3761L1784.1 3761Z" fill="#151515"/><path d="M1835.8 3758L1835.1 3759.5" stroke="#151515" stroke-width="2.3"/><path d="M1829.8 3770.5L1830.9 3756.4L1840.1 3760.8Z" fill="#151515"/><path d="M1893.2 3758L1894.5 3757.5" stroke="#151515" stroke-width="2.3"/><path d="M1900.7 3755L1894.7 3760.6L1892.5 3755.1Z" fill="#151515"/><path d="M1950.6 3758L1952 3757.3" stroke="#151515" stroke-width="2.3"/><path d="M1960.6 3753L1952.9 3761.4L1949.3 3754.1Z" fill="#151515"/><path d="M2008 3758L2007.7 3759.6" stroke="#151515" stroke-width="2.3"/><path d="M2006 3770.5L2003.3 3757.9L2012.5 3759.4Z" fill="#151515"/><path d="M2065.4 3758L2064 3756.9" stroke="#151515" stroke-width="2.3"/><path d="M2052.9 3748L2068.4 3753L2061.2 3762Z" fill="#151515"/><path d="M2122.8 3758L2124.5 3757.5" stroke="#151515" stroke-width="2.3"/><path d="M2137.8 3754L2125 3763.3L2122.1 3752.3Z" fill="#151515"/><path d="M2180.2 3758L2182.1 3757.7" stroke="#151515" stroke-width="2.3"/><path d="M2197.7 3755.5L2181.9 3763.6L2180.3 3752.2Z" fill="#151515"/><path d="M228.6 3814.4L232.5 3811.6" stroke="#151515" stroke-width="2.3"/><path d="M245.6 3802.4L235 3816.9L228.4 3807.5Z" fill="#151515"/><path d="M286 3814.4L292 3811.1" stroke="#151515" stroke-width="2.3"/><path d="M306 3803.4L293.9 3816.6L288.3 3806.6Z" fill="#151515"/><path d="M343.4 3814.4L342 3815.1" stroke="#151515" stroke-width="2.3"/><path d="M333.4 3819.4L341.1 3811L344.7 3818.3Z" fill="#151515"/><path d="M400.8 3814.4L402 3813.4" stroke="#151515" stroke-width="2.3"/><path d="M408.8 3807.4L403.8 3817L398.6 3811.1Z" fill="#151515"/><path d="M458.2 3814.4L459.6 3815" stroke="#151515" stroke-width="2.3"/><path d="M468.2 3818.4L457.2 3818.3L460.2 3810.9Z" fill="#151515"/><path d="M515.6 3814.4L524.2 3816.9" stroke="#151515" stroke-width="2.3"/><path d="M539.6 3821.4L521.7 3822.2L524.9 3811.1Z" fill="#151515"/><path d="M573 3814.4L592.6 3820" stroke="#151515" stroke-width="2.3"/><path d="M608 3824.4L590.1 3825.3L593.2 3814.2Z" fill="#151515"/><path d="M630.4 3814.4L652.2 3821.5" stroke="#151515" stroke-width="2.3"/><path d="M667.4 3826.4L649.5 3826.6L653 3815.7Z" fill="#151515"/><path d="M687.8 3814.4L701.9 3822.5" stroke="#151515" stroke-width="2.3"/><path d="M715.8 3830.4L698.2 3827L703.9 3817Z" fill="#151515"/><path d="M745.2 3814.4L753.9 3823.1" stroke="#151515" stroke-width="2.3"/><path d="M765.2 3834.4L749.1 3826.4L757.2 3818.3Z" fill="#151515"/><path d="M802.6 3814.4L804 3815.4" stroke="#151515" stroke-width="2.3"/><path d="M814.6 3822.4L800.2 3819.2L806.2 3810.4Z" fill="#151515"/><path d="M860 3814.4L858.7 3815.4" stroke="#151515" stroke-width="2.3"/><path d="M850 3822.4L856.5 3811.1L862.5 3818.5Z" fill="#151515"/><path d="M917.4 3814.4L910.8 3817.5" stroke="#151515" stroke-width="2.3"/><path d="M896.4 3824.4L909.3 3811.9L914.2 3822.3Z" fill="#151515"/><path d="M974.8 3814.4L954.4 3823.7" stroke="#151515" stroke-width="2.3"/><path d="M939.8 3830.4L952.9 3818.1L957.7 3828.6Z" fill="#151515"/><path d="M1032.2 3814.4L1017.4 3820.7" stroke="#151515" stroke-width="2.3"/><path d="M1002.7 3826.9L1016.1 3815L1020.6 3825.6Z" fill="#151515"/><path d="M1089.6 3814.4L1088 3814.1" stroke="#151515" stroke-width="2.3"/><path d="M1077.6 3812.4L1089.7 3809.9L1088.3 3818.7Z" fill="#151515"/><path d="M1147 3814.4L1149.3 3810.6" stroke="#151515" stroke-width="2.3"/><path d="M1157.5 3796.9L1153.7 3814.4L1143.8 3808.5Z" fill="#151515"/><path d="M1204.4 3814.4L1221.2 3797.3" stroke="#151515" stroke-width="2.3"/><path d="M1232.4 3785.9L1224.6 3802.1L1216.4 3794Z" fill="#151515"/><path d="M1261.8 3814.4L1288.7 3791.3" stroke="#151515" stroke-width="2.3"/><path d="M1300.8 3780.9L1291.7 3796.3L1284.2 3787.6Z" fill="#151515"/><path d="M1319.2 3814.4L1348.5 3791.7" stroke="#151515" stroke-width="2.3"/><path d="M1361.2 3781.9L1351.3 3796.9L1344.2 3787.8Z" fill="#151515"/><path d="M1376.6 3814.4L1403.6 3799.6" stroke="#151515" stroke-width="2.3"/><path d="M1417.6 3791.9L1405.5 3805.1L1399.9 3795Z" fill="#151515"/><path d="M1434 3814.4L1462.1 3806.3" stroke="#151515" stroke-width="2.3"/><path d="M1477.5 3801.9L1462.7 3812.1L1459.6 3801.1Z" fill="#151515"/><path d="M1491.4 3814.4L1529.2 3806.6" stroke="#151515" stroke-width="2.3"/><path d="M1544.9 3803.4L1529.4 3812.5L1527.1 3801.2Z" fill="#151515"/><path d="M1548.8 3814.4L1580 3801.9" stroke="#151515" stroke-width="2.3"/><path d="M1594.8 3795.9L1581.2 3807.6L1576.9 3796.9Z" fill="#151515"/><path d="M1606.2 3814.4L1614.7 3806.1" stroke="#151515" stroke-width="2.3"/><path d="M1626.2 3794.9L1618 3810.9L1610 3802.7Z" fill="#151515"/><path d="M1663.6 3814.4L1668.6 3809.4" stroke="#151515" stroke-width="2.3"/><path d="M1721 3814.4L1713.7 3818.7" stroke="#151515" stroke-width="2.3"/><path d="M1700 3826.9L1711.7 3813.3L1717.5 3823.1Z" fill="#151515"/><path d="M1778.4 3814.4L1776.1 3819.1" stroke="#151515" stroke-width="2.3"/><path d="M1768.9 3833.4L1771.4 3815.6L1781.6 3820.8Z" fill="#151515"/><path d="M1835.8 3814.4L1836 3816.1" stroke="#151515" stroke-width="2.3"/><path d="M1837.8 3827.9L1830.9 3815.8L1840.9 3814.3Z" fill="#151515"/><path d="M1950.6 3814.4L1952.2 3813.6" stroke="#151515" stroke-width="2.3"/><path d="M1965.6 3806.9L1953.9 3819.2L1948.8 3808.9Z" fill="#151515"/><path d="M2008 3814.4L2009.6 3813.6" stroke="#151515" stroke-width="2.3"/><path d="M2023 3806.9L2011.3 3819.2L2006.2 3808.9Z" fill="#151515"/><path d="M2065.4 3814.4L2065.2 3816" stroke="#151515" stroke-width="2.3"/><path d="M2063.9 3826.9L2060.7 3814.5L2069.9 3815.6Z" fill="#151515"/><path d="M2122.8 3814.4L2124.1 3815.5" stroke="#151515" stroke-width="2.3"/><path d="M2132.8 3822.9L2120.2 3818.5L2126.4 3811.1Z" fill="#151515"/><path d="M2180.2 3814.4L2181.6 3815.3" stroke="#151515" stroke-width="2.3"/><path d="M2191.7 3821.4L2178.2 3819L2183.4 3810.5Z" fill="#151515"/><path d="M228.6 3870.8L236.4 3864.2" stroke="#151515" stroke-width="2.3"/><path d="M248.6 3853.8L239.4 3869.2L231.9 3860.4Z" fill="#151515"/><path d="M286 3870.8L292.1 3866.3" stroke="#151515" stroke-width="2.3"/><path d="M305 3856.8L294.7 3871.5L287.9 3862.3Z" fill="#151515"/><path d="M343.4 3870.8L342 3871.5" stroke="#151515" stroke-width="2.3"/><path d="M333.4 3875.8L341.1 3867.4L344.7 3874.7Z" fill="#151515"/><path d="M400.8 3870.8L406.8 3866.8" stroke="#151515" stroke-width="2.3"/><path d="M458.2 3870.8L459.6 3871.1" stroke="#151515" stroke-width="2.3"/><path d="M466.2 3872.8L457.9 3873.9L459.3 3867.9Z" fill="#151515"/><path d="M515.6 3870.8L517.3 3871.4" stroke="#151515" stroke-width="2.3"/><path d="M530.6 3875.8L514.5 3876.5L518.2 3865.6Z" fill="#151515"/><path d="M573 3870.8L581.8 3873.7" stroke="#151515" stroke-width="2.3"/><path d="M597 3878.8L579.1 3878.9L582.7 3868Z" fill="#151515"/><path d="M630.4 3870.8L642.8 3876.3" stroke="#151515" stroke-width="2.3"/><path d="M657.4 3882.8L639.5 3881.2L644.2 3870.6Z" fill="#151515"/><path d="M687.8 3870.8L698.4 3875.9" stroke="#151515" stroke-width="2.3"/><path d="M712.8 3882.8L695 3880.6L700 3870.3Z" fill="#151515"/><path d="M745.2 3870.8L751.5 3874.6" stroke="#151515" stroke-width="2.3"/><path d="M765.2 3882.8L747.7 3879L753.6 3869.1Z" fill="#151515"/><path d="M802.6 3870.8L804 3871.6" stroke="#151515" stroke-width="2.3"/><path d="M812.6 3876.8L800.9 3874.8L805.3 3867.4Z" fill="#151515"/><path d="M860 3870.8L858.8 3870" stroke="#151515" stroke-width="2.3"/><path d="M852 3865.8L861.4 3867.6L857.8 3873.5Z" fill="#151515"/><path d="M917.4 3870.8L915.2 3871.2" stroke="#151515" stroke-width="2.3"/><path d="M899.4 3873.8L915.2 3865.3L917.1 3876.7Z" fill="#151515"/><path d="M974.8 3870.8L954.9 3877.9" stroke="#151515" stroke-width="2.3"/><path d="M939.8 3883.3L953.9 3872.2L957.7 3883Z" fill="#151515"/><path d="M1032.2 3870.8L1025.8 3872.3" stroke="#151515" stroke-width="2.3"/><path d="M1010.2 3875.8L1025.5 3866.4L1028.1 3877.6Z" fill="#151515"/><path d="M1089.6 3870.8L1091.1 3878.3" stroke="#151515" stroke-width="2.3"/><path d="M1147 3870.8L1151.6 3863.4" stroke="#151515" stroke-width="2.3"/><path d="M1160 3849.8L1155.9 3867.3L1146.2 3861.2Z" fill="#151515"/><path d="M1204.4 3870.8L1210.2 3855.7" stroke="#151515" stroke-width="2.3"/><path d="M1215.9 3840.8L1215.2 3858.7L1204.4 3854.6Z" fill="#151515"/><path d="M1261.8 3870.8L1258.9 3856.5" stroke="#151515" stroke-width="2.3"/><path d="M1255.8 3840.8L1264.8 3856.3L1253.5 3858.6Z" fill="#151515"/><path d="M1319.2 3870.8L1306.5 3855.6" stroke="#151515" stroke-width="2.3"/><path d="M1296.2 3843.3L1311.5 3852.7L1302.7 3860Z" fill="#151515"/><path d="M1376.6 3870.8L1370.2 3861.5" stroke="#151515" stroke-width="2.3"/><path d="M1361.1 3848.3L1375.5 3859L1366 3865.6Z" fill="#151515"/><path d="M1434 3870.8L1447.1 3861.2" stroke="#151515" stroke-width="2.3"/><path d="M1460 3851.8L1449.7 3866.5L1442.9 3857.2Z" fill="#151515"/><path d="M1491.4 3870.8L1541.8 3859.3" stroke="#151515" stroke-width="2.3"/><path d="M1557.4 3855.8L1542.1 3865.2L1539.5 3854Z" fill="#151515"/><path d="M1548.8 3870.8L1601.5 3863.1" stroke="#151515" stroke-width="2.3"/><path d="M1617.3 3860.8L1601.3 3868.9L1599.6 3857.6Z" fill="#151515"/><path d="M1606.2 3870.8L1604.4 3870.8" stroke="#151515" stroke-width="2.3"/><path d="M1591.2 3870.8L1605.4 3865.3L1605.4 3876.3Z" fill="#151515"/><path d="M1663.6 3870.8L1661.7 3871" stroke="#151515" stroke-width="2.3"/><path d="M1646.1 3872.3L1662.2 3865.1L1663.2 3876.6Z" fill="#151515"/><path d="M1721 3870.8L1706.5 3874.4" stroke="#151515" stroke-width="2.3"/><path d="M1691 3878.3L1706.1 3868.6L1708.9 3879.8Z" fill="#151515"/><path d="M1778.4 3870.8L1779.8 3869.7" stroke="#151515" stroke-width="2.3"/><path d="M1790.9 3860.8L1782.6 3874.8L1775.4 3865.8Z" fill="#151515"/><path d="M1835.8 3870.8L1836.3 3872.3" stroke="#151515" stroke-width="2.3"/><path d="M1839.3 3881.8L1831.9 3872.6L1840 3870.1Z" fill="#151515"/><path d="M1893.2 3870.8L1894.1 3869.4" stroke="#151515" stroke-width="2.3"/><path d="M1900.7 3859.8L1897.6 3873L1889.5 3867.5Z" fill="#151515"/><path d="M1950.6 3870.8L1953.9 3869.1" stroke="#151515" stroke-width="2.3"/><path d="M1968.1 3861.8L1955.6 3874.7L1950.4 3864.5Z" fill="#151515"/><path d="M2008 3870.8L2010.3 3869.6" stroke="#151515" stroke-width="2.3"/><path d="M2024.5 3862.3L2012 3875.2L2006.8 3865Z" fill="#151515"/><path d="M2065.4 3870.8L2066.6 3869.7" stroke="#151515" stroke-width="2.3"/><path d="M2074.4 3862.8L2068.8 3873.7L2062.9 3867.1Z" fill="#151515"/><path d="M2122.8 3870.8L2127.8 3864.8" stroke="#151515" stroke-width="2.3"/><path d="M2180.2 3870.8L2185.2 3865.8" stroke="#151515" stroke-width="2.3"/><path d="M228.6 3927.2L236.4 3920.6" stroke="#151515" stroke-width="2.3"/><path d="M248.6 3910.2L239.4 3925.6L231.9 3916.8Z" fill="#151515"/><path d="M286 3927.2L289.1 3923.9" stroke="#151515" stroke-width="2.3"/><path d="M300 3912.2L292.6 3928.6L284.2 3920.7Z" fill="#151515"/><path d="M343.4 3927.2L344.1 3925.8" stroke="#151515" stroke-width="2.3"/><path d="M348.4 3917.2L347.3 3928.5L340 3924.9Z" fill="#151515"/><path d="M400.8 3927.2L404.8 3927.2" stroke="#151515" stroke-width="2.3"/><path d="M458.2 3927.2L462.2 3927.2" stroke="#151515" stroke-width="2.3"/><path d="M515.6 3927.2L519.6 3927.2" stroke="#151515" stroke-width="2.3"/><path d="M573 3927.2L577 3927.2" stroke="#151515" stroke-width="2.3"/><path d="M630.4 3927.2L634.4 3927.2" stroke="#151515" stroke-width="2.3"/><path d="M687.8 3927.2L691.8 3927.2" stroke="#151515" stroke-width="2.3"/><path d="M745.2 3927.2L749.2 3927.2" stroke="#151515" stroke-width="2.3"/><path d="M802.6 3927.2L806.6 3927.2" stroke="#151515" stroke-width="2.3"/><path d="M860 3927.2L864 3927.2" stroke="#151515" stroke-width="2.3"/><path d="M917.4 3927.2L921.4 3927.2" stroke="#151515" stroke-width="2.3"/><path d="M1089.6 3927.2L1087.1 3931.2" stroke="#151515" stroke-width="2.3"/><path d="M1147 3927.2L1147.6 3920.6" stroke="#151515" stroke-width="2.3"/><path d="M1149 3904.7L1153.2 3922.1L1141.8 3921.1Z" fill="#151515"/><path d="M1204.4 3927.2L1205.1 3914.7" stroke="#151515" stroke-width="2.3"/><path d="M1205.9 3898.7L1210.7 3916L1199.3 3915.4Z" fill="#151515"/><path d="M1261.8 3927.2L1258.3 3915.1" stroke="#151515" stroke-width="2.3"/><path d="M1253.8 3899.7L1264.1 3914.4L1253 3917.6Z" fill="#151515"/><path d="M1319.2 3927.2L1307 3914" stroke="#151515" stroke-width="2.3"/><path d="M1296.2 3902.2L1311.9 3910.8L1303.5 3918.6Z" fill="#151515"/><path d="M1376.6 3927.2L1369.6 3917.6" stroke="#151515" stroke-width="2.3"/><path d="M1360.1 3904.7L1374.8 3915L1365.5 3921.8Z" fill="#151515"/><path d="M1434 3927.2L1444.1 3916.4" stroke="#151515" stroke-width="2.3"/><path d="M1455 3904.7L1447.6 3921.1L1439.2 3913.2Z" fill="#151515"/><path d="M1491.4 3927.2L1539.6 3912" stroke="#151515" stroke-width="2.3"/><path d="M1554.9 3907.2L1540.4 3917.8L1537 3906.8Z" fill="#151515"/><path d="M1548.8 3927.2L1599 3919.6" stroke="#151515" stroke-width="2.3"/><path d="M1614.8 3917.2L1598.9 3925.4L1597.1 3914.1Z" fill="#151515"/><path d="M1606.2 3927.2L1604.6 3927.2" stroke="#151515" stroke-width="2.3"/><path d="M1593.7 3927.2L1605.6 3922.6L1605.6 3931.8Z" fill="#151515"/><path d="M1663.6 3927.2L1662.1 3927.2" stroke="#151515" stroke-width="2.3"/><path d="M1653.6 3927.2L1663.1 3923.5L1663.1 3930.9Z" fill="#151515"/><path d="M1893.2 3927.2L1894.5 3926.7" stroke="#151515" stroke-width="2.3"/><path d="M1900.7 3924.2L1894.7 3929.8L1892.5 3924.3Z" fill="#151515"/><path d="M1950.6 3927.2L1952.2 3927.2" stroke="#151515" stroke-width="2.3"/><path d="M1963.1 3927.2L1951.2 3931.8L1951.2 3922.6Z" fill="#151515"/></g>
<polygon points="341.8,3960.1 350.2,3934.7 358.7,3911.1 367.1,3894.2 372.2,3897.6 382.3,3884.1 389.1,3863.8 394.1,3847 402.6,3833.5 419.4,3826.7 436.3,3823.3 449.8,3816.6 458.3,3811.5 466.7,3816.6 473.5,3830.1 480.2,3835.2 490.3,3833.5 500.5,3828.4 510.6,3826.7 524.1,3828.4 537.6,3830.1 554.5,3835.2 571.4,3836.8 588.3,3835.2 622,3836.8 655.8,3838.5 700,3835.2 716.6,3837.3 765.5,3841.4 798,3825.1 846.9,3812.9 879.5,3812.9 912.1,3829.2 920,3852.5 950,3860 970,3870 1000,3882.5 1030,3895 1055,3905 1065,3897.5 1090,3895 1120,3905 1150,3912.5 1200,3912.5 1245,3907.5 1270,3900 1300,3897.5 1330,3905 1360,3915 1395,3917.5 1440,3914 1485,3910 1535,3907.5 1585,3902.5 1620,3895 1640,3885 1660.5,3882.5 1690,3882.5 1715,3885 1740,3895 1760,3910 1780,3925 1810,3932.5 1835,3935 1860,3942.5 1880,3945 1905,3940 1925,3950 1950,3967.5 1960,3945 1970,3910 1980,3885 1992.5,3887.5 2005,3895 2010,3920 2017.5,3932.5 2025,3905 2035,3900 2050,3912.5 2070,3902.5 2085,3907.5 2095,3902.5 2105,3920 2117.5,3930 2130,3900 2135,3890 2145,3900 2155,3885 2165,3905 2180,3915 2190,3907.5 2205,3927.5 2207.5,3967.5 2207.5,3968 2207.5,3966 341,3966" fill="#848078" fill-opacity="0.76"/>
<path d="M345.2 3165.5v12M345.2 3966v-12" stroke="#aaa" stroke-width="2"/>
<path d="M574.8 3165.5v12M574.8 3966v-12" stroke="#aaa" stroke-width="2"/>
<path d="M804.2 3165.5v12M804.2 3966v-12" stroke="#aaa" stroke-width="2"/>
<path d="M1033.8 3165.5v12M1033.8 3966v-12" stroke="#aaa" stroke-width="2"/>
<path d="M1263.2 3165.5v12M1263.2 3966v-12" stroke="#aaa" stroke-width="2"/>
<path d="M1492.8 3165.5v12M1492.8 3966v-12" stroke="#aaa" stroke-width="2"/>
<path d="M1722.2 3165.5v12M1722.2 3966v-12" stroke="#aaa" stroke-width="2"/>
<path d="M1951.8 3165.5v12M1951.8 3966v-12" stroke="#aaa" stroke-width="2"/>
<path d="M2181.2 3165.5v12M2181.2 3966v-12" stroke="#aaa" stroke-width="2"/>
<path d="M230.5 3165.5v26M230.5 3966v-26" stroke="#4a4a4a" stroke-width="2.5"/>
<path d="M460 3165.5v26M460 3966v-26" stroke="#4a4a4a" stroke-width="2.5"/>
<path d="M689.5 3165.5v26M689.5 3966v-26" stroke="#4a4a4a" stroke-width="2.5"/>
<path d="M919 3165.5v26M919 3966v-26" stroke="#4a4a4a" stroke-width="2.5"/>
<path d="M1148.5 3165.5v26M1148.5 3966v-26" stroke="#4a4a4a" stroke-width="2.5"/>
<path d="M1378 3165.5v26M1378 3966v-26" stroke="#4a4a4a" stroke-width="2.5"/>
<path d="M1607.5 3165.5v26M1607.5 3966v-26" stroke="#4a4a4a" stroke-width="2.5"/>
<path d="M1837 3165.5v26M1837 3966v-26" stroke="#4a4a4a" stroke-width="2.5"/>
<path d="M2066.5 3165.5v26M2066.5 3966v-26" stroke="#4a4a4a" stroke-width="2.5"/>
<path d="M179 3238.6h26M2229.6 3238.6h-26" stroke="#aaa" stroke-width="2"/>
<path d="M179 3393.5h26M2229.6 3393.5h-26" stroke="#aaa" stroke-width="2"/>
<path d="M179 3547.5h26M2229.6 3547.5h-26" stroke="#aaa" stroke-width="2"/>
<path d="M179 3701h26M2229.6 3701h-26" stroke="#aaa" stroke-width="2"/>
<path d="M179 3856h26M2229.6 3856h-26" stroke="#aaa" stroke-width="2"/>
<path d="M179 3316h36M2229.6 3316h-36" stroke="#4a4a4a" stroke-width="2.5"/>
<path d="M179 3471h36M2229.6 3471h-36" stroke="#4a4a4a" stroke-width="2.5"/>
<path d="M179 3624h36M2229.6 3624h-36" stroke="#4a4a4a" stroke-width="2.5"/>
<path d="M179 3778.7h36M2229.6 3778.7h-36" stroke="#4a4a4a" stroke-width="2.5"/>
<path d="M179 3933.4h36M2229.6 3933.4h-36" stroke="#4a4a4a" stroke-width="2.5"/>
<rect x="179" y="3165.5" width="2050.6" height="800.5" fill="none" stroke="#4a4a4a" stroke-width="3.2"/>
<text transform="translate(142.5 3316) rotate(-90)" font-size="43" text-anchor="middle" fill="#444" stroke="#444" stroke-width="0.4" textLength="56" lengthAdjust="spacingAndGlyphs">200</text>
<text transform="translate(142.5 3471) rotate(-90)" font-size="43" text-anchor="middle" fill="#444" stroke="#444" stroke-width="0.4" textLength="56" lengthAdjust="spacingAndGlyphs">400</text>
<text transform="translate(142.5 3624) rotate(-90)" font-size="43" text-anchor="middle" fill="#444" stroke="#444" stroke-width="0.4" textLength="56" lengthAdjust="spacingAndGlyphs">600</text>
<text transform="translate(142.5 3778.7) rotate(-90)" font-size="43" text-anchor="middle" fill="#444" stroke="#444" stroke-width="0.4" textLength="56" lengthAdjust="spacingAndGlyphs">800</text>
<text transform="translate(142.5 3933.4) rotate(-90)" font-size="43" text-anchor="middle" fill="#444" stroke="#444" stroke-width="0.4" textLength="75" lengthAdjust="spacingAndGlyphs">1000</text>
<text transform="translate(71 3625) rotate(-90)" font-size="47" text-anchor="middle" fill="#222" textLength="309" lengthAdjust="spacingAndGlyphs">Pressure (hPa)</text>
<text x="229.5" y="4029" font-size="33" text-anchor="middle" fill="#444" stroke="#444" stroke-width="0.5" textLength="90" lengthAdjust="spacingAndGlyphs">40°S</text>
<text x="459" y="4029" font-size="33" text-anchor="middle" fill="#444" stroke="#444" stroke-width="0.5" textLength="90" lengthAdjust="spacingAndGlyphs">30°S</text>
<text x="688.5" y="4029" font-size="33" text-anchor="middle" fill="#444" stroke="#444" stroke-width="0.5" textLength="90" lengthAdjust="spacingAndGlyphs">20°S</text>
<text x="918" y="4029" font-size="33" text-anchor="middle" fill="#444" stroke="#444" stroke-width="0.5" textLength="90" lengthAdjust="spacingAndGlyphs">10°S</text>
<text x="1147.5" y="4029" font-size="33" text-anchor="middle" fill="#444" stroke="#444" stroke-width="0.5" textLength="30" lengthAdjust="spacingAndGlyphs">0°</text>
<text x="1377" y="4029" font-size="33" text-anchor="middle" fill="#444" stroke="#444" stroke-width="0.5" textLength="90" lengthAdjust="spacingAndGlyphs">10°N</text>
<text x="1606.5" y="4029" font-size="33" text-anchor="middle" fill="#444" stroke="#444" stroke-width="0.5" textLength="90" lengthAdjust="spacingAndGlyphs">20°N</text>
<text x="1836" y="4029" font-size="33" text-anchor="middle" fill="#444" stroke="#444" stroke-width="0.5" textLength="90" lengthAdjust="spacingAndGlyphs">30°N</text>
<text x="2065.5" y="4029" font-size="33" text-anchor="middle" fill="#444" stroke="#444" stroke-width="0.5" textLength="90" lengthAdjust="spacingAndGlyphs">40°N</text>
<text x="1204" y="4072.5" font-size="41" text-anchor="middle" fill="#333" stroke="#333" stroke-width="0.7" textLength="57" lengthAdjust="spacingAndGlyphs">lat</text>
<text x="527.7" y="4002" font-size="43" fill="#111" textLength="307" lengthAdjust="spacingAndGlyphs">southern Africa</text>
<text x="1079" y="4002" font-size="43" fill="#111" textLength="126" lengthAdjust="spacingAndGlyphs">Congo</text>
<text x="1321.5" y="4002" font-size="43" fill="#111" textLength="106" lengthAdjust="spacingAndGlyphs">Sahel</text>
<text x="1531.5" y="4002" font-size="43" fill="#111" textLength="134.2" lengthAdjust="spacingAndGlyphs">Sahara</text>
<text x="1851.5" y="4002" font-size="43" fill="#111" textLength="298.5" lengthAdjust="spacingAndGlyphs">Mediterranean</text>
<rect x="2253" y="3238.7" width="28.5" height="613.3" fill="url(#cbd)"/>
<text x="2291" y="3265" font-size="43" fill="#0a0a1a">10</text>
<text x="2291" y="3410.5" font-size="43" fill="#0a0a1a">5</text>
<text x="2291" y="3560.5" font-size="43" fill="#0a0a1a">0</text>
<text x="2290" y="3709.5" font-size="43" fill="#0a0a1a">-5</text>
<text x="2290" y="3860.5" font-size="43" fill="#0a0a1a">-10</text>
<text x="2302" y="3908" font-size="43" fill="#0a0a1a">m/s</text>
<text x="1107.5" y="3227.5" font-size="44" font-weight="bold" fill="#fff" textLength="80" lengthAdjust="spacingAndGlyphs">TEJ</text>
<text x="268" y="3249" class="pl" font-size="108" fill="#000">d</text></g>
</svg>
</body></html>
